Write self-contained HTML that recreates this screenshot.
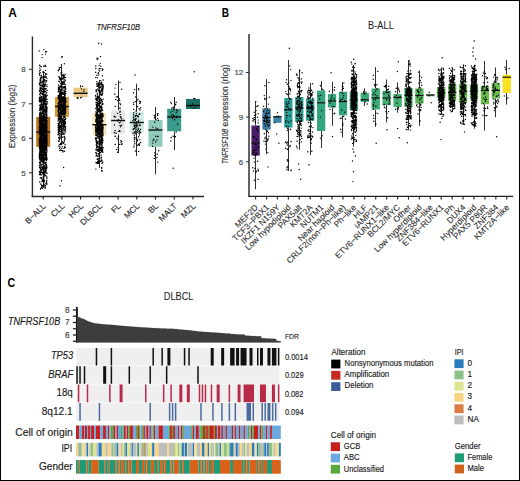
<!DOCTYPE html>
<html><head><meta charset="utf-8"><style>
html,body{margin:0;padding:0;background:#fff;}
svg{display:block;font-family:"Liberation Sans", sans-serif;}
</style></head><body>
<svg width="520" height="481" viewBox="0 0 520 481">
<rect x="0" y="0" width="520" height="481" fill="#fff"/>
<text x="8.20" y="17.20" font-size="12" fill="#000" font-weight="bold" textLength="8.60" lengthAdjust="spacingAndGlyphs">A</text>
<text x="96.40" y="29.80" font-size="8.3" fill="#1a1a1a" stroke="#1a1a1a" stroke-width="0.15" font-style="italic" textLength="43.80" lengthAdjust="spacingAndGlyphs">TNFRSF10B</text>
<line x1="32.40" y1="36.50" x2="32.40" y2="197.10" stroke="#2a2a2a" stroke-width="1.4"/>
<line x1="31.70" y1="196.50" x2="204.00" y2="196.50" stroke="#2a2a2a" stroke-width="1.4"/>
<line x1="29.00" y1="69.30" x2="32.40" y2="69.30" stroke="#333" stroke-width="1.1"/>
<text x="25.60" y="72.05" font-size="8.0" fill="#444" stroke="#444" stroke-width="0.15" text-anchor="end">8</text>
<line x1="29.00" y1="103.80" x2="32.40" y2="103.80" stroke="#333" stroke-width="1.1"/>
<text x="25.60" y="106.55" font-size="8.0" fill="#444" stroke="#444" stroke-width="0.15" text-anchor="end">7</text>
<line x1="29.00" y1="138.30" x2="32.40" y2="138.30" stroke="#333" stroke-width="1.1"/>
<text x="25.60" y="141.05" font-size="8.0" fill="#444" stroke="#444" stroke-width="0.15" text-anchor="end">6</text>
<line x1="29.00" y1="172.80" x2="32.40" y2="172.80" stroke="#333" stroke-width="1.1"/>
<text x="25.60" y="175.55" font-size="8.0" fill="#444" stroke="#444" stroke-width="0.15" text-anchor="end">5</text>
<text x="0" y="0" font-size="8.8" fill="#333" stroke="#333" stroke-width="0.15" text-anchor="middle" textLength="63.60" lengthAdjust="spacingAndGlyphs" transform="translate(15.00,116.40) rotate(-90)">Expression (log2)</text>
<line x1="43.50" y1="72.00" x2="43.50" y2="116.90" stroke="#2a2a2a" stroke-width="1.0"/>
<line x1="43.50" y1="146.80" x2="43.50" y2="188.00" stroke="#2a2a2a" stroke-width="1.0"/>
<rect x="36.20" y="116.90" width="14.00" height="29.90" fill="#b8731c"/>
<line x1="36.20" y1="132.10" x2="50.20" y2="132.10" stroke="#111" stroke-width="1.4"/>
<path d="M40.5 142.5h0M39.9 122.9h0M42.2 129.9h0M43.3 168.4h0M42.7 172.5h0M40.0 166.0h0M45.7 136.5h0M41.0 157.9h0M46.7 124.4h0M42.4 127.4h0M39.7 75.2h0M41.6 102.5h0M40.2 156.1h0M45.7 143.4h0M43.8 152.9h0M42.2 123.7h0M39.8 129.2h0M40.9 168.1h0M42.6 121.1h0M43.9 143.0h0M41.6 134.9h0M44.8 111.0h0M43.8 147.3h0M46.1 130.6h0M41.5 118.1h0M40.2 72.7h0M45.2 136.9h0M43.1 155.4h0M44.5 172.2h0M43.8 115.0h0M41.7 100.3h0M43.9 120.2h0M42.9 127.2h0M46.7 105.0h0M44.5 133.6h0M44.8 167.9h0M47.0 123.2h0M41.5 107.4h0M44.5 138.8h0M42.9 177.1h0M40.2 154.0h0M45.3 168.2h0M41.2 157.4h0M46.1 138.5h0M42.8 163.9h0M46.2 129.1h0M46.0 107.7h0M42.5 145.1h0M46.2 140.4h0M40.5 80.8h0M41.1 153.3h0M43.1 148.3h0M41.3 126.7h0M42.6 185.7h0M43.7 139.8h0M44.7 82.1h0M44.1 131.2h0M39.7 121.4h0M45.4 97.1h0M45.5 100.4h0M42.4 138.4h0M44.2 159.7h0M39.8 167.6h0M40.6 150.4h0M39.7 141.5h0M40.5 189.0h0M42.1 159.9h0M46.1 175.9h0M40.5 125.2h0M42.0 146.7h0M40.3 140.1h0M47.0 103.8h0M43.1 134.1h0M40.1 162.8h0M41.4 141.4h0M40.6 106.4h0M46.7 176.9h0M40.4 130.4h0M39.5 129.5h0M46.9 130.4h0M44.7 101.9h0M42.2 146.1h0M45.3 154.1h0M45.4 130.1h0M41.0 142.1h0M47.0 108.7h0M45.6 103.3h0M45.1 107.8h0M43.3 148.8h0M39.5 140.6h0M41.5 174.9h0M44.7 146.3h0M42.8 81.2h0M47.0 86.6h0M42.1 81.6h0M41.1 149.4h0M40.9 151.5h0M46.3 124.6h0M43.0 104.9h0M45.5 122.8h0M44.5 163.0h0M45.4 94.3h0M43.0 116.9h0M45.5 153.1h0M45.5 141.9h0M42.4 76.9h0M46.7 137.9h0M40.6 118.4h0M40.5 157.6h0M45.6 95.6h0M45.7 155.9h0M44.4 72.6h0M43.6 140.9h0M39.4 157.3h0M44.4 77.2h0M46.6 130.5h0M46.1 136.0h0M40.9 106.8h0M41.6 146.7h0M43.9 147.6h0M42.6 146.2h0M46.4 157.3h0M42.9 140.7h0M46.4 127.0h0M46.5 136.8h0M43.4 132.0h0M39.4 130.7h0M40.7 135.6h0M45.5 185.8h0M43.0 153.6h0M43.6 118.4h0M43.3 142.3h0M45.4 128.7h0M43.7 159.5h0M41.5 146.9h0M43.3 113.9h0M45.2 128.3h0M42.8 93.5h0M43.2 125.3h0M44.7 131.4h0M43.5 134.9h0M46.6 133.4h0M46.1 120.0h0M41.3 85.2h0M46.7 128.5h0M40.4 105.0h0M42.7 158.1h0M41.2 165.5h0M44.5 165.4h0M46.3 112.4h0M44.9 155.2h0M40.4 122.4h0M46.8 99.3h0M46.7 149.5h0M43.1 138.1h0M45.8 66.6h0M42.7 154.6h0M41.9 131.2h0M41.8 151.6h0M39.5 118.6h0M42.7 128.8h0M41.9 179.0h0M43.3 124.6h0M47.0 167.1h0M46.9 111.8h0M41.4 159.6h0M45.4 172.1h0M40.3 145.6h0M46.4 136.7h0M41.3 107.7h0M46.5 155.7h0M44.8 127.8h0M39.7 162.1h0M42.6 120.7h0M46.6 165.5h0M45.6 123.9h0M46.0 163.3h0M46.0 166.7h0M41.9 134.8h0M46.5 128.9h0M40.3 145.7h0M41.2 130.5h0M40.6 159.2h0M40.9 169.9h0M41.7 143.2h0M41.6 115.6h0M40.7 132.1h0M39.4 141.1h0M39.4 146.8h0M43.6 117.9h0M43.0 152.1h0M40.1 87.3h0M42.7 107.8h0M45.8 132.4h0M43.3 138.4h0M47.0 120.7h0M45.8 141.3h0M44.3 119.5h0M42.0 137.7h0M40.3 169.1h0M45.1 165.9h0M40.6 146.5h0M45.9 163.1h0M44.5 100.9h0M41.2 144.9h0M42.9 144.3h0M42.8 154.9h0M46.8 146.0h0M43.6 76.7h0M46.8 147.3h0M42.1 143.3h0M42.3 188.3h0M43.2 133.6h0M43.2 151.1h0M41.4 184.9h0M42.4 162.0h0M39.5 171.7h0M41.1 143.6h0M43.4 126.9h0M44.4 116.8h0M46.2 119.0h0M41.8 138.6h0M40.5 69.9h0M44.3 118.5h0M45.8 171.2h0M44.2 98.1h0M45.6 117.9h0M43.4 156.5h0M45.8 131.8h0M45.7 109.6h0M46.3 127.0h0M44.7 121.0h0M39.5 148.6h0M42.1 157.1h0M45.8 159.6h0M44.2 128.5h0M44.6 124.4h0M39.3 132.7h0M45.1 110.6h0M43.5 131.9h0M39.8 122.4h0M41.3 117.7h0M41.4 165.1h0M40.9 118.2h0M46.9 117.5h0M42.3 132.5h0M44.6 133.3h0M44.1 114.6h0M39.9 123.4h0M41.3 155.8h0M41.7 117.3h0M39.4 128.0h0M41.4 167.9h0M44.7 121.6h0M41.6 121.4h0M42.9 131.1h0M40.2 134.1h0M40.9 97.8h0M46.6 74.0h0M42.9 179.2h0M46.9 107.6h0M41.4 135.1h0M46.7 150.3h0M43.8 150.3h0M43.4 156.3h0M40.3 82.2h0M43.3 107.6h0M44.8 98.7h0M46.3 148.4h0M39.5 132.9h0M43.1 186.1h0M41.7 135.0h0M42.0 156.4h0M45.9 142.9h0M45.2 187.7h0M40.2 105.1h0M44.9 89.6h0M41.6 96.6h0M42.4 139.6h0M43.9 49.6h0M42.6 140.3h0M39.7 145.3h0M45.8 159.8h0M46.6 144.7h0M41.4 146.9h0M40.8 131.4h0M46.8 139.5h0M45.6 99.1h0M46.4 124.1h0M43.6 85.6h0M39.7 118.7h0M42.8 118.0h0M44.3 116.5h0M39.7 144.7h0M40.3 89.5h0M42.0 133.7h0M45.1 144.0h0M41.3 75.2h0M41.6 122.6h0M42.4 128.6h0M40.6 154.1h0M46.4 150.5h0M41.0 132.3h0M47.1 95.2h0M40.4 135.0h0M40.0 151.9h0M40.0 141.4h0M41.3 147.8h0M46.2 127.9h0M42.5 116.9h0M43.4 137.2h0M41.9 139.3h0M41.5 167.6h0M40.3 78.0h0M44.2 131.9h0M41.0 101.9h0M41.2 145.6h0M42.8 138.0h0M45.9 81.9h0M39.5 100.6h0M44.8 173.6h0M43.0 97.6h0M39.3 126.8h0M46.5 138.5h0M46.0 106.9h0M41.2 76.8h0M40.5 159.2h0M44.6 130.7h0M44.9 85.4h0M45.3 123.1h0M43.6 134.6h0M45.4 172.1h0M46.5 148.3h0M41.7 123.3h0M41.3 157.5h0M44.7 123.8h0M39.8 158.9h0M43.8 130.6h0M41.0 138.7h0M39.4 126.0h0M42.9 143.8h0M44.3 80.5h0M43.0 99.2h0M41.2 148.1h0M44.8 80.0h0M39.5 143.4h0M44.6 132.2h0M41.3 136.8h0M46.5 121.9h0M39.6 148.8h0M42.6 141.6h0M40.8 121.0h0M45.1 110.7h0M40.9 131.8h0M41.7 77.4h0M41.1 107.6h0M45.2 149.3h0M46.7 144.2h0M40.8 132.3h0M42.6 149.1h0M46.7 122.1h0M42.4 155.9h0M46.9 150.1h0M39.7 156.3h0M42.4 168.0h0M46.2 97.2h0M47.1 118.0h0M41.9 88.2h0M46.6 152.5h0M39.5 117.1h0M42.3 122.1h0M41.9 139.5h0M39.3 153.9h0M42.0 145.0h0M40.3 81.5h0M40.9 79.0h0M45.7 140.5h0M42.7 107.3h0M43.0 170.1h0M46.5 139.6h0M42.1 151.8h0M39.5 97.4h0M45.6 137.3h0M39.6 114.7h0M39.8 173.0h0M41.3 91.4h0M46.3 117.1h0M41.4 141.6h0M44.1 80.8h0M44.9 146.1h0M41.4 142.9h0M45.2 185.9h0M44.2 92.4h0M39.5 84.9h0M43.0 148.2h0M46.7 81.1h0M41.3 138.8h0M43.1 136.2h0M40.7 89.1h0M45.1 109.9h0M45.3 107.2h0M41.9 125.6h0M42.1 142.7h0M39.9 112.6h0M45.2 151.4h0M39.8 147.0h0M43.6 173.2h0M46.9 142.3h0M47.0 99.2h0M40.0 145.9h0M43.2 160.7h0M42.8 119.3h0M42.6 148.2h0M44.6 124.8h0M45.9 117.0h0M40.2 122.1h0M41.6 104.8h0M42.2 128.0h0M40.9 117.6h0M41.2 147.0h0M46.2 155.3h0M41.8 127.3h0M47.0 138.2h0M41.1 131.7h0M44.4 109.1h0M40.1 65.9h0M45.7 133.6h0M46.4 104.9h0M41.6 171.9h0M40.8 158.3h0M43.8 76.6h0M42.2 88.6h0M42.8 101.5h0M45.4 146.2h0M40.1 84.2h0M44.1 126.3h0M42.2 149.6h0M40.9 156.4h0M44.0 146.5h0M40.9 122.9h0M41.9 181.8h0M40.7 121.3h0M40.9 143.1h0M43.6 110.9h0M40.1 167.3h0M43.6 138.3h0M40.0 123.6h0M44.7 154.4h0M41.5 137.4h0M46.7 143.4h0M43.7 143.1h0M42.5 140.5h0M47.1 101.7h0M40.8 140.1h0M40.9 118.2h0M46.3 184.1h0M45.7 136.6h0M46.2 137.6h0M40.6 134.4h0M43.6 180.3h0M46.4 123.5h0M44.2 162.2h0M43.2 139.7h0M41.5 156.0h0M46.5 130.8h0M43.1 159.2h0M46.8 109.6h0M40.3 151.4h0M46.9 84.9h0M39.7 133.1h0M42.3 89.7h0M44.1 95.8h0M40.6 107.0h0M41.0 112.1h0M45.9 137.7h0M40.7 106.4h0M42.4 149.6h0M42.3 131.0h0M41.2 158.0h0M46.3 118.4h0M43.7 171.8h0M39.6 115.9h0M40.2 105.2h0M43.6 126.0h0M41.7 124.4h0M43.8 136.8h0M44.4 136.5h0M42.7 135.2h0M44.1 176.8h0M41.1 132.7h0M45.4 115.1h0M40.7 134.6h0M40.1 133.7h0M42.7 157.5h0M42.7 161.7h0M39.6 131.5h0M39.9 123.8h0M45.4 117.9h0M39.7 131.4h0M42.2 131.9h0M40.4 82.8h0M47.1 102.7h0M45.7 118.0h0M47.0 151.8h0M46.8 132.6h0M40.6 92.5h0M46.6 111.8h0M42.0 166.9h0M40.5 116.1h0M41.4 97.5h0M40.4 108.2h0M46.5 132.0h0M41.4 150.5h0M41.8 131.7h0M40.7 172.6h0M46.6 154.6h0M46.3 121.2h0M45.4 154.0h0M43.4 158.7h0M42.1 123.8h0M43.6 100.6h0M46.2 127.2h0M47.0 159.6h0M42.4 124.2h0M41.4 110.6h0M43.8 66.2h0M45.3 140.3h0M40.7 135.5h0M39.7 117.3h0M41.3 107.6h0M47.0 123.6h0M44.5 126.9h0M39.3 143.1h0M40.5 173.2h0M42.7 125.0h0M46.3 131.3h0M41.1 157.2h0M39.5 122.8h0M42.1 186.9h0M42.1 159.4h0M43.9 149.1h0M40.9 126.7h0M43.0 124.6h0M46.6 156.9h0M40.5 147.4h0M44.3 160.8h0M45.4 100.8h0M41.4 137.9h0M44.3 181.7h0M42.0 128.3h0M42.8 123.2h0M45.0 86.6h0M46.3 146.9h0M43.4 171.2h0M41.2 137.6h0M45.4 168.3h0M43.6 181.4h0M40.4 85.5h0M44.0 151.2h0M44.3 131.7h0M40.7 108.5h0M41.6 143.3h0M46.2 170.3h0M44.9 112.5h0M45.9 183.9h0M42.9 117.2h0M42.8 117.4h0M40.1 148.9h0M39.6 148.4h0M45.1 141.8h0M45.9 120.2h0M41.4 119.2h0M42.7 128.8h0M43.4 111.8h0M44.3 145.9h0M41.0 78.8h0M39.4 99.6h0M41.1 146.2h0M46.7 117.3h0M41.8 117.1h0M41.9 99.6h0M46.4 147.8h0M44.7 124.2h0M46.9 122.1h0M45.8 133.9h0M46.0 120.1h0M45.0 135.8h0M41.7 127.8h0M44.2 150.1h0M46.4 164.4h0M39.5 156.1h0M46.5 159.4h0M40.4 141.2h0M39.6 174.5h0M44.2 120.4h0M45.0 120.1h0M43.9 166.8h0M45.7 140.1h0M46.3 107.7h0M46.1 166.8h0M46.7 93.0h0M40.9 159.4h0M39.6 158.9h0M45.6 103.9h0M45.7 123.9h0M41.5 124.1h0M40.1 160.0h0M40.9 115.9h0M42.6 142.7h0M41.3 177.8h0M44.9 144.9h0M41.8 139.9h0M43.2 79.1h0M44.1 103.5h0M42.5 173.8h0M45.3 135.8h0M44.8 141.1h0M41.0 129.8h0M40.0 102.0h0M40.6 107.6h0M40.9 188.1h0M46.9 115.3h0M43.1 185.4h0M45.5 132.6h0M43.2 152.6h0M45.8 141.1h0M46.7 146.2h0M41.0 144.8h0M43.2 120.0h0M44.3 159.1h0M45.4 163.8h0M45.4 120.1h0M42.1 124.3h0M42.4 137.9h0M40.0 98.3h0M39.5 98.5h0M41.4 150.7h0M43.2 96.7h0M46.2 139.2h0M42.9 148.2h0M45.2 130.2h0M44.3 116.5h0M41.8 141.0h0M45.9 155.1h0M45.1 122.2h0M42.7 153.9h0M43.8 113.8h0M42.9 157.7h0M41.2 99.0h0M41.7 151.9h0M45.9 119.7h0M40.5 155.2h0M41.8 147.0h0M40.6 130.8h0M40.8 142.2h0M45.0 75.9h0M46.8 159.8h0M42.3 159.9h0M45.5 70.4h0M42.7 117.9h0M44.3 151.5h0M40.9 159.4h0M39.6 138.7h0M45.5 138.0h0M43.2 120.3h0M42.9 124.1h0M44.0 156.3h0M45.1 137.7h0M42.7 94.8h0M45.1 127.6h0M41.1 136.7h0M46.2 118.6h0M44.8 113.7h0M44.6 103.3h0M42.8 123.5h0M44.2 143.1h0M42.6 160.4h0M44.9 112.6h0M41.3 124.2h0M42.9 136.6h0M42.5 124.7h0M46.6 121.4h0M44.4 152.7h0M42.3 113.2h0M46.9 132.7h0M43.5 172.4h0M45.4 154.6h0M43.3 85.6h0M43.8 159.9h0M44.9 129.6h0M44.3 131.4h0M43.4 106.4h0M46.7 137.4h0M44.6 150.3h0M45.2 138.4h0M47.0 158.0h0M39.7 140.6h0M42.4 145.4h0M42.6 181.0h0M44.7 136.8h0M41.4 140.8h0M45.1 149.1h0M43.4 85.8h0M45.6 149.5h0M41.0 138.5h0M45.4 157.4h0M44.2 109.0h0M43.7 133.9h0M46.8 148.9h0M44.3 140.7h0M45.7 107.8h0M41.6 134.0h0M40.3 129.2h0M42.1 105.8h0M41.4 103.5h0M41.3 139.4h0M40.7 136.4h0M44.9 186.9h0M41.2 145.0h0M43.0 143.8h0M44.3 136.3h0M42.1 122.4h0M46.0 89.0h0M45.8 168.6h0M45.4 95.4h0M45.8 156.4h0M39.4 124.0h0M46.7 181.7h0M41.3 122.6h0M40.4 159.9h0M45.4 148.2h0M40.5 141.1h0M45.5 95.9h0M46.3 154.0h0M45.4 125.5h0M46.3 121.9h0M45.8 111.8h0M44.7 151.4h0M45.1 130.2h0M46.2 135.7h0M41.4 128.8h0M40.4 148.2h0M39.8 132.5h0M40.4 134.0h0M43.2 132.6h0M46.0 129.7h0M45.9 183.7h0M43.7 134.0h0M45.9 122.0h0M42.6 139.5h0M39.9 80.0h0M44.3 123.8h0M44.1 174.6h0M46.6 121.0h0M47.0 142.1h0M43.1 131.5h0M39.6 97.3h0M44.2 118.8h0M46.0 141.6h0M43.0 140.0h0M45.3 130.5h0M42.7 150.3h0M43.6 136.7h0M41.6 106.7h0M42.4 106.6h0M41.4 131.9h0M46.9 131.7h0M45.5 122.7h0M41.8 142.0h0M43.9 143.9h0M45.4 123.9h0M44.9 172.0h0M43.6 98.9h0M41.6 170.1h0M40.8 183.9h0M44.0 91.0h0M45.5 122.5h0M44.1 94.2h0M44.2 125.0h0M44.0 120.2h0M41.0 121.1h0M42.9 121.9h0M40.1 115.2h0M39.6 152.8h0M46.4 113.6h0M42.2 122.6h0M45.4 107.3h0M41.3 128.3h0M42.6 143.7h0M42.7 142.8h0M46.6 123.5h0M43.7 169.1h0M40.2 172.1h0M43.8 108.9h0M42.8 91.8h0M42.3 180.6h0M46.6 126.5h0M43.0 72.3h0M40.1 137.2h0M41.0 123.3h0M39.4 155.4h0M44.6 185.1h0M46.8 158.1h0M46.1 162.4h0M39.4 157.5h0M41.2 118.8h0M40.8 117.9h0M45.3 170.0h0M46.0 119.1h0M40.0 118.1h0M44.8 124.3h0M46.6 134.4h0M46.8 146.6h0M39.4 118.9h0M44.4 180.4h0M39.9 108.0h0M45.0 143.2h0M46.0 154.2h0M39.8 132.9h0M43.8 139.9h0M44.6 135.7h0M45.5 156.0h0M44.3 140.1h0M42.6 124.2h0M45.4 138.8h0M45.4 84.4h0M41.6 128.0h0M46.9 167.9h0M45.8 119.7h0M44.0 142.0h0M45.8 74.5h0M41.7 126.0h0M46.2 136.3h0M44.6 139.4h0M46.3 125.9h0M41.5 109.3h0M41.4 187.7h0M43.9 136.7h0M46.2 108.1h0M45.8 171.5h0M46.1 108.7h0M41.4 127.7h0M45.6 103.5h0M46.4 120.9h0M40.0 141.1h0M45.5 128.8h0M45.2 151.2h0M41.1 88.1h0M44.6 125.6h0M40.9 134.1h0M45.2 146.5h0M42.9 111.4h0M45.6 162.5h0M41.1 114.0h0M46.3 127.3h0M43.4 99.0h0M43.9 133.5h0M40.8 152.2h0M44.8 152.9h0M43.7 140.2h0M43.3 137.8h0M39.6 155.7h0M42.2 54.6h0M44.2 159.5h0M40.5 111.9h0M42.0 126.2h0M39.5 130.9h0M47.0 173.3h0M43.1 101.5h0M41.3 128.0h0M42.6 113.0h0M45.3 84.0h0M46.8 107.8h0M39.6 146.6h0M40.7 151.1h0M39.7 163.3h0M46.1 128.6h0M46.7 134.6h0M39.8 94.2h0M42.4 126.1h0M46.8 158.2h0M43.7 146.4h0M46.8 123.5h0M42.4 121.8h0M40.5 135.1h0M47.0 78.6h0M39.6 149.3h0M42.0 146.5h0M46.4 96.2h0M39.7 105.3h0M44.8 112.1h0M47.0 123.2h0M40.4 168.8h0M46.6 116.2h0M41.6 121.3h0M45.2 126.5h0M41.8 159.5h0M40.3 146.4h0M40.6 133.2h0M40.4 147.8h0M39.4 121.3h0M40.8 118.9h0M46.5 172.8h0M46.6 149.4h0M46.2 101.4h0M42.8 156.5h0M46.5 160.6h0M44.2 104.7h0M42.0 134.9h0M43.0 107.2h0M40.4 124.3h0M39.7 149.3h0M43.6 119.1h0M46.1 156.1h0M42.5 145.8h0M41.4 155.1h0M41.9 105.0h0M43.1 154.0h0M46.3 142.8h0M46.9 158.8h0M46.3 168.6h0M40.9 121.9h0M41.5 133.4h0M40.9 146.3h0M47.0 140.1h0M46.5 51.7h0M41.6 160.5h0M39.7 97.5h0M41.6 118.3h0M39.4 73.7h0M42.0 109.3h0M39.3 156.5h0M43.4 106.0h0M42.7 152.4h0M41.0 93.6h0M40.4 127.8h0M45.3 152.9h0M40.8 119.2h0M40.0 164.1h0M43.2 125.5h0M40.9 145.4h0M44.8 125.3h0M43.8 108.7h0M39.8 151.0h0M42.5 118.0h0M39.7 118.6h0M41.9 108.9h0M46.0 104.7h0M39.4 132.5h0M43.0 94.1h0M41.4 100.7h0M45.8 152.4h0M40.6 139.9h0M43.9 139.7h0M43.4 185.2h0M43.3 135.3h0M44.9 158.2h0M46.1 108.1h0M44.8 142.6h0M45.2 139.1h0M46.1 167.8h0M43.2 81.9h0M43.4 131.3h0M39.5 129.8h0M41.0 78.1h0M40.1 152.7h0M45.7 146.8h0M40.1 174.0h0M40.8 120.0h0M44.0 179.1h0M43.4 127.4h0M40.1 119.8h0M44.9 101.0h0M40.3 171.0h0M43.2 132.5h0M40.3 145.1h0M40.4 137.6h0M46.0 126.5h0M43.8 155.8h0M40.6 117.1h0M46.6 106.8h0M42.6 138.6h0M43.4 105.0h0M46.6 138.2h0M41.9 113.3h0M41.9 147.6h0M47.0 135.9h0M46.4 109.7h0M45.9 108.3h0M43.3 169.3h0M46.6 80.8h0M42.6 146.9h0M42.1 124.0h0M39.8 130.2h0M43.2 136.0h0M40.4 177.8h0M45.4 77.5h0M44.2 86.7h0M46.2 109.0h0M39.6 99.0h0M41.4 123.5h0M41.4 121.3h0M46.5 129.5h0M41.3 124.7h0M42.7 130.9h0M41.5 82.8h0M44.4 143.5h0M43.9 158.2h0M43.3 81.3h0M42.9 145.7h0M40.5 130.0h0M40.3 157.9h0M42.5 144.2h0M41.2 144.5h0M43.6 162.4h0M44.1 105.0h0M44.4 127.8h0M44.8 151.1h0M43.6 134.4h0M43.0 125.2h0M41.2 143.2h0M43.3 149.3h0M43.9 139.0h0M42.1 181.6h0M41.2 102.1h0M43.1 128.7h0M47.0 144.8h0M45.3 144.1h0M39.8 154.8h0M42.7 100.8h0M42.3 167.6h0M45.0 135.6h0M41.1 159.2h0M45.1 80.4h0M41.9 155.2h0M44.6 140.8h0M45.9 125.0h0M43.3 107.5h0M45.1 117.6h0M43.0 115.6h0M44.8 112.3h0M40.3 92.9h0M39.3 100.9h0M43.9 114.8h0M46.8 132.2h0M42.6 127.7h0M46.1 112.4h0M42.3 125.6h0M42.9 134.9h0M41.6 118.5h0M43.6 138.5h0M41.8 138.9h0M45.9 112.0h0M42.8 132.1h0M41.7 152.6h0M43.8 156.0h0M40.0 127.1h0M41.8 91.4h0M45.8 104.5h0M40.9 80.5h0M46.4 136.4h0M39.7 182.0h0M43.2 128.2h0M45.3 91.3h0M47.1 129.8h0M43.3 131.0h0M42.3 120.8h0M43.9 140.5h0M46.7 140.9h0M43.4 121.4h0M42.2 160.2h0M43.7 137.9h0M46.2 127.6h0M43.1 78.9h0M44.2 135.6h0M42.0 57.6h0M45.7 130.3h0M41.8 153.8h0M45.7 73.8h0M40.2 131.3h0M44.7 97.7h0M47.0 107.5h0M42.6 98.6h0M41.6 155.0h0M43.2 131.4h0M40.7 152.2h0M44.0 124.2h0M47.1 140.7h0M39.6 123.8h0M45.4 137.3h0M44.7 143.5h0M41.7 185.8h0M43.9 104.7h0M40.8 121.9h0M43.6 132.2h0M44.3 145.9h0M47.1 130.2h0M42.5 127.6h0M40.5 158.1h0M40.1 115.6h0M40.6 160.0h0M45.7 130.7h0M45.6 125.2h0M39.4 167.6h0M41.8 114.2h0M42.1 119.0h0M41.4 153.9h0M46.4 160.1h0M42.0 127.1h0M42.3 135.0h0M46.2 169.1h0M46.8 127.1h0M44.1 135.6h0M39.6 146.9h0M46.0 88.4h0M46.3 143.0h0M41.7 108.2h0M46.8 125.9h0M46.7 132.4h0M42.3 147.4h0M41.0 118.8h0M46.1 143.3h0M45.5 133.0h0M40.7 147.4h0M40.8 140.4h0M41.6 77.0h0M40.2 128.4h0M42.3 130.0h0M39.8 137.8h0M45.7 158.0h0M41.2 140.8h0M41.5 152.0h0M39.6 147.9h0M42.0 122.1h0M44.8 155.1h0M41.4 161.5h0M40.3 105.6h0M45.8 135.4h0M40.5 109.6h0M44.9 140.7h0M46.8 139.3h0M46.7 150.5h0M41.1 131.8h0M40.3 134.9h0M41.3 119.5h0M43.9 97.1h0M41.2 139.9h0M41.0 125.5h0M40.3 100.7h0M43.5 131.3h0M45.3 145.6h0M44.4 138.9h0M41.7 128.0h0M40.0 138.6h0M45.9 153.2h0M44.5 142.6h0M43.7 159.2h0M43.2 140.2h0M39.8 144.0h0M41.1 143.2h0M44.9 157.7h0M42.4 144.9h0M45.3 94.5h0M46.0 99.3h0M41.5 157.2h0M44.6 174.2h0M42.0 122.2h0M44.4 137.2h0M41.2 120.0h0M42.0 104.1h0M40.7 124.3h0M46.4 158.7h0M44.9 117.9h0M39.6 171.9h0M40.8 154.5h0M42.3 143.7h0M41.7 172.2h0M40.7 123.7h0M43.7 105.0h0M41.3 118.9h0M44.6 135.9h0M39.3 141.0h0M45.4 105.7h0M39.6 144.7h0M44.0 103.1h0M41.2 170.5h0M45.5 159.0h0M46.4 150.3h0M40.0 116.9h0M42.4 120.3h0M45.8 117.0h0M40.0 145.0h0M42.6 84.0h0M44.7 88.5h0M45.8 117.6h0M42.8 124.3h0M44.7 169.1h0M43.3 136.3h0M40.3 89.1h0M39.6 115.3h0M45.6 119.8h0M43.6 146.1h0M44.3 77.6h0M41.2 129.4h0M42.1 168.1h0M40.9 137.3h0M40.4 143.2h0M44.5 119.5h0M41.2 147.9h0M42.8 131.2h0M42.0 87.0h0M46.2 143.9h0M43.7 156.3h0M45.7 141.9h0M45.2 129.2h0M44.5 153.9h0M42.9 126.1h0M45.8 114.8h0M41.6 158.7h0M40.9 140.3h0M41.5 167.9h0M44.8 151.5h0M40.2 135.2h0M43.0 142.4h0M40.6 140.2h0M39.4 165.6h0M45.2 65.2h0M44.9 163.2h0M43.7 72.7h0M43.1 159.2h0M40.8 136.0h0M39.4 129.5h0M44.3 91.5h0M46.6 124.3h0M41.3 122.8h0M40.4 147.2h0M45.3 175.0h0M41.6 105.0h0M44.3 152.5h0M46.5 104.2h0M45.4 154.0h0M45.1 106.2h0M40.7 142.3h0M41.8 106.9h0M43.6 139.8h0M45.8 139.8h0M39.6 147.7h0M44.2 128.0h0M44.8 107.6h0M46.7 95.5h0M43.2 132.4h0M41.6 154.9h0M39.9 127.2h0M40.6 120.7h0M46.9 135.4h0M39.6 162.1h0M40.8 135.7h0M39.3 118.5h0M46.0 104.9h0M42.6 112.0h0M44.5 144.8h0M42.6 131.2h0M42.7 141.6h0M45.7 122.0h0M40.6 95.9h0M42.8 144.1h0M42.0 128.2h0M40.0 151.6h0M42.9 142.5h0M46.4 77.0h0M46.9 101.6h0M44.1 79.7h0M39.8 108.8h0M44.1 121.4h0M43.8 144.0h0M43.0 82.2h0M41.6 123.1h0M46.2 141.3h0M40.8 174.9h0M42.8 121.2h0M44.5 163.0h0M43.8 139.6h0M43.4 137.0h0M42.4 128.2h0M40.7 158.7h0M43.6 98.3h0M46.0 158.9h0M40.0 146.6h0M41.3 130.2h0M43.6 132.7h0M43.8 148.9h0M43.3 158.9h0M39.9 126.7h0M39.9 137.5h0M46.0 135.7h0M44.9 129.0h0M40.2 116.0h0M44.9 66.1h0M45.8 159.8h0M40.6 138.5h0M43.7 80.2h0M40.4 113.6h0M39.7 113.4h0M42.2 148.0h0M43.9 180.2h0M41.6 150.0h0M42.6 119.5h0M44.1 98.5h0M43.7 100.7h0M46.1 92.1h0M45.1 154.0h0M45.3 141.4h0M45.7 121.1h0M42.2 158.0h0M46.7 117.7h0M39.6 118.6h0M40.1 125.8h0M45.6 129.1h0M46.5 158.9h0M41.3 121.4h0M42.8 151.8h0M43.8 105.2h0M39.5 158.8h0M45.5 159.1h0M43.6 152.5h0M44.7 144.4h0M40.4 139.1h0M43.5 100.3h0M45.6 120.6h0M39.4 83.3h0M40.5 141.4h0M46.1 132.0h0M39.6 110.2h0M45.7 152.8h0M42.4 121.2h0M40.5 133.5h0M42.4 104.3h0M44.1 100.6h0M41.9 164.8h0M46.3 149.8h0M39.6 126.7h0M42.1 153.9h0M43.8 134.0h0M42.1 138.7h0M43.8 184.0h0M39.5 141.9h0M47.0 134.5h0M40.4 170.9h0M41.4 121.7h0M43.2 145.4h0M43.7 146.1h0M46.8 130.4h0M39.6 65.1h0M45.3 128.4h0M45.3 100.7h0M44.3 124.0h0M41.5 140.2h0M46.1 110.9h0M44.6 86.2h0M45.3 143.6h0M43.3 117.5h0M42.0 123.9h0M42.5 129.0h0M41.9 167.9h0M47.0 142.5h0M42.2 133.2h0M41.1 147.4h0M40.4 141.0h0M46.1 183.5h0M42.8 134.9h0M41.7 127.9h0M39.8 153.9h0M41.7 143.8h0M43.6 118.3h0M42.0 86.5h0M43.9 91.1h0M40.7 164.0h0M47.0 127.2h0M45.3 140.5h0M46.1 136.3h0M43.1 166.5h0M41.5 97.1h0M39.5 146.4h0M41.4 154.3h0M41.0 119.7h0M40.9 138.0h0M46.0 125.8h0M40.8 123.1h0M46.8 117.9h0M39.9 126.0h0M46.1 109.0h0M40.4 141.4h0M43.5 152.2h0M44.3 100.3h0M41.0 90.6h0M45.1 142.3h0M42.5 123.0h0M41.9 121.2h0M42.5 168.5h0M44.2 170.9h0M43.2 141.8h0M41.3 126.2h0M39.4 134.3h0M43.7 89.9h0M39.7 68.1h0M44.9 125.2h0M40.0 142.1h0M40.4 155.1h0M40.0 114.6h0M42.6 108.4h0M43.9 129.7h0M44.4 128.8h0M41.9 125.9h0M41.3 117.4h0M45.3 119.2h0M41.7 113.5h0M46.9 113.9h0M41.5 134.9h0M46.6 130.7h0M39.4 157.2h0M44.4 133.5h0M42.1 113.7h0M41.1 66.8h0M40.0 116.0h0M40.3 174.9h0M43.2 168.0h0M40.7 128.7h0M42.2 85.9h0M40.7 155.7h0M46.5 117.6h0M39.5 154.5h0M41.2 113.2h0M43.2 71.4h0M42.0 123.8h0M42.9 110.2h0M46.3 142.5h0M45.0 159.3h0M44.3 166.9h0M46.0 137.9h0M43.7 168.0h0M46.5 137.4h0M44.2 84.4h0M41.3 149.1h0M42.7 146.1h0M40.9 148.4h0M44.3 115.7h0M47.1 144.0h0M43.7 149.7h0M46.0 155.0h0M41.4 101.1h0M45.7 116.7h0M41.9 144.9h0M46.2 132.9h0M44.6 154.6h0M42.8 126.2h0M46.2 127.3h0M46.2 150.3h0M45.4 140.3h0M40.7 101.9h0M47.1 101.8h0M39.5 144.0h0M46.9 159.0h0M46.4 182.6h0M45.0 155.5h0M40.6 160.5h0M40.0 121.0h0M46.5 141.5h0M46.2 118.9h0M39.6 73.1h0M45.5 148.2h0M39.6 120.6h0M41.1 131.8h0M40.1 136.2h0M47.0 178.2h0M46.2 142.9h0M43.1 158.2h0M42.6 156.8h0M44.6 153.0h0M45.1 155.8h0M40.2 132.1h0M43.2 140.7h0M42.0 91.8h0M46.8 149.9h0M45.0 99.2h0M40.7 145.4h0M39.8 145.9h0M43.3 171.4h0M43.6 137.5h0M39.4 140.2h0M44.4 120.7h0M43.6 129.4h0M47.0 120.5h0M44.9 100.4h0M41.8 138.0h0M46.9 136.9h0M42.3 138.7h0M40.4 137.4h0M39.3 50.9h0M46.5 125.5h0M44.1 146.5h0M41.2 139.3h0M40.2 151.3h0M45.4 104.6h0M39.7 94.6h0M41.8 120.3h0M43.6 123.2h0M46.9 142.9h0M45.1 188.4h0M43.3 103.2h0M47.1 126.5h0M44.2 148.2h0M42.3 117.3h0M42.4 119.2h0M44.1 130.5h0M41.8 121.3h0M43.5 124.3h0M44.1 149.2h0M46.4 145.9h0M44.9 133.7h0M43.0 130.8h0M40.4 149.3h0M43.4 89.3h0M43.4 130.6h0M41.2 108.5h0M45.7 153.6h0M44.3 134.4h0M46.3 106.6h0M39.6 101.3h0M45.8 139.1h0M40.3 107.9h0M41.3 155.3h0M42.1 159.8h0M43.4 109.8h0M40.0 134.9h0M47.1 138.2h0M42.8 120.2h0M45.5 133.4h0M40.5 115.7h0M42.2 121.1h0M41.2 130.8h0M42.0 139.7h0M39.4 139.1h0M43.8 151.1h0M40.7 168.5h0M41.4 118.8h0M41.2 142.4h0M40.0 105.7h0M46.0 123.8h0M42.6 151.1h0M44.1 111.3h0M39.6 139.6h0M42.2 135.5h0M41.6 119.2h0M44.4 137.5h0M42.0 108.8h0M43.8 138.8h0M40.8 90.1h0M44.9 77.0h0M44.5 139.6h0M39.9 142.1h0M42.3 116.1h0M43.2 130.5h0M45.2 96.6h0M43.9 175.8h0M42.9 134.3h0M42.5 105.0h0M46.2 133.7h0M43.1 135.6h0M45.7 131.4h0M45.1 121.7h0M39.6 137.9h0M43.6 121.2h0M45.3 114.3h0M41.0 158.4h0M45.7 164.6h0M40.0 159.8h0M43.7 116.5h0M44.6 169.0h0M43.1 119.3h0M44.7 169.0h0M43.9 136.9h0M45.7 51.7h0M40.4 100.7h0M43.3 141.8h0M47.0 184.0h0M41.3 145.3h0M41.3 143.1h0M43.6 102.5h0M42.6 131.4h0M41.7 169.8h0M45.6 101.4h0M41.3 102.8h0M39.7 151.0h0M42.2 129.9h0M43.1 134.2h0M42.2 127.0h0M40.9 110.1h0M43.6 91.6h0M41.8 169.8h0M42.5 130.1h0M41.8 128.2h0M45.5 145.4h0M44.8 144.4h0M43.9 109.9h0M46.6 134.8h0M46.1 135.3h0M42.7 168.5h0M39.7 123.6h0M39.9 102.0h0M40.7 126.2h0M43.7 90.7h0M43.2 110.2h0M44.6 121.5h0M40.9 144.2h0M40.4 105.2h0M40.9 92.0h0M40.0 159.9h0M46.7 112.4h0M44.4 137.1h0M46.4 146.4h0M40.5 120.8h0M44.7 168.7h0M45.8 171.6h0M41.1 144.2h0M41.8 127.1h0M40.5 128.4h0M41.8 93.7h0M40.5 104.8h0M46.9 110.3h0M39.6 138.5h0M44.3 139.2h0M43.6 149.1h0M42.9 161.3h0M42.7 118.2h0M40.2 121.2h0M40.3 106.5h0M47.1 90.5h0M43.4 86.0h0M42.0 144.4h0M43.2 116.9h0M40.0 88.6h0M46.0 133.0h0M43.5 126.2h0M40.4 162.3h0M46.3 145.6h0M41.1 104.2h0M39.6 90.1h0M46.8 126.1h0M46.7 141.3h0M39.7 122.6h0M42.8 141.9h0M45.1 147.0h0M45.4 153.1h0M39.8 144.0h0M40.0 128.5h0M45.4 129.0h0M42.9 126.3h0M43.3 173.3h0M44.3 160.6h0M43.8 157.2h0M42.2 140.8h0M40.6 122.2h0M46.6 153.9h0M45.9 142.0h0M43.0 100.5h0M40.0 155.7h0M40.2 99.8h0M43.5 132.3h0M42.9 158.5h0M43.5 154.4h0M42.2 131.7h0M42.4 151.4h0M40.3 150.9h0M46.1 147.7h0M46.2 132.0h0M46.7 180.2h0M45.5 132.8h0M44.7 127.8h0M45.2 148.6h0M41.4 155.3h0M42.4 173.8h0M41.6 131.0h0M40.0 98.3h0M41.1 127.3h0M45.4 126.3h0M39.8 119.3h0M44.0 147.2h0M39.6 71.0h0M44.7 124.9h0M42.0 108.3h0M42.9 108.9h0M39.4 91.2h0M42.5 85.7h0M40.0 137.6h0M45.0 147.3h0M40.5 121.2h0M40.4 141.3h0M41.0 151.4h0M46.9 142.0h0M45.5 54.1h0" stroke="#000" stroke-width="1.44" stroke-linecap="round" fill="none"/>
<line x1="43.20" y1="196.60" x2="43.20" y2="199.60" stroke="#222" stroke-width="1.1"/>
<text x="0" y="0" font-size="8.4" fill="#2a2a2a" stroke="#2a2a2a" stroke-width="0.15" text-anchor="end" transform="translate(46.40,206.60) rotate(-45)">B−ALL</text>
<line x1="61.50" y1="64.00" x2="61.50" y2="97.10" stroke="#2a2a2a" stroke-width="1.0"/>
<line x1="61.50" y1="116.90" x2="61.50" y2="145.00" stroke="#2a2a2a" stroke-width="1.0"/>
<rect x="54.90" y="97.10" width="14.00" height="19.80" fill="#d69a3c"/>
<line x1="54.90" y1="106.50" x2="68.90" y2="106.50" stroke="#111" stroke-width="1.4"/>
<path d="M61.9 107.4h0M65.1 95.2h0M63.0 97.0h0M62.9 121.8h0M64.1 90.8h0M63.6 130.9h0M59.3 113.1h0M63.2 77.6h0M59.1 97.3h0M65.3 92.0h0M63.8 87.0h0M64.3 91.7h0M61.4 103.1h0M64.1 92.2h0M60.3 89.2h0M62.1 78.5h0M58.9 81.2h0M64.1 77.1h0M64.5 117.4h0M59.5 119.0h0M59.8 108.4h0M65.1 106.8h0M63.5 99.5h0M64.1 111.3h0M63.3 94.3h0M64.4 82.0h0M58.7 110.6h0M64.5 100.8h0M62.6 113.6h0M64.2 91.5h0M61.8 150.4h0M58.9 146.3h0M61.3 93.0h0M61.6 102.6h0M59.7 113.7h0M64.6 112.9h0M60.3 102.0h0M60.1 131.3h0M61.4 98.9h0M64.3 100.4h0M63.3 128.5h0M64.4 140.3h0M60.1 123.1h0M60.8 79.1h0M64.9 119.7h0M65.0 102.4h0M61.9 111.1h0M62.0 79.4h0M59.5 69.3h0M59.3 91.8h0M58.0 105.5h0M65.4 123.9h0M64.3 108.5h0M60.7 117.5h0M62.3 130.2h0M62.0 89.8h0M65.2 111.9h0M63.2 87.7h0M62.9 132.9h0M65.5 109.0h0M63.2 112.6h0M60.9 101.5h0M63.3 105.7h0M61.9 86.8h0M65.6 112.5h0M64.5 137.0h0M62.3 99.6h0M63.9 108.8h0M63.7 87.9h0M58.3 97.1h0M59.1 114.2h0M65.0 80.0h0M62.6 126.5h0M58.4 103.6h0M63.8 111.2h0M60.2 101.2h0M60.3 96.3h0M61.3 104.8h0M63.1 75.3h0M63.3 93.5h0M65.5 111.8h0M63.4 98.6h0M59.3 116.3h0M64.4 103.7h0M60.7 94.2h0M62.0 126.9h0M59.3 88.8h0M59.3 97.5h0M58.4 114.8h0M61.0 115.4h0M65.5 77.4h0M60.4 122.9h0M59.5 81.7h0M61.4 114.4h0M60.0 129.6h0M61.0 111.2h0M60.1 78.0h0M65.1 121.4h0M64.5 108.7h0M64.1 101.3h0M59.2 114.7h0M61.7 96.6h0M63.2 104.3h0M60.1 96.9h0M65.2 112.5h0M60.2 105.4h0M60.0 101.6h0M58.3 95.7h0M62.4 92.1h0M65.3 112.9h0M59.9 116.8h0M62.3 134.2h0M63.3 96.9h0M64.3 110.3h0M60.4 129.3h0M65.5 101.1h0M63.4 101.5h0M61.1 95.5h0M63.8 82.3h0M61.1 113.5h0M60.7 93.5h0M64.8 123.0h0M62.1 105.3h0M65.0 100.1h0M60.6 127.4h0M61.2 135.0h0M64.6 106.4h0M62.5 100.2h0M62.5 110.7h0M64.6 116.5h0M64.5 94.6h0M63.2 125.9h0M61.9 96.8h0M65.0 87.4h0M64.4 97.4h0M64.9 100.9h0M63.5 127.6h0M62.8 98.8h0M58.5 116.4h0M64.4 102.6h0M59.7 116.5h0M58.7 119.7h0M65.6 99.9h0M60.8 93.7h0M58.6 99.0h0M60.5 91.3h0M62.9 150.8h0M60.1 127.0h0M61.5 136.5h0M64.3 104.4h0M64.5 140.8h0M59.8 129.4h0M60.7 101.6h0M62.4 113.9h0M64.2 120.2h0M64.5 121.0h0M62.2 93.3h0M64.1 142.7h0M61.9 143.2h0M58.5 109.8h0M63.7 101.6h0M61.1 103.3h0M62.6 106.0h0M64.8 119.5h0M64.3 63.8h0M60.6 78.4h0M58.6 70.8h0M59.0 107.5h0M63.3 108.5h0M61.5 98.7h0M59.5 113.5h0M60.2 110.8h0M63.7 122.3h0M61.4 105.9h0M63.5 122.0h0M60.1 122.0h0M63.5 104.2h0M63.8 76.3h0M65.2 80.8h0M63.6 98.1h0M59.6 135.7h0M64.7 147.4h0M62.9 98.2h0M60.8 116.9h0M62.9 124.9h0M60.4 67.4h0M59.4 139.7h0M65.0 112.9h0M61.5 93.5h0M58.8 130.1h0M64.1 125.7h0M65.7 107.8h0M64.2 86.5h0M64.4 107.5h0M58.8 127.9h0M62.0 104.1h0M60.0 121.0h0M65.1 144.7h0M65.4 98.6h0M61.4 74.6h0M61.0 97.8h0M64.6 93.1h0M58.1 127.4h0M62.6 120.6h0M58.1 111.8h0M64.1 91.9h0M58.3 108.1h0M62.2 88.0h0M60.5 134.0h0M64.9 101.8h0M63.0 107.2h0M59.9 121.3h0M61.0 86.9h0M62.6 130.0h0M59.6 128.1h0M62.6 108.4h0M63.5 101.4h0M58.5 109.2h0M58.4 98.1h0M61.1 107.8h0M63.6 100.0h0M63.1 118.4h0M61.7 99.3h0M65.1 126.7h0M58.5 102.8h0M65.7 118.5h0M61.1 119.3h0M64.4 94.6h0M63.8 101.5h0M58.7 141.0h0M64.3 75.7h0M58.4 141.1h0M65.3 118.3h0M63.2 120.1h0M63.0 84.1h0M60.1 86.0h0M58.1 125.7h0M58.8 96.6h0M63.5 76.3h0M64.3 122.9h0M62.0 124.9h0M64.1 129.8h0M65.1 88.0h0M64.6 151.2h0M64.4 104.4h0M62.8 106.4h0M64.2 102.9h0M58.4 132.5h0M60.3 104.8h0M58.1 111.0h0M58.2 97.3h0M64.3 91.9h0M59.0 108.3h0M59.6 100.9h0M58.9 109.6h0M62.3 75.6h0M58.7 113.0h0M64.6 97.8h0M58.8 90.7h0M60.4 112.3h0M59.2 96.3h0M65.6 102.5h0M58.1 95.9h0M58.9 133.1h0M62.7 99.3h0M61.6 105.7h0M62.8 110.6h0M65.1 100.9h0M64.2 97.8h0M64.5 86.5h0M58.2 98.4h0M64.6 99.7h0M64.8 109.5h0M65.4 123.5h0M63.5 109.1h0M60.3 117.4h0M60.5 113.2h0M61.5 130.7h0M63.1 74.4h0M63.9 83.8h0M65.8 91.4h0M60.1 96.9h0M61.2 117.5h0M59.8 144.8h0M65.2 88.2h0M64.0 114.0h0M64.9 95.5h0M62.1 94.2h0M64.4 129.9h0M62.9 114.7h0M62.2 112.3h0M59.3 77.6h0M63.1 105.3h0M65.3 105.1h0M65.1 110.6h0M65.5 99.4h0M59.7 131.2h0M65.1 115.9h0M60.0 147.2h0M65.7 98.4h0M61.4 123.8h0M63.4 99.5h0M63.9 97.2h0M60.0 117.6h0M63.4 143.3h0M60.0 121.0h0M63.0 77.9h0M63.1 103.1h0M63.4 102.8h0M58.5 115.1h0M58.1 134.8h0M59.1 112.6h0M61.9 129.2h0M63.4 76.9h0M64.0 116.5h0M58.8 123.7h0M61.2 115.2h0M61.5 99.4h0M58.7 97.9h0M60.7 83.7h0M58.2 91.7h0M59.8 92.0h0M64.3 90.2h0M60.2 100.1h0M59.5 148.6h0M59.2 87.0h0M62.6 100.5h0M59.4 100.4h0M58.8 126.6h0M61.0 73.2h0M62.4 100.8h0M58.5 119.8h0M64.6 146.8h0M65.5 127.7h0M63.6 112.5h0M64.1 127.0h0M60.9 117.4h0M58.9 105.6h0M64.2 117.6h0M61.0 115.9h0M59.7 96.1h0M59.7 122.3h0M60.8 111.6h0M61.7 101.2h0M58.4 89.3h0M64.5 100.3h0M58.2 118.8h0M58.9 109.2h0M63.5 108.3h0M58.9 130.8h0M59.4 107.4h0M61.4 119.1h0M58.5 128.7h0M61.7 112.6h0M62.3 83.0h0M59.7 133.8h0M62.4 97.3h0M65.5 89.3h0M58.9 90.1h0M62.1 81.7h0M59.3 118.4h0M59.7 89.6h0M60.1 131.7h0M61.6 85.2h0M58.6 97.8h0M60.5 108.6h0M63.2 121.3h0M58.9 112.6h0M61.8 72.2h0M58.1 123.5h0M62.0 100.7h0M61.7 144.0h0M62.2 97.5h0M61.9 118.9h0M63.1 102.6h0M64.3 126.5h0M63.8 81.3h0M60.9 90.1h0M59.4 87.1h0M62.7 119.5h0M58.6 87.2h0M58.3 120.3h0M59.1 109.2h0M63.8 122.5h0M65.3 103.4h0M63.3 110.8h0M65.4 147.6h0M61.7 118.9h0M65.4 106.1h0M65.7 106.8h0M59.7 101.9h0M59.6 91.6h0M61.6 57.2h0M65.5 119.5h0M61.2 114.3h0M63.2 113.4h0M60.9 144.4h0M64.5 125.0h0M62.7 151.9h0M61.5 117.2h0M63.6 104.2h0M59.9 127.1h0M65.5 128.5h0M59.1 126.1h0M62.5 105.7h0M58.4 88.2h0M59.3 118.8h0M61.5 103.3h0M64.9 110.5h0M64.7 100.4h0M60.1 79.2h0M61.2 82.0h0M65.1 138.2h0M58.1 129.9h0M60.3 115.8h0M64.8 77.4h0M62.1 110.0h0M64.3 90.6h0M62.0 100.7h0M59.9 128.9h0M62.6 100.6h0M65.0 93.8h0M59.5 78.2h0M65.0 132.9h0M59.4 103.9h0M60.0 99.3h0M60.9 118.6h0M63.3 105.6h0M63.8 133.4h0M61.7 101.8h0M64.2 100.0h0M61.7 148.6h0M63.5 99.8h0M59.4 101.0h0M64.1 78.9h0M61.4 119.0h0M59.6 79.1h0M65.5 110.5h0M59.8 87.3h0M60.8 97.7h0M64.0 100.4h0M59.7 127.9h0M60.1 120.5h0M59.1 141.6h0M61.3 110.6h0M62.5 132.5h0M62.5 81.9h0M63.5 112.9h0M59.4 109.3h0M58.1 107.3h0M59.3 99.9h0M65.5 112.2h0M64.5 96.0h0M62.9 101.2h0M65.5 98.8h0M64.0 122.1h0M60.0 115.3h0M62.7 92.4h0M64.8 90.6h0M59.5 103.2h0M62.2 146.7h0M60.1 98.0h0M58.0 134.2h0M63.4 124.0h0M59.8 150.6h0M63.5 116.8h0M58.2 70.2h0M65.3 129.1h0M59.2 76.8h0M62.1 113.7h0M61.3 114.4h0M60.0 107.4h0M58.7 137.4h0M58.7 125.0h0M63.4 101.8h0M64.2 116.9h0M60.7 97.9h0M59.5 106.9h0M62.4 84.4h0M59.2 138.2h0M61.0 99.3h0M59.8 98.3h0M64.3 94.0h0M62.6 130.8h0M63.5 122.5h0M64.2 93.6h0M58.7 119.1h0M62.4 100.4h0M59.5 127.0h0M58.8 103.4h0M59.9 101.5h0M61.3 117.1h0M63.7 105.3h0M63.7 142.6h0M60.3 120.0h0M63.4 101.2h0M65.0 102.2h0M60.4 121.4h0M60.0 100.4h0M59.8 125.4h0M64.5 95.7h0M65.5 98.4h0M60.4 94.2h0M63.6 114.6h0M62.8 137.3h0M58.4 131.2h0M59.2 106.0h0M64.8 83.9h0M59.5 108.2h0M62.0 128.6h0M60.8 105.7h0M62.1 98.4h0M58.8 95.4h0M61.0 134.2h0M60.0 107.2h0M59.7 100.2h0M61.7 114.5h0M64.0 98.5h0M61.5 112.1h0M65.3 84.6h0M58.8 102.0h0M63.0 108.4h0M58.3 116.2h0M65.1 74.2h0M61.6 127.8h0M60.3 102.0h0M63.9 134.5h0M61.4 95.7h0M61.1 131.5h0M65.5 130.8h0M60.2 138.2h0M59.1 95.9h0M58.6 129.7h0M62.1 124.8h0M59.3 91.7h0M64.0 124.0h0M60.6 109.8h0M59.9 128.3h0M58.9 76.5h0M63.8 117.1h0M65.1 87.8h0M65.5 107.7h0M60.3 102.6h0M63.6 108.0h0M59.0 97.7h0M65.5 122.3h0M64.3 129.7h0M59.9 113.6h0M61.7 117.3h0M59.2 68.0h0M60.5 90.3h0M63.8 124.1h0M59.5 113.5h0M64.4 110.1h0M62.5 89.7h0M64.0 148.4h0M65.0 102.5h0M60.6 80.1h0M64.4 90.7h0M60.9 116.8h0M60.8 112.0h0M58.9 111.9h0M65.1 119.4h0M63.0 110.4h0M63.9 88.1h0M65.2 118.0h0M65.7 93.6h0M63.9 97.9h0M60.0 93.0h0M61.0 100.6h0M59.0 91.2h0M60.6 105.0h0M60.7 92.5h0M64.6 91.0h0M59.1 88.7h0M63.8 82.7h0M63.1 99.8h0M64.8 138.9h0M61.6 104.7h0M64.1 113.6h0M64.8 95.0h0M60.7 120.6h0M58.8 117.6h0M58.2 114.1h0M59.8 94.1h0M58.5 134.0h0M59.5 97.4h0M61.1 108.2h0M65.4 93.7h0M62.9 114.9h0M61.7 87.6h0M63.7 87.3h0M64.8 114.8h0M58.8 103.7h0M64.5 103.2h0M61.8 105.8h0M64.9 110.2h0M59.6 100.3h0M60.8 112.6h0M63.4 78.9h0M65.1 128.2h0M62.6 141.8h0M63.6 109.5h0M58.7 109.6h0M64.4 105.6h0M60.8 94.6h0M63.8 119.9h0M59.7 93.7h0M65.7 88.4h0M61.0 109.4h0M65.3 98.6h0M60.4 121.6h0M63.7 114.0h0M62.3 122.9h0M63.2 106.5h0M65.5 126.6h0M62.4 56.6h0M59.4 94.1h0M62.3 86.6h0M64.8 96.5h0M65.2 112.6h0M58.2 121.1h0M65.0 106.4h0M65.4 87.3h0M65.3 106.1h0M59.1 104.2h0M64.3 101.6h0M62.7 109.9h0M60.2 117.1h0M62.0 110.0h0M58.7 107.9h0M60.7 150.0h0M63.8 98.3h0M60.0 118.6h0M59.4 105.9h0M65.1 102.6h0M62.6 121.6h0M63.8 98.2h0M63.5 98.5h0M64.5 116.5h0M58.4 85.1h0M61.5 81.6h0M58.5 131.5h0M63.3 94.0h0M61.6 126.7h0M65.8 101.3h0M64.0 113.7h0M59.6 117.9h0M61.2 125.1h0M60.4 102.1h0M59.7 125.0h0M59.5 131.6h0M61.9 114.6h0M61.7 123.2h0M65.6 109.1h0M65.4 107.1h0M59.5 107.8h0M59.1 103.0h0M58.6 124.4h0M65.5 98.9h0M60.8 110.8h0M60.7 109.8h0M61.1 99.3h0M64.7 125.8h0M58.1 103.8h0M63.7 90.6h0M62.9 112.9h0M61.1 86.0h0M60.3 109.5h0M63.2 104.5h0M65.4 97.7h0M60.9 126.4h0M64.2 90.5h0M63.3 103.1h0M65.4 113.5h0M61.1 104.6h0M58.9 123.3h0M64.2 87.5h0M60.5 143.5h0M61.9 107.4h0M65.0 112.5h0M62.1 113.1h0M63.0 84.3h0M60.6 107.5h0M62.8 111.5h0M60.0 94.8h0M61.0 112.2h0M65.1 112.5h0M60.2 105.0h0M64.4 113.9h0M63.4 125.2h0M59.5 144.6h0M64.3 136.4h0M59.8 126.3h0M60.1 136.9h0M63.6 97.7h0M65.4 86.6h0M65.2 104.6h0M65.2 131.2h0M59.5 109.4h0M63.1 151.2h0M63.6 167.5h0M61.4 180.7h0M60.0 185.7h0" stroke="#000" stroke-width="1.44" stroke-linecap="round" fill="none"/>
<line x1="61.90" y1="196.60" x2="61.90" y2="199.60" stroke="#222" stroke-width="1.1"/>
<text x="0" y="0" font-size="8.4" fill="#2a2a2a" stroke="#2a2a2a" stroke-width="0.15" text-anchor="end" transform="translate(65.10,206.60) rotate(-45)">CLL</text>
<line x1="80.50" y1="85.00" x2="80.50" y2="87.70" stroke="#2a2a2a" stroke-width="1.0"/>
<line x1="80.50" y1="97.20" x2="80.50" y2="98.60" stroke="#2a2a2a" stroke-width="1.0"/>
<rect x="73.60" y="87.70" width="14.00" height="9.50" fill="#e9c883"/>
<line x1="73.60" y1="93.30" x2="87.60" y2="93.30" stroke="#111" stroke-width="1.4"/>
<path d="M82.4 86.4h0M83.9 91.2h0M77.5 98.4h0M77.3 97.8h0M81.5 88.9h0M78.2 97.9h0M81.4 97.4h0M83.9 89.6h0" stroke="#000" stroke-width="1.44" stroke-linecap="round" fill="none"/>
<line x1="80.60" y1="196.60" x2="80.60" y2="199.60" stroke="#222" stroke-width="1.1"/>
<text x="0" y="0" font-size="8.4" fill="#2a2a2a" stroke="#2a2a2a" stroke-width="0.15" text-anchor="end" transform="translate(83.80,206.60) rotate(-45)">HCL</text>
<line x1="99.50" y1="80.00" x2="99.50" y2="113.00" stroke="#2a2a2a" stroke-width="1.0"/>
<line x1="99.50" y1="135.30" x2="99.50" y2="168.00" stroke="#2a2a2a" stroke-width="1.0"/>
<rect x="92.40" y="113.00" width="14.00" height="22.30" fill="#f8e8c2"/>
<line x1="92.40" y1="124.70" x2="106.40" y2="124.70" stroke="#111" stroke-width="1.4"/>
<path d="M103.0 130.6h0M98.6 127.5h0M97.4 135.2h0M103.2 80.0h0M96.9 115.1h0M96.8 141.9h0M101.2 131.0h0M99.6 153.2h0M95.9 116.2h0M101.6 127.3h0M99.0 121.2h0M100.2 98.1h0M98.6 131.6h0M102.1 87.9h0M99.9 93.2h0M96.9 145.4h0M100.8 129.6h0M101.7 168.3h0M99.5 108.9h0M101.7 167.5h0M100.7 128.3h0M101.1 121.4h0M102.9 128.6h0M102.7 85.7h0M98.0 119.3h0M97.6 129.9h0M101.6 95.3h0M101.8 108.7h0M100.8 68.6h0M101.4 132.4h0M100.2 134.8h0M102.1 143.9h0M97.7 125.2h0M96.2 91.7h0M101.4 90.4h0M101.4 144.7h0M102.5 121.3h0M98.8 120.7h0M96.3 89.8h0M96.4 109.9h0M96.5 134.2h0M99.0 99.3h0M97.6 114.1h0M100.5 113.9h0M99.4 149.6h0M97.2 114.3h0M97.7 117.5h0M102.6 130.2h0M103.2 88.0h0M99.9 127.8h0M101.4 106.4h0M102.2 126.6h0M102.8 128.9h0M96.5 125.9h0M96.7 113.0h0M96.0 116.3h0M99.7 71.1h0M96.6 113.4h0M98.5 118.3h0M101.8 135.4h0M99.2 158.2h0M102.1 150.6h0M95.9 96.8h0M99.2 126.2h0M101.1 114.5h0M102.7 131.3h0M96.6 141.3h0M96.5 105.7h0M99.4 141.3h0M96.8 131.6h0M99.2 90.4h0M97.5 108.9h0M97.3 93.7h0M100.3 94.8h0M101.5 82.3h0M99.7 118.6h0M99.0 101.1h0M102.5 149.5h0M100.8 106.7h0M97.4 113.2h0M101.9 126.3h0M102.6 84.5h0M100.8 143.7h0M98.7 122.2h0M96.6 143.0h0M99.3 126.0h0M98.4 134.5h0M101.4 122.2h0M96.8 120.5h0M98.4 97.6h0M103.1 84.9h0M100.0 145.6h0M98.5 83.6h0M98.0 122.5h0M97.2 159.3h0M97.8 147.1h0M99.9 118.6h0M100.8 87.0h0M102.8 130.5h0M99.7 118.4h0M100.7 100.2h0M100.2 130.6h0M103.0 133.2h0M103.0 135.8h0M95.7 152.7h0M97.2 122.2h0M96.5 124.4h0M100.7 103.2h0M102.6 116.1h0M100.8 66.2h0M95.6 114.7h0M98.8 154.2h0M98.0 83.2h0M95.7 121.5h0M102.5 128.3h0M101.9 120.5h0M97.1 163.2h0M101.9 141.9h0M102.7 149.2h0M102.3 134.6h0M98.1 124.0h0M98.7 83.7h0M96.1 115.5h0M103.1 103.9h0M101.3 148.3h0M96.7 134.4h0M100.6 130.5h0M103.2 86.1h0M100.3 63.6h0M96.8 117.5h0M99.8 114.1h0M102.4 130.7h0M96.7 135.1h0M96.7 143.9h0M101.7 120.6h0M99.4 143.7h0M99.9 121.2h0M99.7 128.4h0M96.0 162.7h0M97.4 128.0h0M97.4 112.2h0M97.4 104.6h0M99.2 150.0h0M98.1 129.5h0M97.3 111.3h0M101.9 116.7h0M99.4 126.7h0M100.2 91.6h0M96.1 141.8h0M98.1 151.0h0M100.5 150.4h0M97.9 127.9h0M102.7 124.1h0M96.8 135.8h0M98.1 133.0h0M101.0 94.2h0M96.9 127.7h0M96.5 155.1h0M100.5 102.0h0M100.4 144.0h0M99.5 153.2h0M96.4 131.7h0M101.0 113.4h0M96.9 124.2h0M98.9 116.8h0M96.3 117.2h0M95.6 95.5h0M98.6 137.9h0M96.3 140.1h0M103.2 115.9h0M97.6 131.7h0M97.3 116.7h0M100.8 128.9h0M96.8 127.6h0M99.7 152.1h0M102.6 68.9h0M99.4 149.3h0M97.1 125.2h0M99.4 116.8h0M97.8 106.3h0M101.8 89.7h0M96.7 125.8h0M96.6 125.4h0M100.9 116.0h0M103.0 121.0h0M101.0 155.2h0M96.5 107.2h0M96.0 132.2h0M101.1 120.8h0M100.9 131.1h0M101.0 130.4h0M103.0 134.2h0M95.6 127.3h0M101.1 150.1h0M100.4 100.0h0M102.2 144.1h0M96.5 114.6h0M100.7 129.8h0M95.9 169.1h0M102.2 130.9h0M98.0 58.6h0M101.6 94.3h0M100.1 100.0h0M100.5 83.1h0M99.9 87.1h0M99.5 140.3h0M98.2 125.4h0M99.5 130.1h0M97.3 120.6h0M99.4 134.1h0M98.8 124.5h0M97.0 117.0h0M97.7 123.2h0M100.9 110.7h0M99.5 109.5h0M102.6 135.4h0M98.5 124.2h0M98.7 133.6h0M101.8 114.9h0M101.2 125.4h0M99.0 138.8h0M97.9 130.7h0M101.3 130.7h0M97.2 113.8h0M101.6 136.8h0M100.7 117.5h0M100.9 118.4h0M96.1 134.3h0M95.8 130.6h0M99.6 84.5h0M102.9 116.7h0M97.3 106.8h0M96.4 131.6h0M101.2 107.8h0M98.4 125.2h0M99.3 134.5h0M102.4 114.8h0M102.2 101.8h0M98.8 127.3h0M103.0 132.6h0M96.8 141.5h0M102.6 134.0h0M98.1 101.4h0M102.4 101.5h0M97.1 127.8h0M98.4 110.4h0M102.5 147.5h0M98.6 127.3h0M97.5 120.2h0M98.6 161.4h0M95.7 129.8h0M101.4 130.1h0M100.8 131.8h0M97.0 118.9h0M100.7 161.4h0M97.8 119.5h0M102.1 140.0h0M97.4 94.3h0M100.0 120.7h0M95.9 132.2h0M100.5 132.1h0M99.5 119.9h0M97.2 147.2h0M98.8 132.7h0M102.5 130.5h0M103.1 147.8h0M102.1 136.2h0M100.1 135.9h0M95.9 129.9h0M101.8 107.7h0M101.5 134.5h0M103.1 125.6h0M98.5 153.6h0M100.3 137.4h0M102.0 109.8h0M98.5 122.4h0M96.4 107.4h0M101.3 134.9h0M103.1 127.2h0M99.1 150.2h0M95.6 138.8h0M96.3 149.9h0M98.9 130.3h0M97.8 124.3h0M99.5 115.2h0M96.9 75.3h0M99.4 124.2h0M102.1 130.1h0M102.3 139.1h0M98.1 130.7h0M99.9 119.3h0M96.2 133.9h0M98.4 85.7h0M100.6 148.0h0M98.1 123.2h0M102.0 132.0h0M98.8 131.5h0M98.3 85.4h0M96.8 128.9h0M100.7 117.1h0M98.7 127.0h0M101.6 136.9h0M101.9 126.5h0M101.2 130.0h0M97.3 159.3h0M100.8 84.7h0M99.4 116.5h0M97.1 125.9h0M100.5 142.5h0M97.6 115.6h0M96.6 117.9h0M96.9 119.4h0M98.0 124.3h0M96.6 122.3h0M100.3 125.4h0M97.9 146.1h0M99.8 116.3h0M101.5 119.2h0M97.3 121.4h0M101.9 127.1h0M101.3 121.6h0M99.0 130.5h0M101.8 83.0h0M96.4 117.5h0M95.9 119.5h0M103.0 89.7h0M97.6 114.0h0M96.9 102.1h0M99.6 104.2h0M102.4 162.6h0M101.9 127.2h0M99.6 115.9h0M97.1 100.3h0M98.2 96.2h0M98.2 160.0h0M96.1 152.5h0M96.5 118.9h0M97.8 143.7h0M102.6 134.1h0M102.2 95.0h0M98.9 70.1h0M97.7 107.8h0M101.8 91.1h0M97.3 113.8h0M102.6 150.1h0M100.3 122.3h0M96.7 100.3h0M99.1 115.4h0M99.1 108.9h0M102.9 140.3h0M101.3 134.0h0M97.5 103.8h0M98.6 115.6h0M97.3 137.7h0M98.4 86.0h0M99.4 124.2h0M101.3 159.9h0M102.3 113.2h0M97.2 130.8h0M101.2 131.2h0M98.7 117.3h0M96.8 123.5h0M99.2 92.6h0M101.6 124.4h0M101.1 140.2h0M101.8 130.9h0M97.7 149.9h0M99.3 118.4h0M100.0 129.9h0M98.9 138.3h0M101.7 170.5h0M101.9 135.1h0M100.2 122.3h0M96.6 118.8h0M97.8 109.9h0M101.6 100.2h0M101.8 116.4h0M100.7 127.4h0M97.0 86.2h0M98.7 149.3h0M96.7 124.3h0M102.2 138.0h0M96.7 129.4h0M100.0 141.6h0M99.2 140.9h0M98.9 122.9h0M102.0 124.5h0M102.7 162.3h0M95.9 140.0h0M99.9 111.0h0M97.3 122.9h0M97.9 109.5h0M97.3 114.1h0M100.5 121.3h0M99.2 130.1h0M100.5 152.6h0M96.8 115.7h0M101.2 122.3h0M102.0 149.2h0M96.0 99.4h0M96.2 135.4h0M96.3 135.2h0M97.5 125.2h0M99.1 133.2h0M101.6 130.1h0M96.5 114.3h0M95.7 137.8h0M96.4 131.9h0M101.5 115.5h0M97.2 59.6h0M101.4 157.3h0M102.7 128.4h0M98.0 129.3h0M102.8 151.9h0M98.9 124.1h0M101.4 127.4h0M99.2 103.8h0M98.7 142.0h0M98.7 97.0h0M99.9 117.2h0M100.0 126.3h0M99.8 135.8h0M96.2 100.0h0M102.3 130.3h0M95.7 77.6h0M100.4 118.8h0M99.2 102.5h0M97.9 146.4h0M101.1 114.7h0M100.5 139.5h0M100.6 117.4h0M99.0 161.0h0M100.1 132.1h0M96.6 131.6h0M97.8 116.7h0M97.9 108.4h0M101.7 122.6h0M101.2 147.9h0M102.7 152.3h0M101.1 160.2h0M97.0 130.3h0M99.4 129.2h0M96.5 128.3h0M97.9 123.6h0M98.5 83.5h0M97.3 127.4h0M98.0 83.2h0M101.9 117.9h0M101.3 129.2h0M96.4 134.1h0M99.0 156.0h0M97.1 99.0h0M101.4 127.2h0M96.8 134.2h0M98.8 123.8h0M102.4 88.9h0M99.9 136.4h0M95.9 128.3h0M102.6 127.1h0M100.1 133.1h0M96.1 114.9h0M96.4 91.5h0M101.0 133.1h0M98.5 161.7h0M99.2 146.8h0M96.7 162.5h0M96.2 137.9h0M97.1 150.2h0M96.6 123.9h0M98.8 104.9h0M97.4 135.2h0M96.0 102.8h0M96.3 113.4h0M98.7 87.7h0M102.2 120.1h0M96.1 149.3h0M100.1 115.6h0M97.7 114.4h0M97.0 124.8h0M97.7 127.4h0M97.9 120.7h0M100.5 134.2h0M101.7 150.7h0M97.3 124.9h0M99.5 147.9h0M101.1 124.5h0M98.7 130.0h0M97.7 96.8h0M102.4 75.8h0M102.8 69.6h0M101.8 135.0h0M97.2 119.5h0M100.5 56.5h0M99.8 106.2h0M102.2 151.2h0M97.6 142.3h0M97.1 119.3h0M101.0 126.3h0M100.6 149.7h0M99.2 148.9h0M100.8 117.7h0M97.1 155.7h0M98.6 84.8h0M98.4 127.9h0M101.2 115.5h0M98.7 117.7h0M99.5 121.4h0M102.8 141.1h0M101.5 84.0h0M99.1 65.4h0M97.4 102.9h0M101.0 113.3h0M101.9 88.8h0M97.6 98.3h0M99.2 108.8h0M98.4 132.7h0M102.0 107.5h0M100.7 102.3h0M96.8 142.8h0M97.2 121.5h0M96.4 131.6h0M101.0 144.2h0M102.0 137.8h0M102.1 131.9h0M97.6 133.1h0M95.7 129.2h0M98.5 127.4h0M102.1 163.3h0M95.6 130.0h0M97.3 84.8h0M95.8 135.2h0M101.0 149.4h0M99.4 120.9h0M97.8 135.7h0M98.4 82.9h0M102.3 70.4h0M102.0 147.0h0M101.0 161.2h0M100.9 106.2h0M101.8 122.4h0M99.7 144.2h0M98.6 134.6h0M101.0 140.8h0M101.5 121.3h0M100.2 118.7h0M101.8 91.9h0M98.1 121.6h0M98.4 90.8h0M98.1 149.1h0M102.7 115.0h0M100.6 117.9h0M101.5 89.1h0M99.1 127.0h0M98.0 111.9h0M100.3 148.4h0M97.5 106.3h0M102.4 116.1h0M96.6 146.7h0M98.1 125.0h0M103.2 86.8h0M101.6 127.0h0M96.9 118.5h0M96.9 81.8h0M99.0 151.6h0M99.3 162.0h0M102.9 128.4h0M102.1 128.4h0M100.1 109.6h0M97.9 136.4h0M98.6 125.1h0M99.4 117.9h0M100.2 132.2h0M97.1 58.2h0M95.7 131.7h0M96.0 149.9h0M102.0 128.0h0M102.9 115.4h0M100.1 103.1h0M95.7 120.9h0M97.6 129.6h0M96.1 119.1h0M98.5 122.7h0M98.7 125.0h0M101.2 149.1h0M100.1 107.3h0M100.2 147.8h0M103.1 99.3h0M95.9 112.0h0M100.7 98.4h0M102.6 134.2h0M102.4 104.4h0M100.0 135.5h0M97.8 129.8h0M100.3 111.7h0M99.7 131.8h0M99.9 90.7h0M99.9 93.5h0M95.8 66.0h0M99.8 126.4h0M103.0 114.1h0M99.2 118.9h0M99.7 118.4h0M102.8 115.1h0M98.0 163.0h0M96.1 98.7h0M95.8 108.4h0M101.7 117.8h0M98.5 136.4h0M101.0 137.5h0M100.2 123.4h0M100.1 132.1h0M101.5 85.9h0M97.5 86.4h0M98.5 123.9h0M101.7 131.2h0M99.8 142.3h0M102.7 110.3h0M97.7 161.8h0M102.7 125.0h0M102.0 143.4h0M99.8 129.1h0M96.1 90.8h0M96.8 131.9h0M97.9 146.2h0M100.0 115.3h0M101.7 147.3h0M96.7 124.4h0M101.8 105.0h0M102.7 138.4h0M97.3 106.2h0M102.2 171.2h0M96.3 104.4h0M101.5 111.1h0M101.9 118.4h0M98.1 73.4h0M102.6 103.5h0M100.8 132.6h0M102.1 116.1h0M97.7 121.6h0M99.7 135.2h0M102.1 146.0h0M97.4 97.2h0M100.7 115.5h0M101.5 147.3h0M97.9 111.1h0M97.7 149.5h0M99.1 110.6h0M96.8 105.6h0M98.3 148.7h0M96.8 98.3h0M101.3 151.8h0M100.7 150.1h0M97.5 150.9h0M102.2 117.0h0M99.0 128.6h0M98.2 158.7h0M101.6 136.0h0M101.6 114.7h0M100.9 123.2h0M98.5 146.8h0M97.7 133.5h0M97.2 113.5h0M97.7 132.1h0M100.5 100.1h0M98.5 125.5h0M102.7 92.0h0M99.9 126.8h0M97.5 100.2h0M96.4 134.9h0M101.4 124.6h0M98.9 144.0h0M99.3 68.8h0M102.0 129.7h0M98.5 96.9h0M100.4 147.1h0M102.6 113.4h0M97.9 117.2h0M97.8 124.0h0M99.2 127.0h0M102.5 93.7h0M99.2 91.1h0M96.7 84.0h0M100.5 92.1h0M98.7 99.1h0M95.8 68.4h0M101.8 101.9h0M101.9 130.0h0M101.3 138.7h0M98.7 126.0h0M101.7 140.3h0M96.3 113.9h0M97.3 77.8h0M98.8 130.0h0M102.4 121.1h0M100.4 87.6h0M96.4 130.4h0M99.5 152.2h0M99.0 120.8h0M98.7 74.9h0M98.8 131.0h0M102.7 142.6h0M99.7 120.4h0M97.5 127.8h0M99.4 132.5h0M103.0 127.0h0M97.2 121.7h0M96.8 153.7h0M101.5 131.2h0M97.4 97.2h0M99.0 109.6h0M99.7 122.9h0M96.1 155.9h0M100.8 116.9h0M102.6 129.8h0M97.9 105.1h0M99.8 152.4h0M97.3 117.5h0M99.3 155.5h0M101.2 158.0h0M97.7 118.8h0M97.4 127.0h0M97.0 141.3h0M99.0 105.6h0M98.2 114.6h0M100.1 106.6h0M98.6 117.5h0M97.0 121.8h0M100.7 80.6h0M100.5 123.2h0M98.1 149.3h0M102.0 137.1h0M99.0 163.3h0M101.5 99.6h0M97.9 114.5h0M101.0 137.0h0M101.1 133.2h0M101.4 131.1h0M101.8 121.3h0M98.5 72.8h0M95.7 72.3h0M95.8 98.6h0M98.6 122.6h0M98.0 110.7h0M101.6 139.2h0M101.3 122.3h0M95.9 125.2h0M97.3 110.6h0M95.6 125.9h0M100.7 134.9h0M100.4 111.4h0M101.2 127.1h0M97.2 116.8h0M100.1 123.1h0M97.1 114.0h0M98.2 132.7h0M98.2 149.7h0M100.0 114.0h0M101.2 142.5h0M101.3 147.8h0M96.3 144.9h0M99.5 135.2h0M102.3 134.4h0M97.8 88.9h0M100.9 113.0h0M97.5 121.8h0M102.9 86.8h0M98.1 163.2h0M97.1 132.3h0M102.4 127.7h0M102.0 160.5h0M95.7 132.8h0M97.7 96.0h0M96.5 138.8h0M96.5 130.3h0M97.5 141.9h0M99.0 121.0h0M99.6 133.0h0M101.1 110.3h0M102.6 131.3h0M99.9 108.3h0M98.1 125.7h0M102.3 146.1h0M96.3 119.6h0M102.3 91.3h0M100.9 158.1h0M99.7 136.4h0M98.3 103.5h0M100.7 124.8h0M100.4 140.7h0M103.1 127.9h0M101.0 141.1h0M97.7 156.2h0M96.7 147.7h0M96.9 123.4h0M96.3 107.9h0M102.1 118.9h0M97.3 146.8h0M99.2 111.3h0M98.2 90.0h0M102.9 129.0h0M98.7 43.3h0M101.5 44.0h0" stroke="#000" stroke-width="1.44" stroke-linecap="round" fill="none"/>
<line x1="99.40" y1="196.60" x2="99.40" y2="199.60" stroke="#222" stroke-width="1.1"/>
<text x="0" y="0" font-size="8.4" fill="#2a2a2a" stroke="#2a2a2a" stroke-width="0.15" text-anchor="end" transform="translate(102.60,206.60) rotate(-45)">DLBCL</text>
<line x1="118.50" y1="80.50" x2="118.50" y2="110.50" stroke="#2a2a2a" stroke-width="1.0"/>
<line x1="118.50" y1="134.20" x2="118.50" y2="153.00" stroke="#2a2a2a" stroke-width="1.0"/>
<rect x="111.10" y="110.50" width="14.00" height="23.70" fill="#e8e8e8"/>
<line x1="111.10" y1="120.50" x2="125.10" y2="120.50" stroke="#111" stroke-width="1.4"/>
<path d="M115.7 99.4h0M121.6 118.7h0M120.9 140.7h0M120.1 108.6h0M114.9 116.5h0M114.9 94.1h0M119.9 107.9h0M119.6 130.5h0M120.1 125.4h0M121.6 144.4h0M120.5 126.8h0M120.6 122.1h0M118.5 131.4h0M118.0 147.6h0M121.0 142.6h0M117.5 113.4h0M121.7 89.3h0M114.8 94.3h0M119.9 112.3h0M114.2 116.3h0M117.6 96.8h0M120.6 116.7h0M114.3 132.8h0M116.3 96.9h0M115.2 144.5h0M120.0 82.4h0M115.3 136.2h0M119.4 98.9h0M115.1 117.2h0M121.7 125.3h0M117.5 152.2h0M122.1 143.7h0M121.7 141.4h0M120.0 103.3h0M119.7 144.4h0M118.0 120.9h0M118.2 139.4h0M115.2 106.4h0M117.5 100.6h0M116.0 133.3h0M119.3 122.7h0M121.2 117.7h0M118.2 120.0h0M115.8 84.5h0M116.7 149.4h0M115.1 130.7h0M114.4 125.0h0M118.0 97.1h0M119.7 100.4h0M120.2 111.3h0M119.9 131.4h0M118.5 136.4h0M120.3 116.7h0M116.9 138.2h0M120.5 104.7h0M115.0 88.1h0M115.0 136.2h0M120.1 111.6h0M120.3 114.6h0M118.6 119.9h0" stroke="#000" stroke-width="1.44" stroke-linecap="round" fill="none"/>
<line x1="118.10" y1="196.60" x2="118.10" y2="199.60" stroke="#222" stroke-width="1.1"/>
<text x="0" y="0" font-size="8.4" fill="#2a2a2a" stroke="#2a2a2a" stroke-width="0.15" text-anchor="end" transform="translate(121.30,206.60) rotate(-45)">FL</text>
<line x1="136.50" y1="83.70" x2="136.50" y2="111.80" stroke="#2a2a2a" stroke-width="1.0"/>
<line x1="136.50" y1="132.50" x2="136.50" y2="156.00" stroke="#2a2a2a" stroke-width="1.0"/>
<rect x="129.80" y="111.80" width="14.00" height="20.70" fill="#d2ebe6"/>
<line x1="129.80" y1="122.50" x2="143.80" y2="122.50" stroke="#111" stroke-width="1.4"/>
<path d="M138.0 99.2h0M137.5 115.8h0M138.9 122.7h0M133.8 119.4h0M136.2 125.5h0M137.3 125.2h0M135.9 128.0h0M135.8 125.4h0M133.5 92.7h0M138.6 151.4h0M136.4 126.7h0M135.7 118.6h0M132.9 133.2h0M140.3 102.7h0M136.5 131.1h0M133.3 129.5h0M139.5 101.3h0M134.8 133.1h0M139.2 114.0h0M135.9 123.7h0M139.2 133.5h0M139.7 103.4h0M137.5 140.8h0M138.5 88.6h0M134.0 124.1h0M138.7 144.2h0M139.3 143.7h0M136.6 115.4h0M140.3 101.4h0M133.6 117.5h0M136.2 118.7h0M140.2 132.5h0M133.8 112.6h0M135.5 133.8h0M135.4 119.4h0M139.3 124.9h0M138.6 136.7h0M140.4 129.3h0M135.4 96.9h0M133.7 118.0h0M137.8 126.1h0M135.5 116.6h0M133.8 147.0h0M134.2 119.9h0M137.7 130.3h0M136.9 100.7h0M137.5 132.3h0M139.1 131.5h0M134.9 138.3h0M140.1 125.0h0M134.3 137.7h0M134.5 139.8h0M136.0 129.2h0M136.0 111.1h0M136.0 123.5h0M140.0 110.0h0M140.2 125.5h0M140.6 132.5h0M138.3 121.4h0M135.0 127.2h0M139.9 139.6h0M138.4 128.1h0M137.0 124.1h0M134.2 135.2h0M138.3 129.0h0M132.8 120.6h0M136.3 113.5h0M134.9 143.6h0M139.4 134.9h0M135.4 120.4h0M135.1 132.6h0M135.6 131.3h0M139.1 108.8h0M139.9 114.0h0M133.7 115.9h0M134.1 145.1h0M137.0 132.2h0M137.5 106.5h0M134.7 125.3h0M138.8 89.7h0M133.2 128.9h0M134.8 89.6h0M133.7 104.6h0M135.7 115.9h0M135.2 101.6h0M134.4 141.7h0M140.6 107.7h0M138.3 116.4h0M135.0 131.2h0M140.7 142.5h0M137.7 145.2h0M134.3 128.5h0M140.2 125.1h0M134.1 132.6h0M138.1 117.0h0M134.2 122.0h0M133.7 102.7h0M134.7 137.2h0M136.6 121.9h0M138.6 120.2h0M136.5 101.2h0M139.4 145.3h0M135.3 151.0h0M137.6 139.1h0M133.8 109.5h0M139.6 130.7h0M133.7 114.4h0M139.2 114.5h0M134.0 126.2h0M135.4 115.7h0M135.0 75.0h0" stroke="#000" stroke-width="1.44" stroke-linecap="round" fill="none"/>
<line x1="136.80" y1="196.60" x2="136.80" y2="199.60" stroke="#222" stroke-width="1.1"/>
<text x="0" y="0" font-size="8.4" fill="#2a2a2a" stroke="#2a2a2a" stroke-width="0.15" text-anchor="end" transform="translate(140.00,206.60) rotate(-45)">MCL</text>
<line x1="155.50" y1="107.00" x2="155.50" y2="120.00" stroke="#2a2a2a" stroke-width="1.0"/>
<line x1="155.50" y1="146.80" x2="155.50" y2="174.20" stroke="#2a2a2a" stroke-width="1.0"/>
<rect x="148.50" y="120.00" width="14.00" height="26.80" fill="#8fcabd"/>
<line x1="148.50" y1="130.00" x2="162.50" y2="130.00" stroke="#111" stroke-width="1.4"/>
<path d="M154.8 152.9h0M154.7 155.6h0M155.9 127.9h0M157.6 136.5h0M154.3 158.4h0M158.1 113.8h0M157.4 114.2h0M157.5 128.6h0M152.8 127.1h0M152.7 146.4h0M154.3 115.7h0M155.8 136.2h0M156.9 157.5h0M157.6 118.4h0M154.2 115.5h0M157.3 154.3h0M154.6 122.3h0M153.1 140.5h0M155.2 117.2h0M154.4 117.9h0M155.6 142.0h0M158.2 120.2h0M156.9 139.9h0M158.0 136.5h0M155.9 119.7h0M153.9 139.2h0M157.6 115.4h0M152.6 143.1h0M158.7 150.7h0M157.7 162.1h0" stroke="#000" stroke-width="1.44" stroke-linecap="round" fill="none"/>
<line x1="155.50" y1="196.60" x2="155.50" y2="199.60" stroke="#222" stroke-width="1.1"/>
<text x="0" y="0" font-size="8.4" fill="#2a2a2a" stroke="#2a2a2a" stroke-width="0.15" text-anchor="end" transform="translate(158.70,206.60) rotate(-45)">BL</text>
<line x1="174.50" y1="97.00" x2="174.50" y2="108.80" stroke="#2a2a2a" stroke-width="1.0"/>
<line x1="174.50" y1="131.30" x2="174.50" y2="150.00" stroke="#2a2a2a" stroke-width="1.0"/>
<rect x="167.20" y="108.80" width="14.00" height="22.50" fill="#3a9a8c"/>
<line x1="167.20" y1="117.00" x2="181.20" y2="117.00" stroke="#111" stroke-width="1.4"/>
<path d="M174.6 116.1h0M173.6 115.7h0M171.3 115.1h0M171.4 103.6h0M175.4 136.7h0M176.3 112.4h0M177.2 110.7h0M170.8 141.0h0M176.2 131.9h0M174.4 136.1h0M171.8 108.2h0M177.0 116.1h0M173.5 108.9h0M172.6 118.2h0M176.2 102.2h0M172.8 111.1h0M174.1 109.4h0M173.2 107.3h0M175.5 104.7h0M174.6 119.8h0M174.4 107.1h0M170.8 102.3h0M175.7 104.2h0M176.6 117.6h0M173.1 136.3h0M176.5 110.0h0M177.7 124.3h0M171.0 112.1h0M171.2 137.5h0M173.0 114.7h0M173.2 168.3h0" stroke="#000" stroke-width="1.44" stroke-linecap="round" fill="none"/>
<line x1="174.20" y1="196.60" x2="174.20" y2="199.60" stroke="#222" stroke-width="1.1"/>
<text x="0" y="0" font-size="8.4" fill="#2a2a2a" stroke="#2a2a2a" stroke-width="0.15" text-anchor="end" transform="translate(177.40,206.60) rotate(-45)">MALT</text>
<line x1="193.50" y1="98.00" x2="193.50" y2="99.00" stroke="#2a2a2a" stroke-width="1.0"/>
<line x1="193.50" y1="109.00" x2="193.50" y2="109.00" stroke="#2a2a2a" stroke-width="1.0"/>
<rect x="186.00" y="99.00" width="14.00" height="10.00" fill="#1d6f63"/>
<line x1="186.00" y1="105.50" x2="200.00" y2="105.50" stroke="#111" stroke-width="1.4"/>
<path d="M190.5 106.2h0M195.0 98.6h0M192.7 104.0h0M193.6 108.2h0M195.9 107.6h0M194.4 98.5h0M194.2 71.8h0" stroke="#000" stroke-width="1.44" stroke-linecap="round" fill="none"/>
<line x1="193.00" y1="196.60" x2="193.00" y2="199.60" stroke="#222" stroke-width="1.1"/>
<text x="0" y="0" font-size="8.4" fill="#2a2a2a" stroke="#2a2a2a" stroke-width="0.15" text-anchor="end" transform="translate(196.20,206.60) rotate(-45)">MZL</text>
<text x="221.70" y="17.30" font-size="12" fill="#000" font-weight="bold" textLength="7.30" lengthAdjust="spacingAndGlyphs">B</text>
<text x="368.10" y="28.70" font-size="10.5" fill="#1a1a1a" stroke="#1a1a1a" stroke-width="0.05" textLength="25.70" lengthAdjust="spacingAndGlyphs">B-ALL</text>
<line x1="249.00" y1="34.00" x2="249.00" y2="197.00" stroke="#222" stroke-width="1.4"/>
<line x1="248.60" y1="196.40" x2="513.20" y2="196.40" stroke="#222" stroke-width="1.4"/>
<line x1="245.80" y1="72.50" x2="249.00" y2="72.50" stroke="#333" stroke-width="1.0"/>
<text x="243.30" y="75.25" font-size="8.0" fill="#444" stroke="#444" stroke-width="0.15" text-anchor="end">12</text>
<line x1="245.80" y1="117.00" x2="249.00" y2="117.00" stroke="#333" stroke-width="1.0"/>
<text x="243.30" y="119.75" font-size="8.0" fill="#444" stroke="#444" stroke-width="0.15" text-anchor="end">9</text>
<line x1="245.80" y1="161.80" x2="249.00" y2="161.80" stroke="#333" stroke-width="1.0"/>
<text x="243.30" y="164.55" font-size="8.0" fill="#444" stroke="#444" stroke-width="0.15" text-anchor="end">6</text>
<text x="0" y="0" font-size="8.4" fill="#333" stroke="#333" stroke-width="0.15" font-style="italic" textLength="35.50" lengthAdjust="spacingAndGlyphs" transform="translate(227.50,164.10) rotate(-90)">TNFRSF10B</text>
<text x="0" y="0" font-size="8.4" fill="#333" stroke="#333" stroke-width="0.15" textLength="61.80" lengthAdjust="spacingAndGlyphs" transform="translate(227.50,126.40) rotate(-90)">expression (rlog)</text>
<line x1="255.50" y1="101.20" x2="255.50" y2="125.50" stroke="#1a1a1a" stroke-width="0.9"/>
<line x1="255.50" y1="155.60" x2="255.50" y2="189.20" stroke="#1a1a1a" stroke-width="0.9"/>
<rect x="251.45" y="125.50" width="8.30" height="30.10" fill="#4a1d6a"/>
<line x1="251.45" y1="143.00" x2="259.75" y2="143.00" stroke="#111" stroke-width="1.2"/>
<path d="M253.5 171.0h0M253.5 150.8h0M258.3 146.9h0M258.2 120.1h0M254.0 158.1h0M254.3 180.2h0M255.8 172.6h0M256.6 153.1h0M256.1 138.7h0M256.9 153.1h0M256.8 129.8h0M255.4 144.5h0M253.0 153.8h0M256.3 144.7h0M257.6 161.2h0M257.6 117.3h0M255.5 121.3h0M254.3 162.1h0M258.3 126.4h0M252.8 167.8h0M254.8 150.4h0M253.4 136.2h0M254.7 119.5h0M254.6 115.4h0M253.8 152.8h0M256.1 110.6h0M253.2 120.7h0M256.9 140.0h0M258.0 105.8h0M254.9 168.5h0M255.8 101.6h0M254.2 112.3h0M258.1 179.4h0M255.9 154.9h0M256.0 150.0h0M258.1 113.8h0M254.2 117.4h0M252.9 121.0h0M258.1 147.2h0M254.9 155.4h0M254.1 137.3h0M256.5 128.4h0M258.0 169.2h0M256.7 171.3h0M253.6 150.6h0M258.4 170.7h0M255.4 122.3h0M258.2 122.7h0M255.8 114.3h0M255.7 154.3h0M256.9 106.5h0M257.5 131.1h0M255.9 147.6h0M253.9 119.2h0M252.9 118.6h0" stroke="#000" stroke-width="1.44" stroke-linecap="round" fill="none"/>
<line x1="255.60" y1="196.60" x2="255.60" y2="199.60" stroke="#222" stroke-width="1.1"/>
<text x="0" y="0" font-size="8.45" fill="#2a2a2a" stroke="#2a2a2a" stroke-width="0.08" text-anchor="end" transform="translate(258.60,208.00) rotate(-45)">MEF2D</text>
<line x1="266.50" y1="79.10" x2="266.50" y2="108.50" stroke="#1a1a1a" stroke-width="0.9"/>
<line x1="266.50" y1="129.60" x2="266.50" y2="154.20" stroke="#1a1a1a" stroke-width="0.9"/>
<rect x="262.37" y="108.50" width="8.30" height="21.10" fill="#3c7ca3"/>
<line x1="262.37" y1="117.50" x2="270.67" y2="117.50" stroke="#111" stroke-width="1.2"/>
<path d="M266.9 116.2h0M268.9 136.3h0M264.8 120.4h0M267.0 121.8h0M263.7 120.9h0M267.7 139.8h0M265.2 137.2h0M268.5 104.1h0M264.7 98.4h0M267.9 152.6h0M265.8 113.9h0M266.1 148.9h0M267.0 130.4h0M264.9 85.7h0M267.6 140.9h0M265.0 138.8h0M269.2 120.4h0M265.5 126.0h0M264.6 118.7h0M267.6 122.2h0M268.2 126.0h0M264.3 133.8h0M266.3 112.9h0M264.3 95.6h0M267.5 108.6h0M264.4 123.8h0M268.0 113.5h0M266.4 118.8h0M267.1 110.8h0M264.8 121.2h0M266.8 119.3h0M269.3 97.2h0M265.6 115.5h0M267.3 131.4h0M265.1 108.9h0M269.3 110.6h0M269.0 122.8h0M267.4 120.6h0M264.9 99.5h0M269.2 125.0h0M265.4 141.5h0M267.9 118.6h0M268.9 112.8h0M263.7 111.4h0M263.9 141.1h0M263.9 120.8h0M267.3 116.6h0M268.5 132.7h0M269.1 121.7h0M267.2 124.4h0M265.2 116.0h0M263.7 106.2h0M265.5 129.6h0M266.5 98.3h0M265.4 144.1h0M268.2 113.6h0M268.1 138.7h0M266.7 122.8h0M266.2 121.3h0M268.9 82.5h0M267.9 166.9h0" stroke="#000" stroke-width="1.44" stroke-linecap="round" fill="none"/>
<line x1="266.52" y1="196.60" x2="266.52" y2="199.60" stroke="#222" stroke-width="1.1"/>
<text x="0" y="0" font-size="8.45" fill="#2a2a2a" stroke="#2a2a2a" stroke-width="0.08" text-anchor="end" transform="translate(269.52,208.00) rotate(-45)">TCF3−PBX1</text>
<line x1="277.50" y1="116.10" x2="277.50" y2="116.10" stroke="#1a1a1a" stroke-width="0.9"/>
<line x1="277.50" y1="122.80" x2="277.50" y2="122.80" stroke="#1a1a1a" stroke-width="0.9"/>
<rect x="273.29" y="116.10" width="8.30" height="6.70" fill="#3883a5"/>
<line x1="273.29" y1="116.80" x2="281.59" y2="116.80" stroke="#111" stroke-width="1.2"/>
<path d="M278.6 116.1h0M274.8 122.8h0M278.4 116.1h0M276.4 116.4h0M276.7 133.9h0M278.9 143.2h0M277.5 112.7h0" stroke="#000" stroke-width="1.44" stroke-linecap="round" fill="none"/>
<line x1="277.44" y1="196.60" x2="277.44" y2="199.60" stroke="#222" stroke-width="1.1"/>
<text x="0" y="0" font-size="8.45" fill="#2a2a2a" stroke="#2a2a2a" stroke-width="0.08" text-anchor="end" transform="translate(280.44,208.00) rotate(-45)">IKZF1 N159Y</text>
<line x1="288.50" y1="60.00" x2="288.50" y2="98.00" stroke="#1a1a1a" stroke-width="0.9"/>
<line x1="288.50" y1="127.60" x2="288.50" y2="171.00" stroke="#1a1a1a" stroke-width="0.9"/>
<rect x="284.21" y="98.00" width="8.30" height="29.60" fill="#2aa198"/>
<line x1="284.21" y1="109.70" x2="292.51" y2="109.70" stroke="#111" stroke-width="1.2"/>
<path d="M287.5 161.1h0M285.9 120.5h0M290.6 69.6h0M285.6 91.6h0M286.2 115.6h0M290.1 99.1h0M290.0 94.1h0M285.6 142.3h0M290.3 145.5h0M288.5 90.1h0M290.4 129.3h0M287.4 142.3h0M291.1 170.0h0M289.9 115.8h0M288.8 92.9h0M289.9 65.9h0M291.0 80.4h0M289.8 146.7h0M287.4 130.3h0M291.1 121.0h0M288.0 149.2h0M291.1 141.5h0M289.5 110.0h0M289.9 108.8h0M287.9 121.4h0M289.5 98.3h0M287.3 84.3h0M289.7 88.2h0M287.8 106.3h0M286.0 106.6h0M287.3 145.0h0M285.8 142.0h0M289.7 99.6h0M286.7 104.3h0M290.2 99.3h0M286.8 104.1h0M287.8 106.7h0M286.4 126.2h0M289.1 86.6h0M286.5 79.8h0M288.4 126.6h0M287.3 149.3h0M288.3 107.8h0M288.8 82.1h0M288.8 103.3h0M287.6 94.5h0M291.1 170.7h0M286.3 93.8h0M286.8 143.3h0M286.3 102.3h0M288.3 161.0h0M287.0 167.7h0M286.7 118.1h0M287.0 169.7h0M287.4 128.3h0M287.6 115.8h0M285.7 122.3h0M289.7 89.3h0M285.6 110.2h0M290.6 129.5h0M286.7 112.8h0M290.6 91.0h0M288.4 142.1h0M286.2 106.8h0M289.0 122.6h0M289.1 101.6h0M287.7 104.1h0M285.7 148.2h0M290.4 89.3h0M286.0 82.6h0M289.3 48.2h0M287.3 159.8h0M287.8 166.5h0" stroke="#000" stroke-width="1.44" stroke-linecap="round" fill="none"/>
<line x1="288.36" y1="196.60" x2="288.36" y2="199.60" stroke="#222" stroke-width="1.1"/>
<text x="0" y="0" font-size="8.45" fill="#2a2a2a" stroke="#2a2a2a" stroke-width="0.08" text-anchor="end" transform="translate(291.36,208.00) rotate(-45)">Low hypodiploid</text>
<line x1="299.50" y1="69.20" x2="299.50" y2="97.00" stroke="#1a1a1a" stroke-width="0.9"/>
<line x1="299.50" y1="121.80" x2="299.50" y2="149.80" stroke="#1a1a1a" stroke-width="0.9"/>
<rect x="295.13" y="97.00" width="8.30" height="24.80" fill="#2b9e90"/>
<line x1="295.13" y1="108.00" x2="303.43" y2="108.00" stroke="#111" stroke-width="1.2"/>
<path d="M301.3 125.4h0M301.1 92.0h0M301.7 114.5h0M299.7 121.2h0M297.8 100.4h0M297.0 114.5h0M297.5 93.6h0M298.0 130.2h0M300.0 101.8h0M301.3 106.9h0M297.7 96.8h0M297.4 106.5h0M297.3 122.4h0M298.4 134.5h0M300.2 87.1h0M297.7 133.7h0M299.4 104.0h0M297.0 141.3h0M299.8 105.1h0M300.8 134.2h0M299.8 122.5h0M298.4 106.7h0M298.7 82.7h0M299.5 112.2h0M302.0 90.5h0M299.5 95.6h0M300.1 98.5h0M301.9 81.8h0M297.7 96.3h0M298.9 105.0h0M300.9 123.2h0M300.5 123.9h0M298.9 108.6h0M300.5 98.9h0M302.1 72.7h0M298.0 93.4h0M299.3 100.6h0M299.0 83.1h0M296.6 115.9h0M299.5 109.6h0M297.1 118.6h0M296.9 108.9h0M299.0 127.5h0M299.3 116.4h0M298.7 106.7h0M296.6 130.3h0M301.9 105.4h0M298.4 120.1h0M300.6 118.0h0M300.9 108.4h0M297.2 148.0h0M298.5 125.0h0M298.6 113.6h0M298.9 80.0h0M301.9 104.7h0M299.8 101.8h0M298.4 91.3h0M301.8 138.4h0M299.7 106.5h0M300.7 135.2h0M300.1 115.0h0M301.6 119.9h0M298.0 115.2h0M297.7 86.5h0M299.2 120.6h0M297.1 75.4h0M300.9 124.7h0M298.8 134.6h0M300.5 94.6h0M297.1 93.9h0M298.5 86.8h0M299.1 92.3h0M299.2 86.7h0M297.3 121.4h0M296.8 108.2h0M301.4 128.1h0M301.3 104.8h0M299.2 129.1h0M297.1 109.7h0M301.6 121.1h0M299.3 98.2h0M301.3 103.2h0M299.8 82.2h0M301.4 136.4h0M297.8 128.1h0M299.3 130.1h0M299.1 104.4h0M297.3 109.7h0M299.5 98.4h0M301.1 118.5h0M301.6 83.2h0M296.9 74.1h0M299.0 114.1h0M300.6 121.4h0M297.3 85.7h0M301.9 107.7h0M299.0 86.9h0M299.0 132.5h0M300.9 107.2h0M298.0 126.5h0M296.5 74.2h0M297.0 103.1h0M298.9 97.0h0M297.7 84.2h0M297.8 87.7h0M297.0 136.6h0M298.7 134.6h0M298.5 78.1h0M296.7 98.5h0M299.5 107.3h0M299.7 132.9h0M298.3 111.0h0M300.4 91.1h0M297.1 131.3h0M298.0 136.3h0M301.9 102.0h0M301.3 79.0h0M300.9 131.0h0M299.1 96.1h0M299.8 70.7h0M297.7 131.5h0M299.9 130.6h0M301.3 102.5h0M296.5 146.3h0M297.9 77.8h0M301.3 121.0h0M300.9 132.0h0M299.6 86.3h0M296.5 103.2h0M299.9 103.3h0M299.4 95.5h0M297.7 131.8h0M296.9 101.3h0M297.9 132.3h0M299.5 93.6h0M301.9 115.9h0M297.8 104.4h0M301.3 105.1h0M298.9 115.3h0M302.0 104.6h0M297.5 101.9h0M298.3 104.4h0M300.5 109.5h0M299.3 143.3h0M299.8 118.3h0M299.1 91.9h0M298.1 102.3h0M299.3 121.5h0M297.7 106.6h0M299.3 95.9h0M297.9 116.0h0M301.5 90.7h0M297.9 83.3h0M300.0 134.9h0M301.3 141.9h0M298.4 100.1h0M300.3 111.2h0M298.5 128.4h0M300.3 94.3h0M297.1 104.2h0M297.9 124.2h0M300.1 139.8h0M301.7 104.8h0M301.6 105.6h0M299.4 109.7h0M298.5 163.9h0M299.2 169.5h0M300.7 179.3h0" stroke="#000" stroke-width="1.44" stroke-linecap="round" fill="none"/>
<line x1="299.28" y1="196.60" x2="299.28" y2="199.60" stroke="#222" stroke-width="1.1"/>
<text x="0" y="0" font-size="8.45" fill="#2a2a2a" stroke="#2a2a2a" stroke-width="0.08" text-anchor="end" transform="translate(302.28,208.00) rotate(-45)">PAX5alt</text>
<line x1="310.50" y1="83.00" x2="310.50" y2="98.50" stroke="#1a1a1a" stroke-width="0.9"/>
<line x1="310.50" y1="120.70" x2="310.50" y2="155.00" stroke="#1a1a1a" stroke-width="0.9"/>
<rect x="306.05" y="98.50" width="8.30" height="22.20" fill="#2c9f93"/>
<line x1="306.05" y1="108.00" x2="314.35" y2="108.00" stroke="#111" stroke-width="1.2"/>
<path d="M307.4 108.6h0M308.5 115.4h0M310.3 103.3h0M312.6 109.2h0M307.9 98.0h0M311.3 143.1h0M311.1 104.3h0M307.6 108.0h0M312.1 110.5h0M307.6 104.1h0M312.5 132.0h0M308.3 106.3h0M312.6 100.1h0M311.0 93.8h0M307.9 96.2h0M311.9 109.9h0M308.2 116.1h0M311.3 93.8h0M307.8 151.8h0M312.7 105.8h0M312.3 103.5h0M310.6 133.7h0M309.3 126.8h0M310.0 129.7h0M311.1 139.0h0M312.5 102.4h0M307.8 97.8h0M310.4 93.7h0M310.2 90.9h0M311.3 135.9h0M312.9 127.6h0M312.5 106.5h0M309.2 108.4h0M311.4 101.8h0M308.9 110.0h0M311.4 112.0h0M308.3 122.6h0M311.1 108.8h0M308.9 137.2h0M308.9 88.0h0M309.1 97.6h0M310.1 135.4h0M311.8 93.6h0M311.3 138.8h0M310.1 103.4h0M310.3 101.7h0M311.3 126.7h0M309.1 131.6h0M310.6 94.4h0M311.4 107.6h0M309.6 108.4h0M307.5 106.0h0M307.6 115.5h0M312.5 83.8h0M308.3 102.2h0M309.0 94.2h0M311.0 96.3h0M311.6 104.0h0M312.1 119.8h0M311.6 106.4h0M308.8 94.9h0M309.4 112.5h0M312.3 136.2h0M310.1 100.9h0M312.3 106.3h0M309.4 136.9h0M310.4 100.9h0M308.8 108.1h0M311.2 123.1h0M312.6 116.1h0M312.8 92.3h0M310.3 119.3h0M309.4 133.8h0M310.2 136.5h0M311.7 90.1h0M308.9 114.9h0M307.7 91.1h0M312.2 94.6h0M312.7 137.0h0M309.6 102.4h0M310.8 111.8h0M312.3 107.0h0M309.2 92.6h0M311.8 151.3h0M311.1 102.4h0M307.8 136.5h0M309.4 92.5h0M312.9 109.4h0M311.0 125.6h0M310.5 137.6h0M308.3 98.9h0M312.8 98.1h0M311.8 95.4h0M311.4 90.5h0M312.0 106.2h0M310.9 96.2h0M308.4 101.6h0M309.2 116.2h0M311.8 94.1h0M313.0 118.6h0M307.7 137.8h0M307.8 116.8h0M309.4 90.4h0M312.2 113.7h0M310.9 106.7h0M310.0 111.1h0M309.0 90.1h0M310.1 107.0h0M308.2 130.5h0M311.9 107.7h0M307.7 111.4h0M308.2 91.0h0M307.7 93.0h0M308.2 102.3h0M309.8 120.2h0M309.8 98.3h0M309.7 112.2h0M309.0 107.2h0M308.5 90.3h0M310.5 131.2h0M311.4 115.6h0M311.2 139.8h0M312.6 114.9h0M309.8 118.2h0M310.4 117.3h0M311.1 119.1h0M311.4 112.5h0M310.0 118.6h0M311.4 105.8h0M309.8 102.2h0M308.0 135.4h0M308.4 130.0h0M311.1 126.7h0M312.5 116.1h0M308.8 122.1h0M309.1 164.8h0" stroke="#000" stroke-width="1.44" stroke-linecap="round" fill="none"/>
<line x1="310.20" y1="196.60" x2="310.20" y2="199.60" stroke="#222" stroke-width="1.1"/>
<text x="0" y="0" font-size="8.45" fill="#2a2a2a" stroke="#2a2a2a" stroke-width="0.08" text-anchor="end" transform="translate(313.20,208.00) rotate(-45)">KMT2A</text>
<line x1="321.50" y1="81.20" x2="321.50" y2="90.60" stroke="#1a1a1a" stroke-width="0.9"/>
<line x1="321.50" y1="131.00" x2="321.50" y2="148.00" stroke="#1a1a1a" stroke-width="0.9"/>
<rect x="316.97" y="90.60" width="8.30" height="40.40" fill="#33a57f"/>
<line x1="316.97" y1="102.80" x2="325.27" y2="102.80" stroke="#111" stroke-width="1.2"/>
<path d="M322.1 135.7h0M319.7 99.0h0M322.1 89.1h0M321.7 110.8h0M320.8 95.2h0M320.4 138.1h0M320.4 85.8h0M318.8 96.0h0M323.2 90.0h0M320.4 117.1h0" stroke="#000" stroke-width="1.44" stroke-linecap="round" fill="none"/>
<line x1="321.12" y1="196.60" x2="321.12" y2="199.60" stroke="#222" stroke-width="1.1"/>
<text x="0" y="0" font-size="8.45" fill="#2a2a2a" stroke="#2a2a2a" stroke-width="0.08" text-anchor="end" transform="translate(324.12,208.00) rotate(-45)">NUTM1</text>
<line x1="332.50" y1="81.80" x2="332.50" y2="94.00" stroke="#1a1a1a" stroke-width="0.9"/>
<line x1="332.50" y1="107.50" x2="332.50" y2="125.90" stroke="#1a1a1a" stroke-width="0.9"/>
<rect x="327.89" y="94.00" width="8.30" height="13.50" fill="#36a67c"/>
<line x1="327.89" y1="101.00" x2="336.19" y2="101.00" stroke="#111" stroke-width="1.2"/>
<path d="M330.7 100.6h0M330.0 109.4h0M332.1 95.8h0M334.6 87.4h0M334.5 90.0h0M329.4 91.2h0M334.7 113.3h0M332.7 90.0h0M331.7 97.7h0M330.1 103.0h0M330.8 99.7h0M334.1 113.7h0M334.1 98.9h0M332.5 106.4h0M333.9 106.8h0M331.1 72.8h0M332.5 136.5h0" stroke="#000" stroke-width="1.44" stroke-linecap="round" fill="none"/>
<line x1="332.04" y1="196.60" x2="332.04" y2="199.60" stroke="#222" stroke-width="1.1"/>
<text x="0" y="0" font-size="8.45" fill="#2a2a2a" stroke="#2a2a2a" stroke-width="0.08" text-anchor="end" transform="translate(335.04,208.00) rotate(-45)">Near haploid</text>
<line x1="342.50" y1="82.00" x2="342.50" y2="91.80" stroke="#1a1a1a" stroke-width="0.9"/>
<line x1="342.50" y1="115.40" x2="342.50" y2="137.40" stroke="#1a1a1a" stroke-width="0.9"/>
<rect x="338.81" y="91.80" width="8.30" height="23.60" fill="#35a57f"/>
<line x1="338.81" y1="101.60" x2="347.11" y2="101.60" stroke="#111" stroke-width="1.2"/>
<path d="M342.0 99.4h0M342.9 125.2h0M344.7 100.7h0M341.2 118.1h0M344.7 112.3h0M343.7 116.4h0M340.6 129.4h0M342.9 93.4h0M342.8 123.3h0M342.4 86.9h0M342.5 99.4h0M340.4 101.4h0M343.4 88.4h0M341.8 110.0h0M345.4 119.0h0M342.3 89.5h0M343.3 97.6h0M340.3 118.3h0M341.1 92.4h0M340.3 99.1h0M341.1 131.9h0M343.6 95.6h0M343.9 83.1h0M340.2 100.7h0M342.9 86.5h0" stroke="#000" stroke-width="1.44" stroke-linecap="round" fill="none"/>
<line x1="342.96" y1="196.60" x2="342.96" y2="199.60" stroke="#222" stroke-width="1.1"/>
<text x="0" y="0" font-size="8.45" fill="#2a2a2a" stroke="#2a2a2a" stroke-width="0.08" text-anchor="end" transform="translate(345.96,208.00) rotate(-45)">CRLF2(non−Ph−like)</text>
<line x1="353.50" y1="65.00" x2="353.50" y2="91.80" stroke="#1a1a1a" stroke-width="0.9"/>
<line x1="353.50" y1="110.50" x2="353.50" y2="145.00" stroke="#1a1a1a" stroke-width="0.9"/>
<rect x="349.73" y="91.80" width="8.30" height="18.70" fill="#3aa87a"/>
<line x1="349.73" y1="100.00" x2="358.03" y2="100.00" stroke="#111" stroke-width="1.2"/>
<path d="M351.3 84.2h0M353.7 85.8h0M353.4 113.5h0M354.3 126.3h0M355.0 113.3h0M354.9 117.4h0M355.1 96.1h0M352.7 77.7h0M353.3 94.0h0M355.7 81.7h0M354.4 90.8h0M356.2 110.0h0M356.4 74.5h0M355.7 106.8h0M355.8 94.1h0M353.6 88.1h0M355.5 104.4h0M354.1 94.9h0M351.3 83.1h0M353.7 139.5h0M355.8 124.3h0M356.0 125.1h0M351.8 112.8h0M354.9 91.5h0M354.4 103.8h0M356.4 98.3h0M354.1 99.8h0M353.4 101.6h0M351.7 93.8h0M356.3 93.7h0M354.1 91.0h0M351.6 106.2h0M354.1 124.7h0M355.9 82.7h0M355.3 116.5h0M353.8 87.8h0M352.1 84.2h0M354.0 106.9h0M353.6 92.6h0M355.9 108.3h0M353.4 104.5h0M353.8 112.9h0M353.1 93.2h0M353.8 94.7h0M356.5 140.1h0M354.1 108.9h0M352.2 77.1h0M352.2 127.3h0M355.8 119.3h0M351.3 99.4h0M353.9 109.6h0M352.8 117.3h0M353.6 80.9h0M354.4 112.0h0M354.0 122.9h0M351.6 95.1h0M352.8 98.4h0M354.5 92.0h0M354.5 80.6h0M352.1 116.6h0M355.6 93.3h0M353.4 127.4h0M353.7 109.1h0M354.2 83.2h0M355.4 92.0h0M354.5 109.3h0M353.7 105.2h0M354.8 99.0h0M355.8 117.9h0M352.8 118.5h0M356.6 84.8h0M356.4 105.6h0M356.4 130.4h0M351.3 114.9h0M352.0 91.0h0M351.1 91.6h0M353.1 121.9h0M353.7 125.5h0M355.2 106.5h0M356.5 100.3h0M352.0 85.2h0M356.1 80.1h0M354.0 97.9h0M352.9 117.7h0M352.2 113.2h0M352.9 96.3h0M354.3 90.6h0M351.6 86.4h0M353.9 85.0h0M352.4 95.7h0M353.4 93.6h0M354.4 92.7h0M352.8 120.4h0M351.2 91.7h0M354.1 95.7h0M352.9 93.0h0M353.8 101.0h0M351.5 91.8h0M352.5 99.7h0M352.5 97.1h0M352.4 114.5h0M353.1 81.6h0M355.2 82.7h0M354.2 109.7h0M356.3 141.3h0M351.7 95.7h0M353.9 99.4h0M352.7 94.4h0M354.6 80.6h0M355.7 126.5h0M352.8 82.4h0M355.9 93.1h0M351.5 82.5h0M352.5 85.7h0M354.9 88.2h0M356.1 101.4h0M356.6 88.1h0M354.3 77.2h0M354.8 92.3h0M353.9 104.2h0M352.3 99.7h0M355.8 110.0h0M355.0 85.1h0M353.9 93.8h0M354.8 97.6h0M353.6 141.9h0M352.2 74.2h0M351.5 101.4h0M355.7 110.3h0M355.6 132.2h0M355.9 88.4h0M356.3 110.2h0M353.6 105.4h0M354.1 77.7h0M351.7 94.1h0M352.6 143.4h0M355.7 123.5h0M356.4 110.5h0M352.2 94.2h0M352.9 93.1h0M351.5 99.1h0M355.5 86.0h0M354.9 97.3h0M351.8 106.7h0M355.2 107.3h0M351.8 97.9h0M353.7 111.3h0M351.3 139.1h0M351.8 102.1h0M351.8 82.1h0M355.5 91.8h0M354.1 107.8h0M354.5 67.6h0M356.5 104.7h0M356.4 110.1h0M353.4 108.0h0M354.7 107.7h0M354.9 82.5h0M356.6 116.6h0M353.9 92.7h0M351.7 84.8h0M355.5 96.8h0M354.8 89.9h0M353.8 127.4h0M354.5 109.7h0M353.6 104.3h0M354.4 98.8h0M352.7 82.0h0M352.1 109.5h0M355.8 122.9h0M351.8 79.9h0M356.1 105.9h0M356.6 83.8h0M352.8 67.3h0M352.5 127.1h0M351.2 99.9h0M353.7 110.3h0M351.9 94.0h0M352.9 122.0h0M351.8 124.9h0M355.6 123.8h0M351.3 82.7h0M355.8 88.0h0M352.8 95.0h0M351.5 86.9h0M356.4 128.9h0M356.2 113.1h0M351.3 91.5h0M354.7 124.6h0M354.8 119.9h0M352.4 94.3h0M352.3 101.0h0M354.6 83.3h0M354.6 93.7h0M356.0 127.6h0M354.0 89.7h0M353.8 97.0h0M354.1 91.4h0M354.0 109.3h0M351.1 113.8h0M356.0 99.3h0M352.3 92.8h0M354.3 99.7h0M353.7 97.4h0M354.9 99.7h0M354.0 82.6h0M354.9 89.4h0M352.5 122.3h0M353.1 107.8h0M352.7 100.4h0M355.2 63.5h0M355.0 105.4h0M352.0 79.5h0M356.4 95.8h0M356.0 105.2h0M352.9 88.0h0M355.6 120.0h0M353.0 103.5h0M355.2 101.5h0M356.2 81.7h0M352.1 90.7h0M351.1 105.5h0M353.0 115.0h0M353.7 117.1h0M354.7 121.2h0M352.5 103.7h0M352.9 93.9h0M355.8 135.6h0M356.0 91.5h0M352.6 108.7h0M351.9 93.6h0M354.7 75.1h0M351.4 98.4h0M353.5 109.1h0M351.9 71.0h0M351.5 97.0h0M355.3 73.8h0M355.3 87.4h0M352.4 116.9h0M354.2 129.7h0M352.1 125.8h0M356.2 117.4h0M352.7 89.0h0M352.0 73.9h0M353.2 120.4h0M351.6 87.9h0M354.1 89.1h0M353.0 88.4h0M351.6 129.3h0M353.9 92.7h0M352.2 90.8h0M352.3 109.3h0M355.0 84.7h0M355.1 119.1h0M353.7 129.9h0M355.4 110.2h0M354.9 92.8h0M351.3 115.3h0M355.0 95.4h0M355.8 141.1h0M353.1 81.5h0M354.7 99.4h0M354.7 79.5h0M355.4 99.5h0M351.3 100.4h0M353.4 98.4h0M353.3 106.9h0M352.8 113.1h0M356.0 91.9h0M355.8 101.8h0M354.0 121.8h0M355.5 92.0h0M352.0 104.7h0M354.5 76.8h0M353.0 95.0h0M354.3 122.9h0M356.1 104.0h0M355.3 94.6h0M355.3 97.7h0M356.7 121.0h0M354.4 97.4h0M351.6 116.0h0M355.1 93.3h0M352.5 94.5h0M355.4 100.6h0M356.2 95.4h0M355.4 125.0h0M354.6 139.6h0M351.5 98.9h0M354.8 103.4h0M351.5 83.6h0M355.5 99.7h0M356.1 122.5h0M353.0 78.5h0M351.9 114.2h0M353.4 113.2h0M356.3 93.2h0M356.4 98.1h0M354.8 103.1h0M353.4 145.9h0M351.8 136.0h0M351.7 87.7h0M354.0 108.4h0M351.3 99.2h0M354.9 123.1h0M351.6 104.0h0M353.2 100.9h0M351.3 62.3h0M351.5 116.8h0M356.5 98.3h0M351.7 89.9h0M353.1 98.7h0M355.0 72.0h0M352.5 96.6h0M354.0 102.7h0M354.2 105.1h0M353.4 125.0h0M353.3 69.2h0M355.3 99.8h0M355.2 87.4h0M355.1 105.0h0M354.5 115.1h0M352.2 138.5h0M353.1 117.3h0M351.2 92.2h0M351.6 82.9h0M356.4 77.7h0M355.8 96.2h0M353.6 78.4h0M351.3 84.4h0M354.7 89.6h0M351.9 89.9h0M354.0 125.6h0M354.9 96.5h0M354.3 116.9h0M352.5 74.5h0M356.5 86.9h0M353.5 94.3h0M353.7 103.4h0M351.5 121.8h0M352.1 109.3h0M353.1 81.3h0M354.2 83.0h0M356.1 81.4h0M353.6 93.1h0M354.2 111.1h0M355.7 107.9h0M354.6 129.2h0M353.4 106.8h0M356.6 98.6h0M353.1 66.6h0M356.4 77.2h0M354.2 99.1h0M355.5 115.2h0M355.3 100.6h0M354.6 79.7h0M354.2 93.6h0M353.7 121.2h0M352.1 127.4h0M353.2 71.0h0M353.5 120.9h0M354.5 127.7h0M352.3 112.5h0M356.3 95.5h0M355.1 139.4h0M353.8 97.3h0M351.1 103.3h0M354.0 106.2h0M356.6 106.9h0M355.8 106.7h0M355.5 87.5h0M353.9 100.3h0M351.7 85.2h0M351.2 112.8h0M353.6 100.4h0M356.3 77.4h0M353.9 104.0h0M355.3 123.6h0M352.0 99.4h0M351.3 82.9h0M353.8 115.7h0M351.9 64.1h0M355.5 109.8h0M356.3 106.9h0M352.4 137.5h0M355.8 108.0h0M354.9 123.9h0M356.5 82.2h0M351.4 87.9h0M352.3 100.7h0M352.4 122.1h0M354.3 92.3h0M352.7 121.3h0M356.3 127.1h0M353.7 91.5h0M356.6 76.7h0M352.5 114.4h0M354.6 115.8h0M354.0 96.9h0M354.0 90.1h0M354.8 107.8h0M351.4 77.8h0M351.9 100.6h0M353.5 91.9h0M354.8 85.6h0M354.3 77.1h0M356.5 96.9h0M353.0 88.1h0M356.2 123.7h0M356.3 127.3h0M354.8 78.9h0M354.5 77.8h0M354.4 91.9h0M351.5 113.0h0M353.6 92.0h0M354.2 121.8h0M352.5 109.9h0M354.5 82.9h0M355.7 91.9h0M353.6 102.7h0M353.1 102.9h0M356.0 89.8h0M355.1 108.5h0M351.1 113.6h0M355.4 93.9h0M356.7 107.1h0M352.9 92.8h0M355.8 91.1h0M356.2 120.4h0M352.6 102.8h0M354.0 105.1h0M352.7 99.1h0M354.6 127.7h0M355.0 92.9h0M355.9 104.3h0M351.8 138.0h0M354.2 137.7h0M352.4 99.2h0M351.1 99.2h0M356.5 130.9h0M351.5 82.3h0M353.9 94.9h0M355.8 98.7h0M356.3 95.4h0M356.2 94.0h0M355.7 122.6h0M356.2 107.6h0M356.5 88.9h0M353.3 91.4h0M355.5 99.2h0M354.1 127.9h0M355.1 97.8h0M354.5 106.6h0M353.2 92.3h0M356.1 94.0h0M354.0 105.5h0M355.8 100.7h0M352.7 109.7h0M354.7 104.5h0M356.6 119.1h0M355.2 99.9h0M351.2 103.7h0M354.3 104.8h0M356.6 124.9h0M353.7 97.1h0M352.5 133.7h0M354.7 106.8h0M353.8 117.4h0M354.2 109.6h0M354.0 93.8h0M354.6 91.8h0M354.8 125.5h0M355.3 100.7h0M353.0 78.7h0M352.4 84.8h0M351.1 95.1h0M353.6 86.5h0M353.9 101.9h0M352.4 105.4h0M354.6 93.7h0M352.6 128.2h0M352.7 79.0h0M354.3 108.7h0M356.4 105.3h0M351.8 70.4h0M352.0 112.8h0M352.7 102.3h0M356.0 94.3h0M351.2 126.6h0M352.8 123.0h0M353.5 121.0h0M355.2 105.7h0M356.6 75.0h0M354.7 103.3h0M354.5 121.1h0M356.0 82.4h0M352.0 120.4h0M355.0 81.1h0M351.5 90.9h0M351.2 96.1h0M355.5 92.2h0M351.1 107.5h0M356.7 92.4h0M353.1 96.0h0M355.6 107.2h0M353.1 74.5h0M356.7 113.1h0M353.6 103.0h0M355.1 107.9h0M353.7 70.5h0M353.3 84.4h0M355.6 103.3h0M355.3 73.9h0M355.7 93.3h0M356.4 79.9h0M353.3 99.0h0M354.0 142.1h0M351.1 106.1h0M352.8 66.9h0M351.2 79.0h0M355.5 105.9h0M354.8 94.3h0M351.6 100.5h0M355.3 86.1h0M354.2 100.9h0M353.8 88.0h0M353.8 101.0h0M355.2 92.3h0M355.4 106.9h0M354.9 105.2h0M356.1 105.1h0M355.4 78.5h0M353.0 105.0h0M354.5 102.8h0M354.1 131.8h0M351.4 79.3h0M354.3 81.9h0M355.1 63.7h0M355.3 92.8h0M351.7 103.3h0M356.0 84.4h0M352.3 92.7h0M354.0 100.0h0M353.8 105.7h0M356.6 101.8h0M356.5 95.8h0M352.1 80.7h0M353.2 90.3h0M354.2 96.8h0M352.8 92.1h0M353.1 94.2h0M353.8 89.5h0M356.7 95.3h0M351.1 109.2h0M354.0 81.6h0M355.7 95.2h0M353.2 81.9h0M353.3 69.1h0M355.7 92.6h0M353.4 105.8h0M353.0 105.6h0M355.8 103.7h0M356.6 127.6h0M354.2 89.0h0M352.8 95.3h0M356.0 90.8h0M353.9 105.0h0M352.5 113.3h0M354.7 84.6h0M354.7 102.2h0M351.1 116.4h0M354.3 106.0h0M354.1 116.4h0M352.6 107.3h0M353.1 92.1h0M355.3 92.1h0M351.3 105.2h0M354.2 85.3h0M354.9 97.4h0M356.2 98.4h0M356.5 141.3h0M353.4 96.2h0M356.1 80.8h0M351.1 96.8h0M353.4 96.0h0M355.7 97.6h0M355.8 121.2h0M352.5 108.0h0M351.7 130.5h0M354.0 109.8h0M352.0 78.5h0M353.2 108.9h0M353.1 95.4h0M351.9 94.4h0M354.3 129.1h0M351.8 92.7h0M354.8 128.7h0M356.3 127.2h0M352.0 93.7h0M351.4 103.8h0M353.1 125.2h0M356.2 82.8h0M354.6 91.6h0M353.9 97.2h0M353.9 94.9h0M355.8 104.3h0M353.4 108.4h0M356.5 94.1h0M353.5 106.5h0M352.3 104.1h0M355.5 106.1h0M353.8 116.1h0M354.3 109.1h0M351.7 90.2h0M352.1 100.6h0M354.9 95.2h0M352.4 113.1h0M352.9 108.3h0M356.0 81.8h0M353.3 88.9h0M353.7 59.2h0M352.9 149.0h0M353.7 152.0h0M355.4 156.0h0M352.5 161.0h0M353.5 171.8h0M352.9 181.6h0" stroke="#000" stroke-width="1.44" stroke-linecap="round" fill="none"/>
<line x1="353.88" y1="196.60" x2="353.88" y2="199.60" stroke="#222" stroke-width="1.1"/>
<text x="0" y="0" font-size="8.45" fill="#2a2a2a" stroke="#2a2a2a" stroke-width="0.08" text-anchor="end" transform="translate(356.88,208.00) rotate(-45)">Ph−like</text>
<line x1="364.50" y1="88.30" x2="364.50" y2="92.70" stroke="#1a1a1a" stroke-width="0.9"/>
<line x1="364.50" y1="101.80" x2="364.50" y2="106.00" stroke="#1a1a1a" stroke-width="0.9"/>
<rect x="360.65" y="92.70" width="8.30" height="9.10" fill="#3aaa78"/>
<line x1="360.65" y1="99.80" x2="368.95" y2="99.80" stroke="#111" stroke-width="1.2"/>
<path d="M363.7 91.6h0M362.3 99.9h0M364.9 94.4h0M366.0 92.1h0M363.5 92.9h0M365.3 101.8h0M367.2 104.0h0M364.8 93.5h0" stroke="#000" stroke-width="1.44" stroke-linecap="round" fill="none"/>
<line x1="364.80" y1="196.60" x2="364.80" y2="199.60" stroke="#222" stroke-width="1.1"/>
<text x="0" y="0" font-size="8.45" fill="#2a2a2a" stroke="#2a2a2a" stroke-width="0.08" text-anchor="end" transform="translate(367.80,208.00) rotate(-45)">HLF</text>
<line x1="375.50" y1="67.10" x2="375.50" y2="88.50" stroke="#1a1a1a" stroke-width="0.9"/>
<line x1="375.50" y1="109.50" x2="375.50" y2="126.80" stroke="#1a1a1a" stroke-width="0.9"/>
<rect x="371.57" y="88.50" width="8.30" height="21.00" fill="#3dac76"/>
<line x1="371.57" y1="98.00" x2="379.87" y2="98.00" stroke="#111" stroke-width="1.2"/>
<path d="M373.4 104.4h0M377.2 95.9h0M373.5 115.5h0M375.6 90.9h0M375.2 86.2h0M377.8 71.5h0M375.9 106.2h0M375.4 94.7h0M376.9 84.7h0M374.3 84.7h0M376.0 97.8h0M373.0 94.8h0M375.4 85.0h0M377.7 113.6h0M377.1 95.9h0M376.4 88.9h0M373.2 79.3h0M373.8 105.7h0M374.1 92.8h0M373.7 121.2h0M375.9 112.9h0M375.5 100.1h0M375.9 124.3h0M373.4 109.3h0M373.8 118.3h0M373.9 102.6h0M373.8 99.7h0M377.8 89.1h0M373.3 106.1h0M373.4 75.5h0M376.2 143.2h0" stroke="#000" stroke-width="1.44" stroke-linecap="round" fill="none"/>
<line x1="375.72" y1="196.60" x2="375.72" y2="199.60" stroke="#222" stroke-width="1.1"/>
<text x="0" y="0" font-size="8.45" fill="#2a2a2a" stroke="#2a2a2a" stroke-width="0.08" text-anchor="end" transform="translate(378.72,208.00) rotate(-45)">iAMP21</text>
<line x1="386.50" y1="79.50" x2="386.50" y2="90.80" stroke="#1a1a1a" stroke-width="0.9"/>
<line x1="386.50" y1="105.00" x2="386.50" y2="122.40" stroke="#1a1a1a" stroke-width="0.9"/>
<rect x="382.49" y="90.80" width="8.30" height="14.20" fill="#40ae74"/>
<line x1="382.49" y1="98.00" x2="390.79" y2="98.00" stroke="#111" stroke-width="1.2"/>
<path d="M386.5 90.6h0M384.7 86.6h0M388.9 91.7h0M388.6 86.4h0M386.7 99.8h0M386.0 87.9h0M384.0 104.9h0M384.6 107.1h0M385.6 85.5h0M389.3 102.1h0M386.3 92.5h0M385.9 111.6h0M389.2 103.9h0M389.3 100.2h0M384.1 104.4h0M384.3 86.4h0M387.2 89.7h0M388.5 104.1h0M389.3 100.0h0M389.1 96.3h0M385.9 85.5h0M387.9 92.5h0M384.0 93.5h0M388.1 92.6h0M384.4 107.6h0M386.9 113.3h0M388.6 111.6h0M389.4 100.4h0M386.2 91.3h0M386.2 108.1h0M388.7 94.9h0M385.7 86.6h0M387.6 117.7h0M387.5 92.6h0M388.4 89.2h0M387.1 129.8h0" stroke="#000" stroke-width="1.44" stroke-linecap="round" fill="none"/>
<line x1="386.64" y1="196.60" x2="386.64" y2="199.60" stroke="#222" stroke-width="1.1"/>
<text x="0" y="0" font-size="8.45" fill="#2a2a2a" stroke="#2a2a2a" stroke-width="0.08" text-anchor="end" transform="translate(389.64,208.00) rotate(-45)">ETV6−RUNX1−like</text>
<line x1="397.50" y1="82.50" x2="397.50" y2="94.00" stroke="#1a1a1a" stroke-width="0.9"/>
<line x1="397.50" y1="107.00" x2="397.50" y2="112.70" stroke="#1a1a1a" stroke-width="0.9"/>
<rect x="393.41" y="94.00" width="8.30" height="13.00" fill="#42b072"/>
<line x1="393.41" y1="97.50" x2="401.71" y2="97.50" stroke="#111" stroke-width="1.2"/>
<path d="M395.5 91.8h0M398.5 88.1h0M395.7 109.3h0M396.5 95.5h0M396.3 88.4h0M397.6 98.0h0M396.5 88.3h0M398.8 89.7h0M400.1 96.5h0M399.0 90.0h0M395.0 96.9h0M398.4 107.4h0M398.4 109.0h0M396.9 103.3h0M399.5 91.8h0M398.4 61.8h0M397.4 71.5h0M397.7 128.5h0M399.2 137.7h0" stroke="#000" stroke-width="1.44" stroke-linecap="round" fill="none"/>
<line x1="397.56" y1="196.60" x2="397.56" y2="199.60" stroke="#222" stroke-width="1.1"/>
<text x="0" y="0" font-size="8.45" fill="#2a2a2a" stroke="#2a2a2a" stroke-width="0.08" text-anchor="end" transform="translate(400.56,208.00) rotate(-45)">BCL2/MYC</text>
<line x1="408.50" y1="60.40" x2="408.50" y2="88.00" stroke="#1a1a1a" stroke-width="0.9"/>
<line x1="408.50" y1="107.00" x2="408.50" y2="130.30" stroke="#1a1a1a" stroke-width="0.9"/>
<rect x="404.33" y="88.00" width="8.30" height="19.00" fill="#4bb36a"/>
<line x1="404.33" y1="95.40" x2="412.63" y2="95.40" stroke="#111" stroke-width="1.2"/>
<path d="M409.1 75.3h0M410.7 117.4h0M406.3 119.5h0M406.8 90.7h0M409.5 87.7h0M410.8 112.2h0M409.4 61.0h0M410.2 66.1h0M410.3 96.6h0M409.6 74.4h0M407.8 117.2h0M407.7 89.4h0M408.2 112.1h0M408.3 113.7h0M409.7 116.2h0M410.9 109.3h0M409.2 115.7h0M406.8 91.2h0M408.8 91.6h0M406.7 92.0h0M410.4 96.5h0M407.0 91.9h0M410.6 103.1h0M408.4 119.0h0M408.1 95.0h0M406.3 129.5h0M408.2 81.3h0M408.2 105.1h0M406.1 119.1h0M409.9 82.3h0M407.5 110.2h0M407.5 117.6h0M409.9 94.8h0M410.4 95.2h0M408.9 61.0h0M406.4 119.6h0M406.4 90.3h0M406.0 77.2h0M411.3 118.9h0M408.8 99.7h0M406.3 92.6h0M407.7 103.0h0M410.1 88.4h0M406.7 89.6h0M410.8 97.2h0M407.6 111.6h0M411.3 92.0h0M409.6 123.6h0M408.6 97.2h0M406.2 81.5h0M407.5 92.5h0M409.7 87.6h0M406.5 99.3h0M409.6 86.9h0M409.9 93.5h0M407.0 73.6h0M410.2 89.8h0M410.7 106.3h0M411.0 104.0h0M411.1 93.0h0M410.1 78.3h0M408.2 101.4h0M410.2 92.8h0M410.7 99.3h0M408.6 109.0h0M406.6 113.4h0M405.9 105.1h0M409.2 93.3h0M410.1 100.2h0M409.5 94.0h0M407.5 117.0h0M406.6 124.6h0M406.4 80.8h0M407.8 92.6h0M410.6 90.3h0M411.1 82.2h0M407.9 71.1h0M410.0 64.4h0M407.5 105.7h0M410.4 94.7h0M410.7 116.2h0M409.0 90.4h0M407.8 99.7h0M409.7 99.8h0M409.7 98.1h0M406.2 78.9h0M411.0 125.2h0M410.2 110.5h0M406.9 99.8h0M408.1 126.9h0M406.0 92.4h0M407.3 127.1h0M409.9 78.5h0M407.9 106.7h0M409.6 99.3h0M407.7 105.4h0M407.0 95.3h0M409.9 98.7h0M406.0 95.3h0M408.9 102.4h0M407.9 108.1h0M407.7 93.6h0M410.6 111.1h0M410.8 118.3h0M408.8 116.5h0M408.0 94.1h0M410.6 91.7h0M406.0 103.8h0M410.6 110.1h0M409.9 92.5h0M407.5 100.5h0M408.9 89.8h0M406.6 76.2h0M409.6 102.7h0M408.3 76.7h0M406.3 85.3h0M407.5 91.3h0M407.3 89.7h0M407.2 110.9h0M409.7 88.8h0M408.0 76.2h0M410.2 118.3h0M409.7 106.7h0M408.2 95.9h0M407.0 122.2h0M408.3 88.1h0M410.2 78.5h0M411.2 94.4h0M407.9 129.6h0M406.0 94.4h0M406.5 79.2h0M407.2 93.0h0M408.3 100.9h0M406.6 105.2h0M409.2 90.5h0M411.1 117.3h0M406.9 115.8h0M407.7 105.5h0M410.7 95.8h0M408.9 116.1h0M407.1 91.7h0M408.2 102.1h0M410.0 78.1h0M406.1 96.3h0M410.3 102.0h0M407.9 98.4h0M405.9 91.3h0M409.5 91.0h0M408.0 115.4h0M407.1 80.3h0M407.6 94.5h0M407.9 93.8h0M410.9 102.6h0M411.3 89.7h0M408.3 103.1h0M410.5 101.6h0M409.5 101.6h0M408.7 111.5h0M410.8 106.1h0M411.0 101.6h0M407.6 93.4h0M410.9 93.9h0M410.3 89.7h0M409.1 93.4h0M410.3 113.7h0M409.3 91.2h0M410.0 104.5h0M407.5 94.6h0M410.0 63.2h0M410.4 90.1h0M407.8 89.6h0M410.8 73.2h0M408.1 90.3h0M405.9 95.4h0M410.3 77.9h0M408.3 92.6h0M405.8 84.1h0M407.1 100.0h0M407.7 92.2h0M410.7 92.2h0M406.3 99.5h0M410.4 126.7h0M408.2 96.9h0M406.3 122.4h0M410.7 130.1h0M407.5 119.4h0M408.9 96.6h0M409.3 108.7h0M411.2 91.3h0M407.3 116.5h0M407.3 116.0h0M405.8 109.2h0M407.2 83.9h0M410.2 88.2h0M405.8 84.7h0M410.4 92.8h0M409.1 91.5h0M410.3 98.9h0M407.7 94.4h0M408.3 95.6h0M409.4 110.8h0M409.3 81.9h0M407.9 127.4h0M406.4 86.8h0M409.5 95.2h0M407.5 94.4h0M409.6 125.7h0M409.0 112.1h0M409.7 94.7h0M411.1 115.4h0M410.6 88.1h0M409.7 111.0h0M409.6 101.0h0M408.0 89.5h0M408.1 73.7h0M409.7 96.9h0M410.7 113.0h0M410.6 103.2h0M406.4 113.4h0M407.0 92.7h0M406.8 98.2h0M409.8 88.8h0M406.4 89.9h0M408.9 119.4h0M409.7 117.3h0M410.9 94.0h0M409.3 83.1h0M408.5 82.4h0M406.0 105.1h0M409.4 89.4h0M408.5 91.5h0M410.8 97.5h0M406.5 101.1h0M409.9 73.5h0M411.2 77.4h0M406.6 98.3h0M408.4 95.7h0M410.1 100.6h0M411.1 107.0h0M407.3 109.3h0M407.0 82.2h0M407.2 88.7h0M408.3 99.6h0M410.3 107.2h0M410.9 74.2h0M405.8 112.5h0M409.8 98.2h0M411.1 94.0h0M409.5 64.5h0M407.9 106.5h0M407.9 118.3h0M407.5 87.9h0M408.7 111.0h0M409.3 77.4h0M408.1 115.5h0M410.2 108.3h0M408.2 99.2h0M407.3 78.8h0M411.2 97.8h0M408.7 104.4h0M407.6 91.0h0M408.0 91.6h0M408.8 82.1h0M408.9 88.7h0M407.9 89.6h0M407.7 113.2h0M405.8 103.5h0M408.6 86.6h0M409.6 96.3h0M406.4 118.2h0M405.9 89.0h0M408.5 79.4h0M410.5 70.7h0M407.6 99.7h0M410.0 98.5h0M409.7 97.2h0M409.9 63.4h0M409.8 95.0h0M408.9 95.7h0M410.9 99.1h0M408.9 64.6h0M406.3 93.7h0M410.9 93.5h0M410.0 107.5h0M409.7 106.8h0M409.0 105.5h0M405.9 86.2h0M408.6 81.5h0M407.4 107.4h0M409.8 93.8h0M407.4 142.7h0" stroke="#000" stroke-width="1.44" stroke-linecap="round" fill="none"/>
<line x1="408.48" y1="196.60" x2="408.48" y2="199.60" stroke="#222" stroke-width="1.1"/>
<text x="0" y="0" font-size="8.45" fill="#2a2a2a" stroke="#2a2a2a" stroke-width="0.08" text-anchor="end" transform="translate(411.48,208.00) rotate(-45)">Other</text>
<line x1="419.50" y1="70.60" x2="419.50" y2="88.50" stroke="#1a1a1a" stroke-width="0.9"/>
<line x1="419.50" y1="103.50" x2="419.50" y2="125.90" stroke="#1a1a1a" stroke-width="0.9"/>
<rect x="415.25" y="88.50" width="8.30" height="15.00" fill="#58b858"/>
<line x1="415.25" y1="95.50" x2="423.55" y2="95.50" stroke="#111" stroke-width="1.2"/>
<path d="M417.9 114.0h0M418.9 91.7h0M420.7 87.9h0M419.9 99.7h0M420.0 109.6h0M417.9 91.4h0M417.4 90.8h0M419.7 76.3h0M420.3 80.4h0M420.7 105.6h0M418.7 92.3h0M420.9 90.1h0M417.8 90.5h0M421.7 77.6h0M421.8 97.6h0M418.5 72.1h0M418.0 107.0h0M417.4 95.8h0M420.7 104.2h0M420.0 121.0h0M420.6 98.4h0M419.3 103.2h0M416.7 105.7h0M418.7 83.1h0M421.8 102.1h0M419.6 99.7h0M418.9 109.9h0M421.2 82.6h0M421.7 85.3h0M416.9 104.6h0M420.2 110.5h0M418.7 94.2h0M417.8 89.6h0M418.9 92.5h0M420.9 110.0h0M421.1 107.4h0M419.0 88.0h0M417.7 97.0h0M420.5 110.0h0M419.8 99.6h0" stroke="#000" stroke-width="1.44" stroke-linecap="round" fill="none"/>
<line x1="419.40" y1="196.60" x2="419.40" y2="199.60" stroke="#222" stroke-width="1.1"/>
<text x="0" y="0" font-size="8.45" fill="#2a2a2a" stroke="#2a2a2a" stroke-width="0.08" text-anchor="end" transform="translate(422.40,208.00) rotate(-45)">Low hyperdiploid</text>
<line x1="430.50" y1="94.30" x2="430.50" y2="94.30" stroke="#1a1a1a" stroke-width="0.9"/>
<line x1="430.50" y1="96.30" x2="430.50" y2="96.30" stroke="#1a1a1a" stroke-width="0.9"/>
<rect x="426.17" y="94.30" width="8.30" height="2.00" fill="#55b65a"/>
<line x1="426.17" y1="95.00" x2="434.47" y2="95.00" stroke="#111" stroke-width="1.2"/>
<path d="M429.0 95.7h0M429.2 92.2h0M431.2 102.8h0" stroke="#000" stroke-width="1.44" stroke-linecap="round" fill="none"/>
<line x1="430.32" y1="196.60" x2="430.32" y2="199.60" stroke="#222" stroke-width="1.1"/>
<text x="0" y="0" font-size="8.45" fill="#2a2a2a" stroke="#2a2a2a" stroke-width="0.08" text-anchor="end" transform="translate(433.32,208.00) rotate(-45)">ZNF384−like</text>
<line x1="441.50" y1="67.50" x2="441.50" y2="87.00" stroke="#1a1a1a" stroke-width="0.9"/>
<line x1="441.50" y1="98.00" x2="441.50" y2="115.00" stroke="#1a1a1a" stroke-width="0.9"/>
<rect x="437.09" y="87.00" width="8.30" height="11.00" fill="#62bb50"/>
<line x1="437.09" y1="92.50" x2="445.39" y2="92.50" stroke="#111" stroke-width="1.2"/>
<path d="M439.3 94.0h0M439.3 80.7h0M439.3 98.9h0M442.8 91.2h0M443.6 109.0h0M443.1 88.0h0M440.9 94.2h0M439.9 105.0h0M440.0 80.8h0M443.1 79.3h0M439.2 78.3h0M443.1 94.2h0M439.8 96.7h0M441.4 111.0h0M439.6 91.4h0M442.0 97.8h0M442.8 101.4h0M440.8 80.8h0M441.6 103.3h0M439.0 97.0h0M441.6 87.9h0M439.8 97.5h0M443.6 87.6h0M441.7 95.8h0M441.0 99.3h0M440.1 90.7h0M441.5 90.2h0M439.1 107.2h0M439.3 94.4h0M441.8 91.5h0M443.4 89.7h0M442.8 90.1h0M443.3 104.0h0M441.8 77.8h0M441.5 83.0h0M439.3 93.9h0M442.4 92.9h0M443.4 84.7h0M443.7 92.1h0M438.5 95.3h0M441.5 94.1h0M439.7 85.8h0M442.5 110.1h0M443.2 100.6h0M439.2 91.0h0M442.8 92.0h0M443.8 99.2h0M439.3 106.6h0M442.2 90.4h0M443.6 90.3h0M438.7 100.2h0M440.4 91.7h0M440.7 94.8h0M440.0 80.2h0M441.6 88.3h0M443.5 97.2h0M440.1 97.9h0M442.4 100.6h0M440.5 88.3h0M441.8 103.9h0M441.5 96.1h0M438.4 89.1h0M443.0 107.1h0M438.9 81.0h0M440.8 99.2h0M440.2 82.8h0M438.9 76.5h0M438.8 79.1h0M443.9 90.3h0M443.6 87.6h0M443.8 95.8h0M440.0 79.2h0M443.6 85.9h0M440.6 99.6h0M441.7 86.0h0M440.9 78.4h0M439.4 93.6h0M443.3 97.5h0M443.5 97.8h0M441.6 84.3h0M438.4 96.9h0M443.1 103.9h0M443.8 76.3h0M443.7 97.3h0M440.5 93.8h0M443.0 78.9h0M440.0 88.6h0M439.5 104.4h0M439.5 97.7h0M440.2 90.9h0M443.4 99.5h0M438.5 95.4h0M441.5 113.0h0M441.6 109.3h0M441.1 110.0h0M441.5 89.9h0M443.1 99.5h0M443.0 73.6h0M443.9 77.7h0M441.5 95.4h0M442.8 94.4h0M439.7 101.6h0M441.5 93.6h0M440.3 69.7h0M440.6 114.2h0M439.0 80.5h0M441.8 92.1h0M440.3 82.5h0M443.8 90.1h0M441.6 73.6h0M442.1 96.1h0M442.2 87.4h0M440.6 88.6h0M440.4 87.7h0M439.0 98.8h0M439.4 91.3h0M440.1 97.3h0M440.8 95.3h0M441.4 73.1h0M440.7 91.4h0M443.0 91.5h0M441.3 92.0h0M439.5 95.8h0M438.9 99.6h0M438.7 97.2h0M441.6 94.4h0M442.7 104.0h0M441.9 93.6h0M442.9 94.0h0M439.1 88.5h0M439.9 91.4h0M440.5 87.1h0M438.6 99.2h0M439.1 70.7h0M443.7 98.0h0M440.7 106.9h0M442.2 94.0h0M443.9 85.3h0M438.9 96.5h0M438.5 99.5h0M441.9 97.6h0M439.0 79.6h0M443.4 97.6h0M440.7 90.6h0M438.8 105.9h0M441.9 99.5h0M441.3 106.6h0M438.5 83.5h0M440.8 97.2h0M442.6 90.1h0M440.9 88.6h0M441.9 96.1h0M443.6 93.4h0M441.7 91.9h0M441.1 88.8h0M442.2 92.7h0M444.0 90.3h0M441.2 96.8h0M443.0 73.2h0M440.1 91.3h0M440.8 101.2h0M440.9 94.1h0M441.1 97.9h0M439.0 90.9h0M442.4 89.0h0M439.8 100.4h0M441.1 107.7h0M440.7 88.6h0M441.8 90.5h0M438.7 107.2h0M443.6 92.3h0M440.9 88.0h0M439.2 97.8h0M442.7 89.3h0M438.9 94.9h0M442.4 97.4h0M440.7 85.9h0M440.6 80.0h0M439.6 110.4h0M442.4 79.8h0M440.0 105.3h0M441.1 94.8h0M443.6 110.1h0M439.9 91.8h0M441.6 108.9h0M442.5 77.7h0M443.3 81.4h0M438.8 88.9h0M441.7 96.7h0M439.7 94.3h0M443.3 106.1h0M440.1 88.8h0M443.3 93.2h0M442.0 102.7h0M443.5 98.8h0M443.7 84.4h0M441.3 95.1h0M440.4 96.4h0M443.9 76.6h0M443.5 68.9h0M442.1 92.7h0M440.9 78.9h0M442.9 78.4h0M440.5 97.3h0M439.4 88.3h0M439.5 97.9h0M443.5 104.4h0M443.0 68.1h0M442.6 92.4h0M440.9 88.4h0M439.2 92.1h0M440.4 98.4h0M442.1 95.6h0M439.8 98.4h0M442.8 80.6h0M442.8 77.7h0M441.2 100.4h0M443.0 82.7h0M441.1 99.0h0M438.5 90.5h0M442.6 98.3h0M440.9 88.8h0M441.4 90.9h0M438.9 95.9h0M442.8 87.2h0M442.7 93.9h0M442.3 83.0h0M443.9 84.0h0M443.7 107.4h0M442.8 93.6h0M439.0 87.3h0M438.9 90.6h0M440.3 87.4h0M440.0 95.2h0M442.0 84.0h0M442.6 96.9h0M442.9 100.9h0M442.7 90.2h0M444.0 89.9h0M441.0 88.2h0M441.6 90.5h0M440.2 97.2h0M443.0 84.5h0M442.3 75.2h0M440.7 92.4h0M442.1 88.0h0M442.6 77.1h0M440.0 95.1h0M442.8 107.1h0M440.6 94.1h0M441.2 106.8h0M440.0 79.4h0M442.7 87.1h0M441.8 89.0h0M442.2 98.0h0M443.9 90.6h0M440.4 92.2h0M441.9 79.0h0M442.1 96.0h0M439.5 102.3h0M441.0 80.1h0M439.6 84.3h0M439.8 93.1h0M441.8 84.3h0M440.6 94.8h0M439.6 99.7h0M440.2 88.3h0M440.6 104.5h0M444.0 93.5h0M440.7 95.0h0M442.5 73.7h0M440.7 93.4h0M439.3 99.1h0M442.0 93.1h0M441.1 104.4h0M441.8 101.4h0M442.2 95.9h0M440.7 85.3h0M438.9 95.1h0M441.9 99.7h0M439.2 84.1h0M443.6 72.8h0M441.5 95.5h0M440.3 88.7h0M442.5 95.4h0M440.9 92.8h0M439.1 91.1h0M440.1 93.1h0M441.4 101.7h0M441.4 88.0h0M442.2 92.5h0M443.9 94.2h0M438.5 99.6h0M442.3 91.0h0M440.7 95.1h0M439.8 96.0h0M443.3 84.9h0M441.6 97.4h0M439.2 93.4h0M441.4 87.4h0M443.5 69.7h0M439.9 79.2h0M443.0 104.2h0M442.3 104.3h0M442.4 101.3h0M438.9 106.7h0M441.3 81.0h0M443.9 93.6h0M439.7 85.2h0M440.6 88.0h0M440.2 93.3h0M440.1 99.0h0M439.5 97.5h0M440.6 80.7h0M443.0 91.2h0M439.3 88.6h0M443.7 76.6h0M440.3 82.4h0M442.0 82.9h0M440.6 109.0h0M441.5 88.1h0M442.9 76.9h0M443.9 82.6h0M443.5 96.0h0M442.9 114.5h0M441.2 105.2h0M438.8 93.8h0M442.9 89.5h0M439.8 99.2h0M441.4 85.9h0M440.2 111.4h0M440.0 77.1h0M441.0 97.1h0M443.0 80.0h0M442.2 95.0h0M438.8 109.6h0M442.0 95.3h0M438.7 102.9h0M439.5 81.7h0M438.9 106.7h0M440.0 105.6h0M442.1 90.8h0M441.3 97.2h0M441.7 96.2h0M441.9 104.3h0M443.6 114.9h0M441.5 99.8h0M440.9 100.7h0M442.0 97.7h0M443.2 85.5h0M441.0 73.3h0M440.4 91.4h0M441.3 97.2h0M438.8 73.5h0M440.2 87.1h0M439.9 90.4h0M441.2 87.7h0M440.9 96.7h0M439.0 114.0h0M438.9 78.9h0M442.2 94.8h0M443.7 108.0h0M443.8 99.9h0M441.7 94.0h0M438.9 90.2h0M442.6 92.4h0M442.6 85.0h0M439.2 88.5h0M441.3 94.5h0M442.7 107.3h0M441.6 104.6h0M439.4 97.6h0M441.9 76.7h0M441.8 87.4h0M443.3 91.1h0M440.6 106.3h0M441.8 99.4h0M443.6 94.8h0M439.9 98.7h0M442.5 78.5h0M440.5 94.1h0M439.3 87.4h0M439.7 87.6h0M438.9 84.1h0M443.3 78.6h0M439.3 110.2h0M443.0 78.6h0M442.9 97.1h0M439.8 90.7h0M440.8 88.4h0M443.2 102.8h0M439.8 87.7h0M442.3 94.1h0M439.9 95.3h0M443.8 91.9h0M439.9 104.9h0M444.0 92.9h0M438.5 69.3h0M439.2 89.4h0M439.2 99.9h0M444.0 92.5h0M440.5 75.0h0M442.3 79.4h0M443.5 105.8h0M443.9 97.5h0M443.5 103.2h0M441.3 92.2h0M441.2 101.0h0M441.6 86.5h0M441.4 72.0h0M439.2 79.1h0M441.8 87.3h0M440.3 80.2h0M443.0 93.3h0M440.5 97.9h0M442.1 82.1h0M438.5 92.7h0M440.8 86.3h0M440.6 98.5h0M443.1 103.0h0M442.2 57.8h0M442.8 116.5h0M441.8 118.4h0M440.1 122.2h0M441.0 139.6h0" stroke="#000" stroke-width="1.44" stroke-linecap="round" fill="none"/>
<line x1="441.24" y1="196.60" x2="441.24" y2="199.60" stroke="#222" stroke-width="1.1"/>
<text x="0" y="0" font-size="8.45" fill="#2a2a2a" stroke="#2a2a2a" stroke-width="0.08" text-anchor="end" transform="translate(444.24,208.00) rotate(-45)">ETV6−RUNX1</text>
<line x1="452.50" y1="67.50" x2="452.50" y2="84.30" stroke="#1a1a1a" stroke-width="0.9"/>
<line x1="452.50" y1="100.80" x2="452.50" y2="112.00" stroke="#1a1a1a" stroke-width="0.9"/>
<rect x="448.01" y="84.30" width="8.30" height="16.50" fill="#66bd4e"/>
<line x1="448.01" y1="92.50" x2="456.31" y2="92.50" stroke="#111" stroke-width="1.2"/>
<path d="M449.4 68.4h0M450.2 97.7h0M450.9 103.1h0M449.7 88.6h0M451.8 79.1h0M449.9 103.1h0M451.3 91.7h0M450.0 92.5h0M452.2 97.3h0M452.2 105.7h0M452.7 80.3h0M452.9 104.3h0M450.2 105.7h0M452.3 110.7h0M450.9 102.9h0M454.4 104.6h0M453.1 103.9h0M451.9 81.8h0M451.2 89.8h0M453.2 81.3h0M453.3 105.8h0M452.1 104.0h0M452.1 102.8h0M453.5 87.4h0M449.7 98.3h0M454.5 94.2h0M452.8 90.8h0M452.9 83.6h0M454.7 75.6h0M453.9 84.7h0M450.8 104.0h0M452.6 85.6h0M453.7 79.4h0M450.3 98.1h0M450.0 87.3h0M450.9 92.7h0M453.0 95.8h0M452.8 88.1h0M454.4 106.4h0M454.4 85.8h0M453.0 88.8h0M453.5 78.2h0M449.6 88.1h0M453.4 108.9h0M451.5 80.0h0M451.8 102.0h0M453.6 80.3h0M450.5 104.3h0M453.5 102.0h0M454.3 100.8h0M450.4 95.4h0M450.1 95.3h0M449.5 78.6h0M451.5 95.3h0M450.6 107.2h0M454.2 69.7h0M454.2 95.1h0M454.2 77.3h0M452.5 85.1h0M453.4 92.1h0M454.8 89.2h0M454.4 102.8h0M451.8 84.1h0M451.0 80.0h0M452.6 96.1h0M450.7 73.2h0M453.0 80.0h0M451.0 76.8h0M454.3 87.1h0M453.3 78.4h0M452.9 80.4h0M450.4 90.8h0M454.8 91.9h0M449.6 75.7h0M450.7 99.0h0M450.4 80.2h0M450.5 83.6h0M454.8 97.8h0M452.6 104.5h0M453.6 100.0h0M453.2 106.2h0M454.7 100.6h0M453.1 98.2h0M454.6 108.3h0M454.5 88.1h0M449.7 84.5h0M451.5 84.5h0M454.3 102.2h0M451.3 87.1h0M453.0 106.0h0M450.7 106.4h0M450.3 106.7h0M450.9 84.4h0M450.9 70.2h0M453.5 82.1h0M452.7 87.8h0M454.0 104.0h0M452.3 76.7h0M449.8 102.6h0M454.8 100.6h0M450.9 98.6h0M449.6 91.7h0M453.7 82.6h0M449.5 98.9h0M453.9 77.7h0M450.5 83.7h0M452.9 75.3h0M454.9 108.0h0M450.4 86.0h0M452.7 78.1h0M449.5 88.0h0M453.8 101.9h0M450.4 110.2h0M452.6 106.1h0M453.8 104.1h0M453.7 94.1h0M454.8 77.1h0M451.4 102.5h0M451.2 82.4h0M451.2 76.0h0M450.8 88.3h0M450.9 85.2h0M453.4 95.1h0M450.1 80.9h0M450.5 103.1h0M453.1 83.5h0M453.9 85.4h0M452.1 101.3h0M451.3 111.7h0M450.8 89.2h0M450.5 82.3h0M453.2 94.4h0M453.1 101.6h0M449.6 95.8h0M453.0 105.0h0M453.2 81.1h0M453.1 79.3h0M454.1 83.0h0M452.3 89.4h0M450.7 103.4h0M450.0 105.6h0M451.0 96.1h0M454.0 90.4h0M454.4 100.2h0M450.4 80.6h0M450.5 89.6h0M450.6 106.2h0M449.4 102.1h0M453.9 108.7h0M454.2 79.2h0M449.5 106.0h0M451.5 79.6h0M453.3 97.6h0M451.2 91.5h0M450.0 103.7h0M454.4 85.5h0M450.6 107.2h0M450.9 91.7h0M452.2 92.9h0M450.0 100.3h0M453.9 95.2h0M452.4 104.1h0M452.6 81.6h0M454.6 97.6h0M454.9 82.9h0M452.1 99.1h0M454.1 94.1h0M452.4 88.6h0M454.3 92.0h0M450.1 97.4h0M450.7 103.0h0M454.8 105.3h0M453.8 90.7h0M452.3 94.0h0M454.3 101.5h0M451.6 95.1h0M454.2 84.6h0M452.1 68.0h0M454.0 95.0h0M450.5 95.0h0M451.1 93.2h0M453.7 100.6h0M452.9 97.5h0M450.0 99.0h0M453.7 82.9h0M452.8 85.8h0M452.2 103.0h0M453.8 80.6h0M452.9 89.5h0M449.7 103.1h0M449.5 80.1h0M451.6 100.7h0M453.3 85.9h0M454.6 79.2h0M450.8 100.1h0M451.2 104.5h0M454.7 105.1h0M452.1 90.0h0M454.5 106.4h0M453.7 100.9h0M450.9 102.1h0M452.4 104.1h0M452.6 99.7h0M450.6 85.4h0M452.2 104.3h0M451.9 95.8h0M450.3 96.9h0M453.4 104.5h0M453.2 88.1h0M452.2 88.0h0M454.5 102.4h0M451.9 91.4h0M451.5 100.4h0M451.6 71.2h0M450.1 81.9h0M450.9 89.2h0M451.1 101.3h0M453.0 95.9h0M454.2 95.6h0M454.1 103.6h0M453.8 94.6h0M450.8 96.0h0M452.9 77.9h0M452.3 85.2h0M454.7 85.6h0M454.8 84.6h0M451.0 97.5h0M454.0 78.4h0M451.8 78.2h0M454.7 95.4h0M450.3 102.2h0M451.1 103.1h0M451.5 95.2h0M449.6 93.8h0M452.2 97.7h0M452.1 106.5h0M453.0 77.5h0M454.2 75.7h0M449.5 92.7h0M452.6 106.4h0M451.2 80.2h0M453.6 104.3h0M452.0 91.2h0M452.5 104.4h0M453.3 90.1h0M449.8 77.6h0M451.2 80.7h0M451.3 95.3h0M451.8 81.8h0M452.0 106.0h0M449.4 103.8h0M451.5 106.6h0M449.4 94.1h0M454.4 104.1h0M454.8 91.1h0M454.7 91.1h0M451.5 86.2h0M450.2 106.7h0M453.1 82.4h0M450.3 99.2h0" stroke="#000" stroke-width="1.44" stroke-linecap="round" fill="none"/>
<line x1="452.16" y1="196.60" x2="452.16" y2="199.60" stroke="#222" stroke-width="1.1"/>
<text x="0" y="0" font-size="8.45" fill="#2a2a2a" stroke="#2a2a2a" stroke-width="0.08" text-anchor="end" transform="translate(455.16,208.00) rotate(-45)">Ph</text>
<line x1="463.50" y1="64.70" x2="463.50" y2="83.90" stroke="#1a1a1a" stroke-width="0.9"/>
<line x1="463.50" y1="102.50" x2="463.50" y2="125.00" stroke="#1a1a1a" stroke-width="0.9"/>
<rect x="458.93" y="83.90" width="8.30" height="18.60" fill="#68be4d"/>
<line x1="458.93" y1="91.20" x2="467.23" y2="91.20" stroke="#111" stroke-width="1.2"/>
<path d="M465.5 87.1h0M465.9 102.6h0M461.4 90.2h0M464.3 106.5h0M461.4 74.9h0M461.1 103.2h0M461.5 104.9h0M461.6 94.9h0M461.6 86.4h0M462.6 101.8h0M460.6 107.3h0M460.3 111.9h0M460.6 86.1h0M465.3 92.1h0M462.0 87.9h0M462.7 95.6h0M460.6 99.3h0M461.1 108.0h0M462.1 105.0h0M463.7 111.2h0M463.1 105.5h0M463.1 85.6h0M464.6 84.2h0M461.5 93.6h0M464.2 114.7h0M461.9 97.2h0M461.3 112.3h0M462.9 76.8h0M465.0 79.0h0M461.5 102.6h0M461.6 77.0h0M465.5 88.3h0M462.7 92.7h0M465.1 73.5h0M464.2 75.0h0M460.5 104.0h0M465.4 119.4h0M465.2 89.9h0M461.6 73.5h0M461.8 71.2h0M461.8 106.7h0M465.5 65.8h0M463.0 97.9h0M464.8 80.2h0M462.3 76.5h0M463.2 103.5h0M463.7 74.6h0M461.4 77.8h0M465.4 91.0h0M464.7 89.1h0M462.8 81.0h0M464.2 85.7h0M463.2 93.9h0M465.2 80.9h0M462.3 67.7h0M463.4 86.1h0M461.6 78.8h0M461.7 92.7h0M464.3 81.2h0M460.9 123.2h0M463.6 108.9h0M462.2 82.6h0M463.6 112.6h0M462.7 87.9h0M462.2 101.6h0M464.8 103.5h0M464.3 96.6h0M461.6 89.8h0M464.0 101.2h0M465.4 78.2h0M461.7 108.2h0M461.3 111.4h0M464.3 96.3h0M463.6 75.6h0M462.4 108.7h0M461.8 108.8h0M463.1 89.0h0M461.8 107.1h0M463.8 76.6h0M462.1 88.2h0M464.5 100.3h0M463.9 121.0h0M463.8 73.5h0M460.5 114.4h0M461.3 82.1h0M463.9 94.7h0M461.9 86.1h0M465.4 85.9h0M462.5 92.6h0M465.2 85.8h0M465.5 85.7h0M465.6 82.3h0M464.0 102.5h0M460.9 104.9h0M465.6 98.4h0M462.0 100.5h0M465.8 75.0h0M462.3 83.5h0M460.6 80.2h0M460.6 122.2h0M461.6 98.7h0M462.8 78.4h0M463.0 78.8h0M462.2 97.0h0M462.8 114.4h0M465.7 73.8h0M460.8 74.8h0M465.0 93.8h0M460.6 108.2h0M460.8 105.1h0M464.3 84.2h0M460.6 67.4h0M464.7 85.3h0M460.7 106.7h0M464.7 69.2h0M461.3 113.2h0M461.2 86.6h0M461.1 94.1h0M463.0 111.8h0M465.0 90.0h0M462.3 123.9h0M463.4 113.0h0M462.1 107.5h0M463.9 71.4h0M463.7 86.3h0M464.1 105.4h0M460.8 71.2h0M462.2 79.4h0M463.9 105.4h0M461.2 78.8h0M463.1 105.6h0M463.1 105.2h0M460.4 67.0h0M461.4 94.5h0M463.6 107.4h0M462.9 74.0h0M464.2 89.5h0M465.7 78.4h0M461.3 98.7h0M463.7 75.5h0M461.1 77.2h0M460.9 81.9h0M461.0 109.5h0M462.6 97.4h0M465.5 86.6h0M463.5 94.4h0M462.4 95.2h0M460.3 101.8h0M464.3 102.2h0M464.1 81.4h0M462.6 93.9h0M461.6 106.1h0M463.6 65.2h0M463.3 95.5h0M461.9 91.5h0M462.7 94.9h0M465.3 76.4h0M462.8 100.8h0M465.6 104.1h0M463.0 109.2h0M462.9 121.7h0M460.4 93.0h0M463.1 108.3h0M462.0 92.4h0M462.1 114.0h0M460.9 98.1h0M461.5 88.3h0M464.3 90.3h0M463.1 121.2h0M465.3 87.2h0M465.0 85.6h0M461.5 86.5h0M464.5 80.7h0M465.5 91.8h0M465.4 114.4h0M463.3 97.6h0M461.2 81.5h0M460.4 91.4h0M465.6 115.8h0M462.7 104.3h0M465.5 110.1h0M465.1 91.0h0M462.9 101.5h0M463.6 102.7h0M463.5 85.2h0M462.0 88.7h0M460.4 73.7h0M464.0 107.4h0M465.0 70.6h0M465.6 102.7h0M463.5 93.2h0M463.7 86.9h0M465.3 77.4h0M465.3 99.5h0M464.1 99.5h0M463.9 107.9h0M465.8 100.2h0M462.4 86.4h0M460.9 72.9h0M463.9 84.0h0M462.9 120.5h0M465.9 110.4h0M463.8 111.4h0M461.0 89.9h0M463.5 74.6h0M461.8 87.8h0M462.1 108.2h0M461.4 116.2h0M462.5 91.4h0M461.1 83.4h0M463.2 105.1h0M462.0 85.7h0M461.0 105.1h0M462.4 97.4h0M461.6 81.5h0M464.5 98.4h0M460.5 105.0h0M465.4 70.8h0M461.9 99.5h0M461.5 93.0h0M465.2 82.1h0M462.5 85.0h0M465.5 79.4h0M464.0 106.4h0M465.8 107.1h0M462.6 81.6h0M461.9 84.2h0M463.2 113.5h0M462.8 112.8h0M463.5 78.7h0M461.5 101.8h0M463.1 89.5h0M461.2 76.2h0M462.8 92.7h0M461.3 96.8h0M463.3 96.5h0M462.1 105.8h0M465.5 90.4h0M462.2 92.0h0M463.2 116.2h0M460.9 98.2h0M463.7 92.4h0M464.4 97.9h0M460.6 87.3h0M463.2 114.3h0M463.4 88.1h0M462.2 103.7h0M462.5 84.8h0M461.6 90.4h0M463.0 87.4h0M464.5 124.2h0M465.8 81.2h0M464.2 74.2h0M461.8 92.7h0M462.6 85.3h0M460.9 99.2h0M464.3 88.1h0M461.1 82.9h0M463.8 105.2h0M465.2 109.6h0M464.5 131.9h0" stroke="#000" stroke-width="1.44" stroke-linecap="round" fill="none"/>
<line x1="463.08" y1="196.60" x2="463.08" y2="199.60" stroke="#222" stroke-width="1.1"/>
<text x="0" y="0" font-size="8.45" fill="#2a2a2a" stroke="#2a2a2a" stroke-width="0.08" text-anchor="end" transform="translate(466.08,208.00) rotate(-45)">DUX4</text>
<line x1="474.50" y1="64.70" x2="474.50" y2="84.50" stroke="#1a1a1a" stroke-width="0.9"/>
<line x1="474.50" y1="98.80" x2="474.50" y2="128.70" stroke="#1a1a1a" stroke-width="0.9"/>
<rect x="469.85" y="84.50" width="8.30" height="14.30" fill="#68be4d"/>
<line x1="469.85" y1="91.20" x2="478.15" y2="91.20" stroke="#111" stroke-width="1.2"/>
<path d="M472.7 87.7h0M475.5 89.5h0M474.8 95.9h0M476.3 88.5h0M474.9 83.1h0M476.2 90.0h0M475.1 88.4h0M471.8 97.0h0M472.4 89.7h0M472.4 71.5h0M473.1 76.9h0M474.4 103.4h0M476.8 96.6h0M471.8 88.0h0M471.8 97.0h0M474.2 91.4h0M475.0 96.8h0M475.8 92.9h0M472.6 86.4h0M471.4 80.4h0M471.4 100.0h0M474.2 74.1h0M476.7 79.8h0M476.2 111.2h0M475.1 121.6h0M473.4 82.3h0M475.5 77.2h0M472.8 91.3h0M471.6 105.9h0M474.1 90.1h0M474.2 103.7h0M472.9 112.2h0M472.0 86.7h0M471.9 90.6h0M472.4 77.7h0M476.3 75.1h0M472.8 72.6h0M471.6 86.3h0M475.1 71.0h0M472.0 116.2h0M473.1 110.1h0M475.6 74.8h0M475.7 96.5h0M474.3 124.9h0M471.6 94.6h0M474.9 75.7h0M474.8 65.8h0M471.9 88.0h0M476.2 91.9h0M474.8 89.6h0M473.2 92.4h0M472.4 124.5h0M471.7 103.8h0M475.4 114.1h0M475.1 65.8h0M472.4 80.3h0M473.3 79.3h0M472.5 79.1h0M474.1 97.3h0M472.6 100.9h0M475.6 85.1h0M474.9 68.6h0M473.8 95.7h0M474.5 88.9h0M474.4 75.8h0M473.9 73.3h0M471.4 92.8h0M473.9 96.5h0M473.7 124.5h0M472.7 109.3h0M476.3 77.5h0M474.5 109.4h0M471.5 91.6h0M474.2 97.4h0M474.4 93.5h0M474.6 113.2h0M472.3 88.2h0M476.4 89.4h0M474.7 77.2h0M475.4 90.6h0M475.2 92.6h0M474.3 95.1h0M474.5 84.9h0M473.4 88.4h0M474.9 95.8h0M473.7 92.8h0M472.8 94.9h0M476.1 87.8h0M474.8 103.1h0M474.8 90.4h0M473.4 86.8h0M473.2 124.9h0M474.7 90.6h0M474.9 75.3h0M473.2 87.1h0M471.9 82.2h0M473.9 77.5h0M475.1 92.6h0M476.8 90.1h0M471.6 108.9h0M472.5 88.7h0M476.8 100.6h0M472.8 90.4h0M472.5 95.3h0M472.0 98.7h0M475.3 70.1h0M471.8 95.5h0M476.2 70.2h0M476.1 110.9h0M476.7 89.8h0M473.6 93.0h0M474.4 125.6h0M476.1 99.7h0M476.1 100.9h0M475.7 96.3h0M476.4 85.5h0M473.2 89.2h0M472.5 98.4h0M472.9 110.3h0M475.8 96.8h0M474.0 126.1h0M472.1 91.0h0M472.4 86.0h0M472.1 84.7h0M472.9 77.8h0M472.0 111.0h0M471.9 102.4h0M476.6 96.9h0M473.4 95.0h0M471.6 84.3h0M476.1 111.5h0M472.2 96.5h0M475.4 104.0h0M473.4 69.8h0M473.8 85.5h0M473.0 102.4h0M472.6 96.1h0M471.7 82.2h0M475.3 94.7h0M476.6 117.5h0M474.9 88.1h0M472.3 103.3h0M476.7 79.7h0M475.8 123.4h0M471.6 102.7h0M471.7 88.6h0M475.9 79.8h0M472.0 97.7h0M475.4 90.9h0M475.1 115.9h0M473.3 108.7h0M471.7 105.5h0M472.9 90.3h0M476.3 76.1h0M474.1 85.1h0M473.1 87.3h0M474.3 92.1h0M473.7 93.6h0M476.7 79.2h0M476.0 84.9h0M471.6 97.1h0M474.0 100.9h0M475.3 83.7h0M475.6 75.9h0M471.5 97.3h0M473.0 91.7h0M476.3 78.3h0M475.5 90.2h0M474.1 85.1h0M476.5 93.0h0M474.4 82.0h0M472.0 67.8h0M474.3 83.5h0M471.9 96.6h0M476.1 89.0h0M476.2 104.6h0M472.3 67.8h0M473.9 89.8h0M471.9 96.2h0M476.5 98.3h0M476.5 79.8h0M474.0 91.2h0M473.6 113.6h0M476.8 89.0h0M474.9 113.3h0M476.6 114.7h0M475.1 102.6h0M472.4 87.6h0M473.6 92.4h0M473.4 104.4h0M475.2 113.4h0M474.2 71.2h0M474.1 94.3h0M475.3 107.1h0M471.8 86.1h0M471.9 94.9h0M471.3 85.8h0M471.6 78.3h0M472.3 80.1h0M475.2 90.4h0M476.1 74.7h0M475.2 106.4h0M472.1 93.3h0M476.5 92.4h0M475.1 122.0h0M476.1 90.1h0M472.6 92.0h0M471.8 79.3h0M472.8 86.1h0M472.1 114.2h0M472.1 79.3h0M472.0 75.8h0M471.5 75.3h0M474.2 86.9h0M476.4 88.6h0M476.8 100.6h0M475.7 89.3h0M476.8 98.8h0M473.8 85.3h0M476.1 101.4h0M476.7 89.6h0M475.4 77.6h0M472.1 85.3h0M475.2 80.3h0M471.6 110.7h0M472.4 110.4h0M475.5 83.8h0M473.3 86.0h0M472.0 74.7h0M473.7 100.6h0M475.3 98.5h0M475.4 80.1h0M474.4 96.6h0M474.3 96.8h0M472.1 90.4h0M475.7 79.6h0M471.7 83.1h0M475.4 100.1h0M474.7 81.5h0M473.6 75.0h0M473.9 100.6h0M473.3 97.2h0M473.0 82.8h0M474.5 85.5h0M474.1 121.2h0M474.8 78.4h0M474.8 79.2h0M471.4 66.0h0M472.3 93.5h0M472.8 84.2h0M474.9 86.8h0M474.6 122.7h0M472.6 96.4h0M474.7 87.3h0M475.2 101.6h0M471.5 112.5h0M476.4 77.4h0M476.8 74.3h0M474.4 84.7h0M474.2 90.4h0M476.6 74.5h0M472.3 93.1h0M473.6 90.2h0M476.4 81.4h0M471.7 88.0h0M471.9 90.3h0M475.8 90.2h0M473.8 86.6h0M476.4 106.0h0M473.9 78.2h0M475.0 114.3h0M473.4 94.2h0M472.7 94.9h0M474.8 107.4h0M473.6 90.7h0M474.0 84.5h0M472.7 105.7h0M474.9 89.6h0M475.4 87.6h0M475.5 95.5h0M472.6 89.0h0M474.7 108.6h0M476.5 79.5h0M475.8 81.0h0M472.6 88.8h0M476.0 97.4h0M473.9 98.1h0M471.3 89.9h0M472.3 109.7h0M475.6 82.1h0M472.1 111.5h0M472.1 67.9h0M474.5 81.9h0M475.3 78.2h0M475.5 110.8h0M471.4 85.4h0M472.8 74.5h0M474.1 92.3h0M474.4 89.7h0M476.0 113.2h0M471.8 90.6h0M472.3 91.1h0M475.2 93.3h0M472.1 84.3h0M476.6 97.7h0M472.2 87.8h0M472.6 88.3h0M474.9 112.6h0M472.0 109.6h0M476.6 86.4h0M475.4 113.0h0M471.5 107.2h0M471.3 122.9h0M476.3 85.0h0M472.0 124.1h0M473.5 114.7h0M472.3 96.6h0M471.8 81.1h0M472.0 87.7h0M471.9 87.1h0M476.7 103.0h0M473.7 98.3h0M476.8 86.9h0M471.9 89.9h0M475.0 86.7h0M473.4 88.9h0M471.6 80.9h0M474.2 90.0h0M475.6 75.8h0M473.3 99.6h0M473.3 88.6h0M476.8 113.5h0M472.0 92.6h0M471.3 106.4h0M472.0 76.2h0M476.5 89.5h0M474.5 83.6h0M475.0 97.7h0M472.4 81.6h0M473.5 100.5h0M476.2 88.6h0M472.7 88.8h0M472.0 85.2h0M471.3 110.0h0M474.4 89.2h0M474.3 92.3h0M472.4 103.7h0M473.5 88.9h0M476.3 91.2h0M475.4 92.2h0M473.9 113.6h0M472.3 114.2h0M473.4 103.6h0M476.4 105.9h0M472.9 97.3h0M473.3 112.8h0M474.3 82.7h0M474.7 77.0h0M473.6 87.3h0M473.7 80.1h0M472.5 107.5h0M471.5 82.1h0M474.7 104.2h0M473.8 86.3h0M473.6 87.1h0M471.4 88.8h0M476.7 93.9h0M473.1 89.2h0M476.7 87.9h0M473.5 92.2h0M476.0 80.8h0M474.9 100.7h0M473.2 97.3h0M473.2 81.8h0M473.9 76.0h0M471.9 78.4h0M471.4 94.1h0M476.2 78.9h0M473.8 91.6h0M473.4 71.4h0M472.0 97.1h0M475.7 75.7h0M475.3 90.5h0M474.9 80.0h0M474.8 109.9h0M473.9 78.2h0M474.8 93.4h0M472.5 103.4h0M476.8 86.4h0M474.9 109.5h0M471.4 91.1h0M472.9 105.7h0M471.9 86.0h0M474.7 95.0h0M476.8 84.3h0M472.3 79.9h0M474.6 89.6h0M474.5 89.8h0M472.5 94.8h0M476.1 86.7h0M474.9 86.3h0M472.6 73.7h0M475.8 89.2h0M471.2 87.1h0M475.8 90.9h0M473.4 102.5h0M473.7 68.7h0M474.5 90.0h0M473.8 79.3h0M475.1 76.8h0M474.6 94.2h0M471.5 97.3h0M471.5 91.6h0M475.9 97.3h0M472.3 71.3h0M473.2 105.4h0M472.0 92.7h0M472.1 81.6h0M472.7 90.1h0M471.9 87.3h0M475.9 91.4h0M472.3 122.8h0M475.9 112.7h0M472.6 86.6h0M472.2 76.7h0M475.3 91.5h0M471.6 88.5h0M472.2 114.7h0M476.2 74.4h0M471.5 97.3h0M472.3 87.6h0M476.3 77.1h0M475.6 82.8h0M475.9 83.0h0M475.2 94.9h0M475.1 124.2h0M476.7 92.9h0M473.7 82.7h0M474.5 85.7h0M471.2 88.1h0M472.6 100.8h0M476.3 85.8h0M475.4 87.8h0M472.0 87.6h0M474.5 98.6h0M473.5 84.3h0M473.1 86.0h0M472.1 96.8h0M474.4 93.8h0M476.4 109.8h0M475.3 125.6h0M476.5 95.9h0M471.3 97.7h0M473.3 86.1h0M474.9 81.0h0M474.9 93.0h0M473.0 86.3h0M474.9 103.1h0M471.5 89.3h0M473.6 105.7h0M474.1 111.3h0M472.9 94.4h0M475.3 84.5h0M474.5 113.1h0M474.6 66.5h0M472.5 68.2h0M473.0 101.1h0M472.1 100.0h0M474.0 98.7h0M475.5 81.3h0M475.5 115.3h0M472.7 87.5h0M476.0 126.1h0M472.6 107.8h0M475.7 97.2h0M476.3 74.4h0M475.9 79.3h0M471.5 92.0h0M472.0 100.0h0M472.0 109.3h0M471.5 96.7h0M476.0 97.4h0M474.0 99.4h0M471.3 79.3h0M474.2 85.1h0M476.2 118.4h0M471.8 82.1h0M474.4 73.3h0M472.4 87.6h0M475.1 118.3h0M472.2 85.5h0M474.4 117.2h0M473.1 97.0h0M474.4 78.4h0M475.1 109.1h0M474.4 85.3h0M473.9 73.9h0M471.5 87.2h0M472.9 97.2h0M474.1 93.3h0M475.1 109.4h0M472.6 114.1h0M471.3 88.9h0M475.7 96.4h0M473.3 85.0h0M475.4 105.3h0M471.7 78.3h0M474.3 93.7h0M472.3 86.0h0M474.6 80.8h0M476.5 82.0h0M475.0 86.3h0M472.7 97.4h0M475.7 95.0h0M472.8 88.6h0M474.1 76.6h0M474.9 69.5h0M473.1 84.9h0M473.9 66.7h0M473.5 86.5h0M472.2 90.6h0M473.5 95.2h0M472.1 84.7h0M474.8 102.9h0M476.1 92.0h0M473.7 122.0h0M475.4 80.3h0M474.1 95.7h0M471.2 94.3h0M472.5 112.0h0M472.3 78.2h0M474.3 97.7h0M474.8 85.9h0M473.1 97.0h0M475.6 124.1h0M472.8 94.9h0M474.0 102.2h0M473.0 106.6h0M472.3 110.1h0M473.0 90.5h0M476.1 110.0h0M473.5 113.7h0M471.5 97.5h0M473.7 97.4h0M472.7 86.1h0M476.2 94.9h0M473.7 87.6h0M475.6 101.8h0M472.5 75.1h0M473.3 79.3h0M471.3 91.8h0M472.5 99.4h0M475.8 102.5h0M473.0 74.1h0M472.9 81.8h0M472.3 89.0h0M474.1 76.2h0M475.6 88.8h0M473.9 90.6h0M473.9 85.5h0M474.3 41.0h0M473.3 48.0h0M472.8 52.0h0M473.1 56.0h0M475.6 59.0h0" stroke="#000" stroke-width="1.44" stroke-linecap="round" fill="none"/>
<line x1="474.00" y1="196.60" x2="474.00" y2="199.60" stroke="#222" stroke-width="1.1"/>
<text x="0" y="0" font-size="8.45" fill="#2a2a2a" stroke="#2a2a2a" stroke-width="0.08" text-anchor="end" transform="translate(477.00,208.00) rotate(-45)">Hyperdiploid</text>
<line x1="484.50" y1="61.00" x2="484.50" y2="85.80" stroke="#1a1a1a" stroke-width="0.9"/>
<line x1="484.50" y1="104.20" x2="484.50" y2="130.60" stroke="#1a1a1a" stroke-width="0.9"/>
<rect x="480.77" y="85.80" width="8.30" height="18.40" fill="#6cbf4e"/>
<line x1="480.77" y1="90.50" x2="489.07" y2="90.50" stroke="#111" stroke-width="1.2"/>
<path d="M482.2 88.8h0M485.4 108.5h0M487.7 90.3h0M482.5 75.8h0M487.6 82.2h0M487.5 85.9h0M485.6 97.0h0M486.6 87.0h0M486.7 86.4h0M486.6 99.4h0M487.5 88.7h0M485.6 100.1h0M486.4 78.6h0M482.9 86.8h0M483.9 110.7h0M482.3 87.6h0M482.8 87.5h0M483.7 108.1h0M486.1 89.6h0M483.4 73.0h0M486.9 115.6h0M487.3 88.8h0M482.8 86.4h0M483.3 98.1h0M483.7 93.2h0M487.1 78.6h0M487.7 108.4h0M484.3 71.5h0M487.4 77.7h0M484.2 86.1h0M486.4 88.1h0M484.8 99.3h0M483.0 115.3h0M483.8 82.8h0M484.5 86.7h0M483.7 86.5h0M485.9 115.5h0M483.3 103.8h0M484.9 92.5h0M486.0 76.7h0M484.6 94.0h0M482.8 88.6h0M485.5 101.6h0M485.5 73.5h0M487.5 107.0h0" stroke="#000" stroke-width="1.44" stroke-linecap="round" fill="none"/>
<line x1="484.92" y1="196.60" x2="484.92" y2="199.60" stroke="#222" stroke-width="1.1"/>
<text x="0" y="0" font-size="8.45" fill="#2a2a2a" stroke="#2a2a2a" stroke-width="0.08" text-anchor="end" transform="translate(487.92,208.00) rotate(-45)">PAX5 P80R</text>
<line x1="495.50" y1="67.50" x2="495.50" y2="83.10" stroke="#1a1a1a" stroke-width="0.9"/>
<line x1="495.50" y1="98.50" x2="495.50" y2="117.10" stroke="#1a1a1a" stroke-width="0.9"/>
<rect x="491.69" y="83.10" width="8.30" height="15.40" fill="#6cbf4e"/>
<line x1="491.69" y1="90.40" x2="499.99" y2="90.40" stroke="#111" stroke-width="1.2"/>
<path d="M494.3 81.2h0M493.2 94.7h0M494.3 82.6h0M497.1 80.0h0M496.2 82.0h0M493.2 98.9h0M493.1 87.6h0M497.4 89.8h0M495.5 103.8h0M493.9 89.2h0M496.5 100.9h0M493.9 102.2h0M498.3 99.9h0M493.7 77.1h0M495.3 88.3h0M494.4 110.6h0M493.1 86.0h0M494.6 74.6h0M498.4 95.3h0M493.8 103.9h0M494.8 91.3h0M496.3 96.3h0M495.4 74.9h0M495.1 108.5h0M495.5 78.9h0M494.4 107.7h0M495.0 99.6h0M496.8 96.3h0M493.3 84.0h0M497.6 103.6h0M497.5 78.0h0M496.9 102.0h0M496.8 107.0h0M497.7 99.9h0M495.7 79.3h0M498.3 83.8h0M496.7 77.3h0M495.0 87.0h0M493.8 85.0h0M493.5 91.8h0M496.8 106.2h0M494.2 92.8h0M494.7 75.0h0M495.8 89.2h0M498.6 101.7h0M496.7 136.8h0" stroke="#000" stroke-width="1.44" stroke-linecap="round" fill="none"/>
<line x1="495.84" y1="196.60" x2="495.84" y2="199.60" stroke="#222" stroke-width="1.1"/>
<text x="0" y="0" font-size="8.45" fill="#2a2a2a" stroke="#2a2a2a" stroke-width="0.08" text-anchor="end" transform="translate(498.84,208.00) rotate(-45)">ZNF384</text>
<line x1="506.50" y1="59.80" x2="506.50" y2="74.80" stroke="#1a1a1a" stroke-width="0.9"/>
<line x1="506.50" y1="93.00" x2="506.50" y2="104.60" stroke="#1a1a1a" stroke-width="0.9"/>
<rect x="502.61" y="74.80" width="8.30" height="18.20" fill="#fbe21e"/>
<line x1="502.61" y1="77.20" x2="510.91" y2="77.20" stroke="#111" stroke-width="1.2"/>
<path d="M505.6 69.2h0M509.1 68.5h0M505.0 67.3h0M504.4 95.9h0M507.9 97.9h0M506.6 99.1h0" stroke="#000" stroke-width="1.44" stroke-linecap="round" fill="none"/>
<line x1="506.76" y1="196.60" x2="506.76" y2="199.60" stroke="#222" stroke-width="1.1"/>
<text x="0" y="0" font-size="8.45" fill="#2a2a2a" stroke="#2a2a2a" stroke-width="0.08" text-anchor="end" transform="translate(509.76,208.00) rotate(-45)">KMT2A−like</text>
<text x="7.50" y="287.20" font-size="12" fill="#000" font-weight="bold" textLength="7.70" lengthAdjust="spacingAndGlyphs">C</text>
<text x="163.80" y="300.10" font-size="10.3" fill="#1a1a1a" stroke="#1a1a1a" stroke-width="0.05" textLength="29.70" lengthAdjust="spacingAndGlyphs">DLBCL</text>
<path d="M76.00 342.4V307.20H77.51V342.4ZM77.51 342.4V316.70H79.01V342.4ZM79.01 342.4V317.57H80.52V342.4ZM80.52 342.4V318.29H82.02V342.4ZM82.02 342.4V318.75H83.53V342.4ZM83.53 342.4V319.17H85.04V342.4ZM85.04 342.4V320.01H86.54V342.4ZM86.54 342.4V320.90H88.05V342.4ZM88.05 342.4V321.45H89.55V342.4ZM89.55 342.4V322.01H91.06V342.4ZM91.06 342.4V322.56H92.56V342.4ZM92.56 342.4V323.04H94.07V342.4ZM94.07 342.4V323.24H95.58V342.4ZM95.58 342.4V323.44H97.08V342.4ZM97.08 342.4V323.64H98.59V342.4ZM98.59 342.4V323.85H100.09V342.4ZM100.09 342.4V324.05H101.60V342.4ZM101.60 342.4V324.22H103.11V342.4ZM103.11 342.4V324.32H104.61V342.4ZM104.61 342.4V324.42H106.12V342.4ZM106.12 342.4V324.52H107.62V342.4ZM107.62 342.4V324.63H109.13V342.4ZM109.13 342.4V324.73H110.64V342.4ZM110.64 342.4V324.83H112.14V342.4ZM112.14 342.4V324.93H113.65V342.4ZM113.65 342.4V325.05H115.15V342.4ZM115.15 342.4V325.22H116.66V342.4ZM116.66 342.4V325.39H118.16V342.4ZM118.16 342.4V325.56H119.67V342.4ZM119.67 342.4V325.73H121.18V342.4ZM121.18 342.4V325.87H122.68V342.4ZM122.68 342.4V325.99H124.19V342.4ZM124.19 342.4V326.11H125.69V342.4ZM125.69 342.4V326.22H127.20V342.4ZM127.20 342.4V326.34H128.71V342.4ZM128.71 342.4V326.46H130.21V342.4ZM130.21 342.4V326.57H131.72V342.4ZM131.72 342.4V326.67H133.22V342.4ZM133.22 342.4V326.78H134.73V342.4ZM134.73 342.4V326.88H136.24V342.4ZM136.24 342.4V326.99H137.74V342.4ZM137.74 342.4V327.09H139.25V342.4ZM139.25 342.4V327.20H140.75V342.4ZM140.75 342.4V327.29H142.26V342.4ZM142.26 342.4V327.38H143.76V342.4ZM143.76 342.4V327.47H145.27V342.4ZM145.27 342.4V327.56H146.78V342.4ZM146.78 342.4V327.65H148.28V342.4ZM148.28 342.4V327.74H149.79V342.4ZM149.79 342.4V327.83H151.29V342.4ZM151.29 342.4V327.92H152.80V342.4ZM152.80 342.4V328.01H154.31V342.4ZM154.31 342.4V328.10H155.81V342.4ZM155.81 342.4V328.19H157.32V342.4ZM157.32 342.4V328.28H158.82V342.4ZM158.82 342.4V328.37H160.33V342.4ZM160.33 342.4V328.44H161.84V342.4ZM161.84 342.4V328.49H163.34V342.4ZM163.34 342.4V328.54H164.85V342.4ZM164.85 342.4V328.59H166.35V342.4ZM166.35 342.4V328.64H167.86V342.4ZM167.86 342.4V328.69H169.36V342.4ZM169.36 342.4V328.74H170.87V342.4ZM170.87 342.4V328.79H172.38V342.4ZM172.38 342.4V328.84H173.88V342.4ZM173.88 342.4V328.89H175.39V342.4ZM175.39 342.4V329.03H176.89V342.4ZM176.89 342.4V329.21H178.40V342.4ZM178.40 342.4V329.38H179.91V342.4ZM179.91 342.4V329.56H181.41V342.4ZM181.41 342.4V329.69H182.92V342.4ZM182.92 342.4V329.81H184.42V342.4ZM184.42 342.4V329.92H185.93V342.4ZM185.93 342.4V330.04H187.44V342.4ZM187.44 342.4V330.16H188.94V342.4ZM188.94 342.4V330.28H190.45V342.4ZM190.45 342.4V330.47H191.95V342.4ZM191.95 342.4V330.68H193.46V342.4ZM193.46 342.4V330.89H194.96V342.4ZM194.96 342.4V331.09H196.47V342.4ZM196.47 342.4V331.27H197.98V342.4ZM197.98 342.4V331.45H199.48V342.4ZM199.48 342.4V331.61H200.99V342.4ZM200.99 342.4V331.70H202.49V342.4ZM202.49 342.4V331.79H204.00V342.4ZM204.00 342.4V331.89H205.51V342.4ZM205.51 342.4V331.98H207.01V342.4ZM207.01 342.4V332.07H208.52V342.4ZM208.52 342.4V332.16H210.02V342.4ZM210.02 342.4V332.26H211.53V342.4ZM211.53 342.4V332.38H213.04V342.4ZM213.04 342.4V332.50H214.54V342.4ZM214.54 342.4V332.62H216.05V342.4ZM216.05 342.4V332.74H217.55V342.4ZM217.55 342.4V332.86H219.06V342.4ZM219.06 342.4V332.98H220.56V342.4ZM220.56 342.4V333.09H222.07V342.4ZM222.07 342.4V333.20H223.58V342.4ZM223.58 342.4V333.30H225.08V342.4ZM225.08 342.4V333.41H226.59V342.4ZM226.59 342.4V333.51H228.09V342.4ZM228.09 342.4V333.62H229.60V342.4ZM229.60 342.4V333.74H231.11V342.4ZM231.11 342.4V333.92H232.61V342.4ZM232.61 342.4V334.10H234.12V342.4ZM234.12 342.4V334.28H235.62V342.4ZM235.62 342.4V334.34H237.13V342.4ZM237.13 342.4V334.39H238.64V342.4ZM238.64 342.4V334.44H240.14V342.4ZM240.14 342.4V334.49H241.65V342.4ZM241.65 342.4V334.54H243.15V342.4ZM243.15 342.4V334.59H244.66V342.4ZM244.66 342.4V335.62H246.16V342.4ZM246.16 342.4V335.70H247.67V342.4ZM247.67 342.4V335.77H249.18V342.4ZM249.18 342.4V335.85H250.68V342.4ZM250.68 342.4V335.92H252.19V342.4ZM252.19 342.4V336.00H253.69V342.4ZM253.69 342.4V336.07H255.20V342.4ZM255.20 342.4V336.15H256.71V342.4ZM256.71 342.4V336.22H258.21V342.4ZM258.21 342.4V336.30H259.72V342.4ZM259.72 342.4V336.37H261.22V342.4ZM261.22 342.4V338.21H262.73V342.4ZM262.73 342.4V338.28H264.24V342.4ZM264.24 342.4V338.36H265.74V342.4ZM265.74 342.4V338.43H267.25V342.4ZM267.25 342.4V338.51H268.75V342.4ZM268.75 342.4V338.59H270.26V342.4ZM270.26 342.4V338.66H271.76V342.4ZM271.76 342.4V338.74H273.27V342.4ZM273.27 342.4V338.81H274.78V342.4ZM274.78 342.4V338.89H276.28V342.4ZM276.28 342.4V340.75H277.79V342.4ZM277.79 342.4V340.90H279.29V342.4ZM279.29 342.4V341.25H280.80V342.4Z" fill="#3a3a3a" stroke="#555" stroke-width="0.15"/>
<rect x="76.60" y="307.40" width="1.30" height="9.00" fill="#2a2a2a"/>
<line x1="76.60" y1="307.00" x2="76.60" y2="342.60" stroke="#111" stroke-width="1"/>
<line x1="72.90" y1="310.00" x2="76.60" y2="310.00" stroke="#222" stroke-width="1.3"/>
<line x1="72.90" y1="316.25" x2="76.60" y2="316.25" stroke="#222" stroke-width="1.3"/>
<line x1="72.90" y1="322.50" x2="76.60" y2="322.50" stroke="#222" stroke-width="1.3"/>
<line x1="72.90" y1="328.75" x2="76.60" y2="328.75" stroke="#222" stroke-width="1.3"/>
<line x1="72.90" y1="335.00" x2="76.60" y2="335.00" stroke="#222" stroke-width="1.3"/>
<line x1="72.90" y1="341.25" x2="76.60" y2="341.25" stroke="#222" stroke-width="1.3"/>
<text x="69.60" y="313.10" font-size="8.3" fill="#3a3a3a" stroke="#3a3a3a" stroke-width="0.15" text-anchor="end">8</text>
<text x="69.60" y="325.40" font-size="8.3" fill="#3a3a3a" stroke="#3a3a3a" stroke-width="0.15" text-anchor="end">7</text>
<text x="69.60" y="337.80" font-size="8.3" fill="#3a3a3a" stroke="#3a3a3a" stroke-width="0.15" text-anchor="end">6</text>
<text x="7.90" y="325.40" font-size="10.4" fill="#1a1a1a" stroke="#1a1a1a" stroke-width="0.15" font-style="italic" textLength="52.40" lengthAdjust="spacingAndGlyphs">TNFRSF10B</text>
<text x="284.90" y="339.20" font-size="7.4" fill="#1a1a1a" stroke="#1a1a1a" stroke-width="0.15" textLength="13.90" lengthAdjust="spacingAndGlyphs">FDR</text>
<rect x="76.30" y="347.90" width="203.10" height="17.60" fill="#efefef"/>
<path d="M95.71 347.90H97.21V365.50H95.71ZM110.65 347.90H112.14V365.50H110.65ZM152.46 347.90H153.96V365.50H152.46ZM161.42 347.90H162.92V365.50H161.42ZM167.40 347.90H170.38V365.50H167.40ZM183.82 347.90H185.32V365.50H183.82ZM188.30 347.90H189.80V365.50H188.30ZM210.70 347.90H213.69V365.50H210.70ZM221.16 347.90H224.14V365.50H221.16ZM230.12 347.90H234.60V365.50H230.12ZM236.09 347.90H239.08V365.50H236.09ZM240.57 347.90H246.55V365.50H240.57ZM249.53 347.90H252.52V365.50H249.53ZM257.00 347.90H258.49V365.50H257.00ZM259.99 347.90H262.97V365.50H259.99ZM267.45 347.90H270.44V365.50H267.45ZM271.93 347.90H276.41V365.50H271.93ZM277.91 347.90H279.40V365.50H277.91Z" fill="#111111"/>
<text x="284.90" y="360.00" font-size="8.7" fill="#1a1a1a" stroke="#1a1a1a" stroke-width="0.15" textLength="23.00" lengthAdjust="spacingAndGlyphs">0.0014</text>
<rect x="76.30" y="366.20" width="203.10" height="17.60" fill="#efefef"/>
<path d="M76.30 366.20H77.79V383.80H76.30ZM79.29 366.20H80.78V383.80H79.29ZM83.77 366.20H85.26V383.80H83.77ZM103.18 366.20H106.17V383.80H103.18ZM110.65 366.20H112.14V383.80H110.65ZM128.57 366.20H130.06V383.80H128.57ZM149.48 366.20H150.97V383.80H149.48ZM165.90 366.20H167.40V383.80H165.90ZM197.26 366.20H198.76V383.80H197.26Z" fill="#111111"/>
<text x="284.90" y="378.40" font-size="8.7" fill="#1a1a1a" stroke="#1a1a1a" stroke-width="0.15" textLength="18.70" lengthAdjust="spacingAndGlyphs">0.029</text>
<rect x="76.30" y="384.40" width="203.10" height="17.90" fill="#efefef"/>
<path d="M77.79 384.40H79.29V402.30H77.79ZM86.75 384.40H88.25V402.30H86.75ZM109.15 384.40H110.65V402.30H109.15ZM119.61 384.40H122.59V402.30H119.61ZM145.00 384.40H146.49V402.30H145.00ZM162.92 384.40H164.41V402.30H162.92ZM170.38 384.40H171.88V402.30H170.38ZM179.34 384.40H182.33V402.30H179.34ZM186.81 384.40H189.80V402.30H186.81ZM198.76 384.40H200.25V402.30H198.76ZM201.74 384.40H203.24V402.30H201.74ZM204.73 384.40H206.22V402.30H204.73ZM210.70 384.40H212.20V402.30H210.70ZM216.68 384.40H219.66V402.30H216.68ZM228.62 384.40H230.12V402.30H228.62ZM237.59 384.40H240.57V402.30H237.59ZM243.56 384.40H254.01V402.30H243.56ZM259.99 384.40H265.96V402.30H259.99ZM271.93 384.40H274.92V402.30H271.93ZM277.91 384.40H279.40V402.30H277.91Z" fill="#b82a48"/>
<text x="284.90" y="396.50" font-size="8.7" fill="#1a1a1a" stroke="#1a1a1a" stroke-width="0.15" textLength="18.40" lengthAdjust="spacingAndGlyphs">0.082</text>
<rect x="76.30" y="402.90" width="203.10" height="17.90" fill="#efefef"/>
<path d="M79.29 402.90H80.78V420.80H79.29ZM98.70 402.90H100.19V420.80H98.70ZM149.48 402.90H150.97V420.80H149.48ZM168.89 402.90H170.38V420.80H168.89ZM171.88 402.90H173.37V420.80H171.88ZM174.86 402.90H176.36V420.80H174.86ZM200.25 402.90H201.74V420.80H200.25ZM212.20 402.90H213.69V420.80H212.20ZM221.16 402.90H222.65V420.80H221.16ZM228.62 402.90H230.12V420.80H228.62ZM234.60 402.90H236.09V420.80H234.60ZM246.55 402.90H251.03V420.80H246.55ZM252.52 402.90H254.01V420.80H252.52ZM261.48 402.90H262.97V420.80H261.48ZM264.47 402.90H265.96V420.80H264.47ZM267.45 402.90H270.44V420.80H267.45ZM271.93 402.90H273.43V420.80H271.93ZM274.92 402.90H276.41V420.80H274.92Z" fill="#4a6aa0"/>
<text x="284.90" y="414.50" font-size="8.7" fill="#1a1a1a" stroke="#1a1a1a" stroke-width="0.15" textLength="18.70" lengthAdjust="spacingAndGlyphs">0.094</text>
<text x="73.20" y="359.30" font-size="10.4" fill="#1a1a1a" stroke="#1a1a1a" stroke-width="0.15" text-anchor="end" font-style="italic" textLength="22.30" lengthAdjust="spacingAndGlyphs">TP53</text>
<text x="73.20" y="378.00" font-size="10.4" fill="#1a1a1a" stroke="#1a1a1a" stroke-width="0.15" text-anchor="end" font-style="italic" textLength="25.00" lengthAdjust="spacingAndGlyphs">BRAF</text>
<text x="72.80" y="396.00" font-size="10.4" fill="#1a1a1a" stroke="#1a1a1a" stroke-width="0.15" text-anchor="end" textLength="16.30" lengthAdjust="spacingAndGlyphs">18q</text>
<text x="72.70" y="415.00" font-size="10.4" fill="#1a1a1a" stroke="#1a1a1a" stroke-width="0.15" text-anchor="end" textLength="31.00" lengthAdjust="spacingAndGlyphs">8q12.1</text>
<text x="72.70" y="435.50" font-size="10.4" fill="#1a1a1a" stroke="#1a1a1a" stroke-width="0.15" text-anchor="end" textLength="57.40" lengthAdjust="spacingAndGlyphs">Cell of origin</text>
<text x="72.20" y="452.30" font-size="10.4" fill="#1a1a1a" stroke="#1a1a1a" stroke-width="0.15" text-anchor="end" textLength="10.80" lengthAdjust="spacingAndGlyphs">IPI</text>
<text x="72.70" y="470.00" font-size="10.4" fill="#1a1a1a" stroke="#1a1a1a" stroke-width="0.15" text-anchor="end" textLength="33.70" lengthAdjust="spacingAndGlyphs">Gender</text>
<rect x="76.00" y="425.50" width="3.23" height="13.50" fill="#c8201e"/>
<rect x="79.23" y="425.50" width="2.85" height="13.50" fill="#6aa8de"/>
<rect x="82.08" y="425.50" width="1.92" height="13.50" fill="#c8201e"/>
<rect x="84.00" y="425.50" width="1.00" height="13.50" fill="#6aa8de"/>
<rect x="85.00" y="425.50" width="2.08" height="13.50" fill="#c8201e"/>
<rect x="87.08" y="425.50" width="1.00" height="13.50" fill="#6aa8de"/>
<rect x="88.08" y="425.50" width="1.92" height="13.50" fill="#c8201e"/>
<rect x="90.00" y="425.50" width="1.08" height="13.50" fill="#6aa8de"/>
<rect x="91.08" y="425.50" width="3.08" height="13.50" fill="#c8201e"/>
<rect x="94.15" y="425.50" width="1.77" height="13.50" fill="#6aa8de"/>
<rect x="95.92" y="425.50" width="4.23" height="13.50" fill="#c8201e"/>
<rect x="100.15" y="425.50" width="2.92" height="13.50" fill="#6aa8de"/>
<rect x="103.08" y="425.50" width="2.85" height="13.50" fill="#c8201e"/>
<rect x="105.92" y="425.50" width="1.92" height="13.50" fill="#6aa8de"/>
<rect x="107.85" y="425.50" width="1.38" height="13.50" fill="#c8201e"/>
<rect x="109.23" y="425.50" width="1.54" height="13.50" fill="#6aa8de"/>
<rect x="110.77" y="425.50" width="2.62" height="13.50" fill="#5aa83c"/>
<rect x="113.38" y="425.50" width="1.69" height="13.50" fill="#c8201e"/>
<rect x="115.08" y="425.50" width="1.54" height="13.50" fill="#6aa8de"/>
<rect x="116.62" y="425.50" width="1.38" height="13.50" fill="#c8201e"/>
<rect x="118.00" y="425.50" width="3.00" height="13.50" fill="#6aa8de"/>
<rect x="121.00" y="425.50" width="1.77" height="13.50" fill="#5aa83c"/>
<rect x="122.77" y="425.50" width="1.15" height="13.50" fill="#6aa8de"/>
<rect x="123.92" y="425.50" width="1.92" height="13.50" fill="#c8201e"/>
<rect x="125.85" y="425.50" width="1.00" height="13.50" fill="#6aa8de"/>
<rect x="126.85" y="425.50" width="1.69" height="13.50" fill="#c8201e"/>
<rect x="128.54" y="425.50" width="1.54" height="13.50" fill="#5aa83c"/>
<rect x="130.08" y="425.50" width="2.85" height="13.50" fill="#c8201e"/>
<rect x="132.92" y="425.50" width="3.08" height="13.50" fill="#6aa8de"/>
<rect x="136.00" y="425.50" width="1.38" height="13.50" fill="#5aa83c"/>
<rect x="137.38" y="425.50" width="1.54" height="13.50" fill="#c8201e"/>
<rect x="138.92" y="425.50" width="1.54" height="13.50" fill="#5aa83c"/>
<rect x="140.46" y="425.50" width="1.54" height="13.50" fill="#6aa8de"/>
<rect x="142.00" y="425.50" width="1.38" height="13.50" fill="#5aa83c"/>
<rect x="143.38" y="425.50" width="1.54" height="13.50" fill="#c8201e"/>
<rect x="144.92" y="425.50" width="1.31" height="13.50" fill="#6aa8de"/>
<rect x="146.23" y="425.50" width="1.77" height="13.50" fill="#c8201e"/>
<rect x="148.00" y="425.50" width="1.31" height="13.50" fill="#6aa8de"/>
<rect x="149.31" y="425.50" width="1.54" height="13.50" fill="#c8201e"/>
<rect x="150.85" y="425.50" width="1.69" height="13.50" fill="#6aa8de"/>
<rect x="152.54" y="425.50" width="1.15" height="13.50" fill="#5aa83c"/>
<rect x="153.69" y="425.50" width="1.54" height="13.50" fill="#c8201e"/>
<rect x="155.23" y="425.50" width="3.31" height="13.50" fill="#6aa8de"/>
<rect x="158.54" y="425.50" width="4.38" height="13.50" fill="#c8201e"/>
<rect x="162.92" y="425.50" width="6.00" height="13.50" fill="#6aa8de"/>
<rect x="168.92" y="425.50" width="1.15" height="13.50" fill="#5aa83c"/>
<rect x="170.08" y="425.50" width="1.85" height="13.50" fill="#c8201e"/>
<rect x="171.92" y="425.50" width="1.23" height="13.50" fill="#5aa83c"/>
<rect x="173.15" y="425.50" width="1.85" height="13.50" fill="#c8201e"/>
<rect x="175.00" y="425.50" width="2.77" height="13.50" fill="#6aa8de"/>
<rect x="177.77" y="425.50" width="1.54" height="13.50" fill="#c8201e"/>
<rect x="179.31" y="425.50" width="1.69" height="13.50" fill="#6aa8de"/>
<rect x="181.00" y="425.50" width="1.54" height="13.50" fill="#c8201e"/>
<rect x="182.54" y="425.50" width="1.38" height="13.50" fill="#5aa83c"/>
<rect x="183.92" y="425.50" width="7.23" height="13.50" fill="#6aa8de"/>
<rect x="191.15" y="425.50" width="1.54" height="13.50" fill="#5aa83c"/>
<rect x="192.69" y="425.50" width="1.54" height="13.50" fill="#c8201e"/>
<rect x="194.23" y="425.50" width="1.77" height="13.50" fill="#6aa8de"/>
<rect x="196.00" y="425.50" width="2.85" height="13.50" fill="#c8201e"/>
<rect x="198.85" y="425.50" width="1.38" height="13.50" fill="#6aa8de"/>
<rect x="200.23" y="425.50" width="2.85" height="13.50" fill="#5aa83c"/>
<rect x="203.08" y="425.50" width="1.92" height="13.50" fill="#c8201e"/>
<rect x="205.00" y="425.50" width="1.15" height="13.50" fill="#5aa83c"/>
<rect x="206.15" y="425.50" width="1.77" height="13.50" fill="#c8201e"/>
<rect x="207.92" y="425.50" width="1.31" height="13.50" fill="#5aa83c"/>
<rect x="209.23" y="425.50" width="4.62" height="13.50" fill="#c8201e"/>
<rect x="213.85" y="425.50" width="1.15" height="13.50" fill="#5aa83c"/>
<rect x="215.00" y="425.50" width="1.92" height="13.50" fill="#c8201e"/>
<rect x="216.92" y="425.50" width="1.15" height="13.50" fill="#6aa8de"/>
<rect x="218.08" y="425.50" width="1.92" height="13.50" fill="#c8201e"/>
<rect x="220.00" y="425.50" width="1.15" height="13.50" fill="#6aa8de"/>
<rect x="221.15" y="425.50" width="1.77" height="13.50" fill="#c8201e"/>
<rect x="222.92" y="425.50" width="2.46" height="13.50" fill="#6aa8de"/>
<rect x="225.38" y="425.50" width="1.54" height="13.50" fill="#c8201e"/>
<rect x="226.92" y="425.50" width="4.62" height="13.50" fill="#6aa8de"/>
<rect x="231.54" y="425.50" width="1.46" height="13.50" fill="#c8201e"/>
<rect x="233.00" y="425.50" width="1.77" height="13.50" fill="#6aa8de"/>
<rect x="234.77" y="425.50" width="1.31" height="13.50" fill="#c8201e"/>
<rect x="236.08" y="425.50" width="2.92" height="13.50" fill="#6aa8de"/>
<rect x="239.00" y="425.50" width="1.54" height="13.50" fill="#c8201e"/>
<rect x="240.54" y="425.50" width="3.08" height="13.50" fill="#6aa8de"/>
<rect x="243.62" y="425.50" width="1.54" height="13.50" fill="#c8201e"/>
<rect x="245.15" y="425.50" width="2.69" height="13.50" fill="#6aa8de"/>
<rect x="247.85" y="425.50" width="1.77" height="13.50" fill="#5aa83c"/>
<rect x="249.62" y="425.50" width="1.31" height="13.50" fill="#6aa8de"/>
<rect x="250.92" y="425.50" width="1.38" height="13.50" fill="#c8201e"/>
<rect x="252.31" y="425.50" width="1.69" height="13.50" fill="#5aa83c"/>
<rect x="254.00" y="425.50" width="4.31" height="13.50" fill="#c8201e"/>
<rect x="258.31" y="425.50" width="1.69" height="13.50" fill="#6aa8de"/>
<rect x="260.00" y="425.50" width="1.38" height="13.50" fill="#c8201e"/>
<rect x="261.38" y="425.50" width="1.54" height="13.50" fill="#5aa83c"/>
<rect x="262.92" y="425.50" width="2.85" height="13.50" fill="#6aa8de"/>
<rect x="265.77" y="425.50" width="1.54" height="13.50" fill="#c8201e"/>
<rect x="267.31" y="425.50" width="2.85" height="13.50" fill="#6aa8de"/>
<rect x="270.15" y="425.50" width="1.77" height="13.50" fill="#c8201e"/>
<rect x="271.92" y="425.50" width="8.88" height="13.50" fill="#6aa8de"/>
<rect x="76.00" y="442.80" width="1.85" height="13.60" fill="#f7d582"/>
<rect x="77.85" y="442.80" width="1.15" height="13.60" fill="#bdbdbd"/>
<rect x="79.00" y="442.80" width="2.08" height="13.60" fill="#8dc08a"/>
<rect x="81.08" y="442.80" width="1.00" height="13.60" fill="#bdbdbd"/>
<rect x="82.08" y="442.80" width="1.54" height="13.60" fill="#dde48f"/>
<rect x="83.62" y="442.80" width="1.92" height="13.60" fill="#f7d582"/>
<rect x="85.54" y="442.80" width="1.00" height="13.60" fill="#bdbdbd"/>
<rect x="86.54" y="442.80" width="1.69" height="13.60" fill="#2b7bbd"/>
<rect x="88.23" y="442.80" width="1.15" height="13.60" fill="#dde48f"/>
<rect x="89.38" y="442.80" width="1.38" height="13.60" fill="#bdbdbd"/>
<rect x="90.77" y="442.80" width="2.31" height="13.60" fill="#8dc08a"/>
<rect x="93.08" y="442.80" width="3.23" height="13.60" fill="#dde48f"/>
<rect x="96.31" y="442.80" width="2.15" height="13.60" fill="#bdbdbd"/>
<rect x="98.46" y="442.80" width="3.38" height="13.60" fill="#2b7bbd"/>
<rect x="101.85" y="442.80" width="1.23" height="13.60" fill="#dde48f"/>
<rect x="103.08" y="442.80" width="2.62" height="13.60" fill="#f7d582"/>
<rect x="105.69" y="442.80" width="2.15" height="13.60" fill="#bdbdbd"/>
<rect x="107.85" y="442.80" width="2.92" height="13.60" fill="#f7d582"/>
<rect x="110.77" y="442.80" width="1.08" height="13.60" fill="#bdbdbd"/>
<rect x="111.85" y="442.80" width="1.85" height="13.60" fill="#8dc08a"/>
<rect x="113.69" y="442.80" width="1.38" height="13.60" fill="#bdbdbd"/>
<rect x="115.08" y="442.80" width="1.54" height="13.60" fill="#8dc08a"/>
<rect x="116.62" y="442.80" width="1.54" height="13.60" fill="#2b7bbd"/>
<rect x="118.15" y="442.80" width="1.31" height="13.60" fill="#bdbdbd"/>
<rect x="119.46" y="442.80" width="1.54" height="13.60" fill="#f7d582"/>
<rect x="121.00" y="442.80" width="1.77" height="13.60" fill="#bdbdbd"/>
<rect x="122.77" y="442.80" width="1.31" height="13.60" fill="#dde48f"/>
<rect x="124.08" y="442.80" width="1.38" height="13.60" fill="#8dc08a"/>
<rect x="125.46" y="442.80" width="1.69" height="13.60" fill="#2b7bbd"/>
<rect x="127.15" y="442.80" width="2.92" height="13.60" fill="#dde48f"/>
<rect x="130.08" y="442.80" width="1.54" height="13.60" fill="#bdbdbd"/>
<rect x="131.62" y="442.80" width="1.31" height="13.60" fill="#2b7bbd"/>
<rect x="132.92" y="442.80" width="3.08" height="13.60" fill="#bdbdbd"/>
<rect x="136.00" y="442.80" width="1.38" height="13.60" fill="#dde48f"/>
<rect x="137.38" y="442.80" width="1.54" height="13.60" fill="#2b7bbd"/>
<rect x="138.92" y="442.80" width="1.69" height="13.60" fill="#dde48f"/>
<rect x="140.62" y="442.80" width="1.38" height="13.60" fill="#bdbdbd"/>
<rect x="142.00" y="442.80" width="1.38" height="13.60" fill="#8dc08a"/>
<rect x="143.38" y="442.80" width="1.54" height="13.60" fill="#dc7d48"/>
<rect x="144.92" y="442.80" width="1.54" height="13.60" fill="#8dc08a"/>
<rect x="146.46" y="442.80" width="1.54" height="13.60" fill="#bdbdbd"/>
<rect x="148.00" y="442.80" width="2.85" height="13.60" fill="#dde48f"/>
<rect x="150.85" y="442.80" width="1.31" height="13.60" fill="#f7d582"/>
<rect x="152.15" y="442.80" width="1.92" height="13.60" fill="#2b7bbd"/>
<rect x="154.08" y="442.80" width="1.15" height="13.60" fill="#bdbdbd"/>
<rect x="155.23" y="442.80" width="3.46" height="13.60" fill="#f7d582"/>
<rect x="158.69" y="442.80" width="8.46" height="13.60" fill="#bdbdbd"/>
<rect x="167.15" y="442.80" width="1.92" height="13.60" fill="#f7d582"/>
<rect x="169.08" y="442.80" width="4.23" height="13.60" fill="#bdbdbd"/>
<rect x="173.31" y="442.80" width="1.54" height="13.60" fill="#8dc08a"/>
<rect x="174.85" y="442.80" width="1.54" height="13.60" fill="#f7d582"/>
<rect x="176.38" y="442.80" width="1.54" height="13.60" fill="#dde48f"/>
<rect x="177.92" y="442.80" width="1.54" height="13.60" fill="#8dc08a"/>
<rect x="179.46" y="442.80" width="2.15" height="13.60" fill="#dde48f"/>
<rect x="181.62" y="442.80" width="2.31" height="13.60" fill="#2b7bbd"/>
<rect x="183.92" y="442.80" width="0.92" height="13.60" fill="#bdbdbd"/>
<rect x="184.85" y="442.80" width="2.15" height="13.60" fill="#2b7bbd"/>
<rect x="187.00" y="442.80" width="1.08" height="13.60" fill="#dde48f"/>
<rect x="188.08" y="442.80" width="4.62" height="13.60" fill="#bdbdbd"/>
<rect x="192.69" y="442.80" width="1.54" height="13.60" fill="#2b7bbd"/>
<rect x="194.23" y="442.80" width="1.31" height="13.60" fill="#f7d582"/>
<rect x="195.54" y="442.80" width="1.38" height="13.60" fill="#dde48f"/>
<rect x="196.92" y="442.80" width="3.08" height="13.60" fill="#bdbdbd"/>
<rect x="200.00" y="442.80" width="1.92" height="13.60" fill="#f7d582"/>
<rect x="201.92" y="442.80" width="2.69" height="13.60" fill="#2b7bbd"/>
<rect x="204.62" y="442.80" width="3.08" height="13.60" fill="#f7d582"/>
<rect x="207.69" y="442.80" width="1.54" height="13.60" fill="#2b7bbd"/>
<rect x="209.23" y="442.80" width="1.92" height="13.60" fill="#f7d582"/>
<rect x="211.15" y="442.80" width="1.15" height="13.60" fill="#8dc08a"/>
<rect x="212.31" y="442.80" width="1.92" height="13.60" fill="#bdbdbd"/>
<rect x="214.23" y="442.80" width="1.15" height="13.60" fill="#dde48f"/>
<rect x="215.38" y="442.80" width="2.69" height="13.60" fill="#8dc08a"/>
<rect x="218.08" y="442.80" width="1.54" height="13.60" fill="#bdbdbd"/>
<rect x="219.62" y="442.80" width="1.54" height="13.60" fill="#2b7bbd"/>
<rect x="221.15" y="442.80" width="2.69" height="13.60" fill="#dde48f"/>
<rect x="223.85" y="442.80" width="3.08" height="13.60" fill="#8dc08a"/>
<rect x="226.92" y="442.80" width="1.54" height="13.60" fill="#dde48f"/>
<rect x="228.46" y="442.80" width="1.69" height="13.60" fill="#8dc08a"/>
<rect x="230.15" y="442.80" width="2.85" height="13.60" fill="#2b7bbd"/>
<rect x="233.00" y="442.80" width="1.38" height="13.60" fill="#8dc08a"/>
<rect x="234.38" y="442.80" width="1.54" height="13.60" fill="#bdbdbd"/>
<rect x="235.92" y="442.80" width="1.92" height="13.60" fill="#2b7bbd"/>
<rect x="237.85" y="442.80" width="2.31" height="13.60" fill="#bdbdbd"/>
<rect x="240.15" y="442.80" width="1.92" height="13.60" fill="#f7d582"/>
<rect x="242.08" y="442.80" width="1.54" height="13.60" fill="#bdbdbd"/>
<rect x="243.62" y="442.80" width="1.54" height="13.60" fill="#8dc08a"/>
<rect x="245.15" y="442.80" width="1.54" height="13.60" fill="#dde48f"/>
<rect x="246.69" y="442.80" width="2.69" height="13.60" fill="#bdbdbd"/>
<rect x="249.38" y="442.80" width="2.54" height="13.60" fill="#f7d582"/>
<rect x="251.92" y="442.80" width="2.31" height="13.60" fill="#2b7bbd"/>
<rect x="254.23" y="442.80" width="1.15" height="13.60" fill="#bdbdbd"/>
<rect x="255.38" y="442.80" width="1.54" height="13.60" fill="#dde48f"/>
<rect x="256.92" y="442.80" width="1.54" height="13.60" fill="#2b7bbd"/>
<rect x="258.46" y="442.80" width="1.54" height="13.60" fill="#8dc08a"/>
<rect x="260.00" y="442.80" width="3.08" height="13.60" fill="#bdbdbd"/>
<rect x="263.08" y="442.80" width="1.15" height="13.60" fill="#8dc08a"/>
<rect x="264.23" y="442.80" width="1.92" height="13.60" fill="#2b7bbd"/>
<rect x="266.15" y="442.80" width="0.92" height="13.60" fill="#bdbdbd"/>
<rect x="267.08" y="442.80" width="1.77" height="13.60" fill="#2b7bbd"/>
<rect x="268.85" y="442.80" width="3.46" height="13.60" fill="#8dc08a"/>
<rect x="272.31" y="442.80" width="1.15" height="13.60" fill="#dde48f"/>
<rect x="273.46" y="442.80" width="1.54" height="13.60" fill="#bdbdbd"/>
<rect x="275.00" y="442.80" width="2.31" height="13.60" fill="#f7d582"/>
<rect x="277.31" y="442.80" width="1.54" height="13.60" fill="#dde48f"/>
<rect x="278.85" y="442.80" width="1.95" height="13.60" fill="#2b7bbd"/>
<rect x="76.00" y="460.00" width="1.85" height="13.70" fill="#1f9a76"/>
<rect x="77.85" y="460.00" width="1.38" height="13.70" fill="#d8621a"/>
<rect x="79.23" y="460.00" width="7.46" height="13.70" fill="#1f9a76"/>
<rect x="86.69" y="460.00" width="1.54" height="13.70" fill="#d8621a"/>
<rect x="88.23" y="460.00" width="2.85" height="13.70" fill="#1f9a76"/>
<rect x="91.08" y="460.00" width="7.69" height="13.70" fill="#d8621a"/>
<rect x="98.77" y="460.00" width="6.00" height="13.70" fill="#1f9a76"/>
<rect x="104.77" y="460.00" width="1.15" height="13.70" fill="#d8621a"/>
<rect x="105.92" y="460.00" width="1.92" height="13.70" fill="#1f9a76"/>
<rect x="107.85" y="460.00" width="1.38" height="13.70" fill="#d8621a"/>
<rect x="109.23" y="460.00" width="5.85" height="13.70" fill="#1f9a76"/>
<rect x="115.08" y="460.00" width="1.69" height="13.70" fill="#d8621a"/>
<rect x="116.77" y="460.00" width="1.38" height="13.70" fill="#1f9a76"/>
<rect x="118.15" y="460.00" width="1.54" height="13.70" fill="#d8621a"/>
<rect x="119.69" y="460.00" width="1.38" height="13.70" fill="#1f9a76"/>
<rect x="121.08" y="460.00" width="2.85" height="13.70" fill="#d8621a"/>
<rect x="123.92" y="460.00" width="1.77" height="13.70" fill="#1f9a76"/>
<rect x="125.69" y="460.00" width="1.31" height="13.70" fill="#d8621a"/>
<rect x="127.00" y="460.00" width="1.54" height="13.70" fill="#1f9a76"/>
<rect x="128.54" y="460.00" width="3.08" height="13.70" fill="#d8621a"/>
<rect x="131.62" y="460.00" width="4.38" height="13.70" fill="#1f9a76"/>
<rect x="136.00" y="460.00" width="2.92" height="13.70" fill="#d8621a"/>
<rect x="138.92" y="460.00" width="3.08" height="13.70" fill="#1f9a76"/>
<rect x="142.00" y="460.00" width="2.92" height="13.70" fill="#d8621a"/>
<rect x="144.92" y="460.00" width="1.54" height="13.70" fill="#1f9a76"/>
<rect x="146.46" y="460.00" width="1.54" height="13.70" fill="#d8621a"/>
<rect x="148.00" y="460.00" width="2.85" height="13.70" fill="#1f9a76"/>
<rect x="150.85" y="460.00" width="3.23" height="13.70" fill="#d8621a"/>
<rect x="154.08" y="460.00" width="2.92" height="13.70" fill="#1f9a76"/>
<rect x="157.00" y="460.00" width="1.31" height="13.70" fill="#d8621a"/>
<rect x="158.31" y="460.00" width="1.77" height="13.70" fill="#1f9a76"/>
<rect x="160.08" y="460.00" width="2.85" height="13.70" fill="#d8621a"/>
<rect x="162.92" y="460.00" width="1.31" height="13.70" fill="#1f9a76"/>
<rect x="164.23" y="460.00" width="1.77" height="13.70" fill="#d8621a"/>
<rect x="166.00" y="460.00" width="4.23" height="13.70" fill="#1f9a76"/>
<rect x="170.23" y="460.00" width="1.54" height="13.70" fill="#d8621a"/>
<rect x="171.77" y="460.00" width="1.69" height="13.70" fill="#1f9a76"/>
<rect x="173.46" y="460.00" width="5.85" height="13.70" fill="#d8621a"/>
<rect x="179.31" y="460.00" width="2.85" height="13.70" fill="#1f9a76"/>
<rect x="182.15" y="460.00" width="1.77" height="13.70" fill="#d8621a"/>
<rect x="183.92" y="460.00" width="5.92" height="13.70" fill="#1f9a76"/>
<rect x="189.85" y="460.00" width="8.77" height="13.70" fill="#d8621a"/>
<rect x="198.62" y="460.00" width="1.54" height="13.70" fill="#1f9a76"/>
<rect x="200.15" y="460.00" width="1.54" height="13.70" fill="#d8621a"/>
<rect x="201.69" y="460.00" width="1.54" height="13.70" fill="#1f9a76"/>
<rect x="203.23" y="460.00" width="1.54" height="13.70" fill="#d8621a"/>
<rect x="204.77" y="460.00" width="1.54" height="13.70" fill="#1f9a76"/>
<rect x="206.31" y="460.00" width="2.54" height="13.70" fill="#d8621a"/>
<rect x="208.85" y="460.00" width="2.08" height="13.70" fill="#1f9a76"/>
<rect x="210.92" y="460.00" width="2.92" height="13.70" fill="#d8621a"/>
<rect x="213.85" y="460.00" width="6.15" height="13.70" fill="#1f9a76"/>
<rect x="220.00" y="460.00" width="10.15" height="13.70" fill="#d8621a"/>
<rect x="230.15" y="460.00" width="2.85" height="13.70" fill="#1f9a76"/>
<rect x="233.00" y="460.00" width="8.92" height="13.70" fill="#d8621a"/>
<rect x="241.92" y="460.00" width="1.85" height="13.70" fill="#1f9a76"/>
<rect x="243.77" y="460.00" width="1.23" height="13.70" fill="#d8621a"/>
<rect x="245.00" y="460.00" width="1.54" height="13.70" fill="#1f9a76"/>
<rect x="246.54" y="460.00" width="1.54" height="13.70" fill="#d8621a"/>
<rect x="248.08" y="460.00" width="1.54" height="13.70" fill="#1f9a76"/>
<rect x="249.62" y="460.00" width="7.31" height="13.70" fill="#d8621a"/>
<rect x="256.92" y="460.00" width="1.69" height="13.70" fill="#1f9a76"/>
<rect x="258.62" y="460.00" width="2.54" height="13.70" fill="#d8621a"/>
<rect x="261.15" y="460.00" width="1.77" height="13.70" fill="#1f9a76"/>
<rect x="262.92" y="460.00" width="4.15" height="13.70" fill="#d8621a"/>
<rect x="267.08" y="460.00" width="4.85" height="13.70" fill="#1f9a76"/>
<rect x="271.92" y="460.00" width="8.88" height="13.70" fill="#d8621a"/>
<text x="331.50" y="354.50" font-size="8.7" fill="#1a1a1a" stroke="#1a1a1a" stroke-width="0.15" textLength="33.90" lengthAdjust="spacingAndGlyphs">Alteration</text>
<rect x="331.20" y="359.60" width="9.20" height="8.80" fill="#000000"/>
<text x="344.60" y="365.70" font-size="8.7" fill="#1a1a1a" stroke="#1a1a1a" stroke-width="0.15" textLength="88.90" lengthAdjust="spacingAndGlyphs">Nonsynonymous mutation</text>
<rect x="331.20" y="370.90" width="9.20" height="8.80" fill="#c42a20"/>
<text x="344.60" y="377.00" font-size="8.7" fill="#1a1a1a" stroke="#1a1a1a" stroke-width="0.15" textLength="44.60" lengthAdjust="spacingAndGlyphs">Amplification</text>
<rect x="331.20" y="382.20" width="9.20" height="8.80" fill="#3a5a9a"/>
<text x="344.60" y="388.30" font-size="8.7" fill="#1a1a1a" stroke="#1a1a1a" stroke-width="0.15" textLength="28.90" lengthAdjust="spacingAndGlyphs">Deletion</text>
<text x="454.70" y="355.00" font-size="8.2" fill="#1a1a1a" stroke="#1a1a1a" stroke-width="0.15" textLength="8.70" lengthAdjust="spacingAndGlyphs">IPI</text>
<rect x="454.40" y="359.30" width="9.20" height="8.80" fill="#2b7bbd"/>
<text x="467.50" y="365.70" font-size="8.2" fill="#1a1a1a" stroke="#1a1a1a" stroke-width="0.15">0</text>
<rect x="454.40" y="370.55" width="9.20" height="8.80" fill="#8dc08a"/>
<text x="467.50" y="376.95" font-size="8.2" fill="#1a1a1a" stroke="#1a1a1a" stroke-width="0.15">1</text>
<rect x="454.40" y="381.80" width="9.20" height="8.80" fill="#dde48f"/>
<text x="467.50" y="388.20" font-size="8.2" fill="#1a1a1a" stroke="#1a1a1a" stroke-width="0.15">2</text>
<rect x="454.40" y="393.05" width="9.20" height="8.80" fill="#f7d582"/>
<text x="467.50" y="399.45" font-size="8.2" fill="#1a1a1a" stroke="#1a1a1a" stroke-width="0.15">3</text>
<rect x="454.40" y="404.30" width="9.20" height="8.80" fill="#dc7d48"/>
<text x="467.50" y="410.70" font-size="8.2" fill="#1a1a1a" stroke="#1a1a1a" stroke-width="0.15">4</text>
<rect x="454.40" y="415.55" width="9.20" height="8.80" fill="#bdbdbd"/>
<text x="467.50" y="421.95" font-size="8.2" fill="#1a1a1a" stroke="#1a1a1a" stroke-width="0.15">NA</text>
<text x="330.80" y="437.50" font-size="8.7" fill="#1a1a1a" stroke="#1a1a1a" stroke-width="0.15" textLength="45.20" lengthAdjust="spacingAndGlyphs">Cell of origin</text>
<rect x="330.80" y="442.30" width="9.20" height="8.80" fill="#c8201e"/>
<text x="343.80" y="449.00" font-size="8.7" fill="#1a1a1a" stroke="#1a1a1a" stroke-width="0.15" textLength="16.40" lengthAdjust="spacingAndGlyphs">GCB</text>
<rect x="330.80" y="453.55" width="9.20" height="8.80" fill="#6aa8de"/>
<text x="343.80" y="460.25" font-size="8.7" fill="#1a1a1a" stroke="#1a1a1a" stroke-width="0.15" textLength="15.80" lengthAdjust="spacingAndGlyphs">ABC</text>
<rect x="330.80" y="464.80" width="9.20" height="8.80" fill="#5aa83c"/>
<text x="343.80" y="471.50" font-size="8.7" fill="#1a1a1a" stroke="#1a1a1a" stroke-width="0.15" textLength="40.20" lengthAdjust="spacingAndGlyphs">Unclassified</text>
<text x="454.80" y="448.70" font-size="8.7" fill="#1a1a1a" stroke="#1a1a1a" stroke-width="0.15" textLength="25.70" lengthAdjust="spacingAndGlyphs">Gender</text>
<rect x="454.80" y="453.40" width="9.20" height="8.80" fill="#1f9a76"/>
<text x="467.50" y="460.10" font-size="8.7" fill="#1a1a1a" stroke="#1a1a1a" stroke-width="0.15" textLength="24.80" lengthAdjust="spacingAndGlyphs">Female</text>
<rect x="454.80" y="464.60" width="9.20" height="8.80" fill="#d0601a"/>
<text x="467.50" y="471.30" font-size="8.7" fill="#1a1a1a" stroke="#1a1a1a" stroke-width="0.15" textLength="16.50" lengthAdjust="spacingAndGlyphs">Male</text>
<rect x="0.5" y="0.5" width="519" height="480" fill="none" stroke="#000" stroke-width="1"/>
</svg>
</body></html>
